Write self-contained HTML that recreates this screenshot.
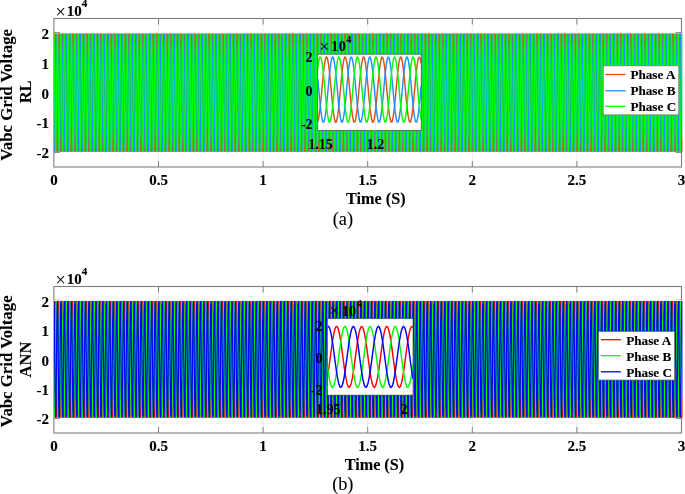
<!DOCTYPE html>
<html><head><meta charset="utf-8"><style>
html,body{margin:0;padding:0;background:#fff;width:685px;height:494px;overflow:hidden;position:relative}
svg{position:absolute;left:0;top:0;display:block}
.top{will-change:transform}
text{font-family:"Liberation Serif", serif;fill:#000;stroke:#000;stroke-width:0.12px}
.band{position:absolute}
.band i{display:block;width:100%;height:1px;background-size:7px 1px;background-repeat:repeat-x;background-position:var(--o) 0}
.a02{background-image:linear-gradient(90deg,#aacc71 0px 1px,#c3a4a3 1px 2px,#72c6e6 2px 3px,#5eff5e 3px 4px,#e6916b 4px 5px,#7fb7f2 5px 6px,#6aed8e 6px 7px)}
.a03{background-image:linear-gradient(90deg,#5ab80a 0px 1px,#846f81 1px 2px,#15b0b5 2px 3px,#00ff00 3px 4px,#c76217 4px 5px,#278df4 5px 6px,#06e836 6px 7px)}
.a04{background-image:linear-gradient(90deg,#4ec109 0px 1px,#7a728e 1px 2px,#14b5a9 2px 3px,#00ff00 3px 4px,#b96b17 4px 5px,#1e90ff 5px 6px,#05ed2a 6px 7px)}
.a05{background-image:linear-gradient(90deg,#47c708 0px 1px,#737496 1px 2px,#13baa0 2px 3px,#00ff00 3px 4px,#ab741f 4px 5px,#1e90ff 5px 6px,#04f120 6px 7px)}
.a06{background-image:linear-gradient(90deg,#40cc07 0px 1px,#6e769d 1px 2px,#12bd97 2px 3px,#00ff00 3px 4px,#9f7b25 4px 5px,#1e90ff 5px 6px,#03f518 6px 7px)}
.a07{background-image:linear-gradient(90deg,#3ad107 0px 1px,#6978a3 1px 2px,#11c090 2px 3px,#00ff00 3px 4px,#95812a 4px 5px,#1e90ff 5px 6px,#02f811 6px 7px)}
.a08{background-image:linear-gradient(90deg,#36d406 0px 1px,#6479a9 1px 2px,#10c38b 2px 3px,#00ff00 3px 4px,#8b8630 4px 5px,#1e90ff 5px 6px,#01fa0b 6px 7px)}
.a09{background-image:linear-gradient(90deg,#30d905 0px 1px,#607aad 1px 2px,#10c486 2px 3px,#00ff00 3px 4px,#818c33 4px 5px,#1e90ff 5px 6px,#01fc07 6px 7px)}
.a0a{background-image:linear-gradient(90deg,#2cdc05 0px 1px,#5e7bb0 1px 2px,#0fc880 2px 3px,#00ff00 3px 4px,#7b8f36 4px 5px,#1e90ff 5px 6px,#00ff00 6px 7px)}
.a0b{background-image:linear-gradient(90deg,#29df05 0px 1px,#587db7 1px 2px,#0fc97c 2px 3px,#00ff00 3px 4px,#72943c 4px 5px,#1e92fb 5px 6px,#00ff00 6px 7px)}
.a0c{background-image:linear-gradient(90deg,#24e204 0px 1px,#577db9 1px 2px,#0ecb78 2px 3px,#00ff00 3px 4px,#6c983e 4px 5px,#1d93f7 5px 6px,#00ff00 6px 7px)}
.a0d{background-image:linear-gradient(90deg,#22e404 0px 1px,#537fbe 1px 2px,#0dcd72 2px 3px,#00ff00 3px 4px,#669b43 4px 5px,#1c96f2 5px 6px,#00ff00 6px 7px)}
.a0e{background-image:linear-gradient(90deg,#1de803 0px 1px,#5080c1 1px 2px,#0dce70 2px 3px,#00ff00 3px 4px,#5ea045 4px 5px,#1c97ef 5px 6px,#00ff00 6px 7px)}
.a0f{background-image:linear-gradient(90deg,#1bea03 0px 1px,#4d81c6 1px 2px,#0cd16a 2px 3px,#00ff00 3px 4px,#59a349 4px 5px,#1b9ae9 5px 6px,#00ff00 6px 7px)}
.a0g{background-image:linear-gradient(90deg,#16ed03 0px 1px,#4b81c8 1px 2px,#0cd268 2px 3px,#00ff00 3px 4px,#52a74b 4px 5px,#1b9ae7 5px 6px,#00ff00 6px 7px)}
.a0h{background-image:linear-gradient(90deg,#14ef02 0px 1px,#4783cd 1px 2px,#0cd462 2px 3px,#00ff00 3px 4px,#4caa50 4px 5px,#1b9de2 5px 6px,#00ff00 6px 7px)}
.a0i{background-image:linear-gradient(90deg,#10f202 0px 1px,#4683ce 1px 2px,#0bd560 2px 3px,#00ff00 3px 4px,#47ae50 4px 5px,#1a9edf 5px 6px,#00ff00 6px 7px)}
.a0j{background-image:linear-gradient(90deg,#0ef402 0px 1px,#4185d4 1px 2px,#0bd75c 2px 3px,#00ff00 3px 4px,#40b156 4px 5px,#1a9fdc 5px 6px,#00ff00 6px 7px)}
.a0k{background-image:linear-gradient(90deg,#0cf601 0px 1px,#4185d4 1px 2px,#0ad958 2px 3px,#00ff00 3px 4px,#3eb356 4px 5px,#19a1d7 5px 6px,#00ff00 6px 7px)}
.a0l{background-image:linear-gradient(90deg,#07fa01 0px 1px,#3c86da 1px 2px,#0ad957 2px 3px,#00ff00 3px 4px,#34b85b 4px 5px,#19a2d6 5px 6px,#00ff00 6px 7px)}
.a0m{background-image:linear-gradient(90deg,#07fa01 0px 1px,#3b86db 1px 2px,#09dc50 2px 3px,#00ff00 3px 4px,#33b95c 4px 5px,#18a5cf 5px 6px,#00ff00 6px 7px)}
.a0n{background-image:linear-gradient(90deg,#01fe00 0px 1px,#3987de 1px 2px,#09dc50 2px 3px,#00ff00 3px 4px,#2bbe5f 4px 5px,#18a5cf 5px 6px,#00ff00 6px 7px)}
.a0o{background-image:linear-gradient(90deg,#00ff00 0px 1px,#3588e2 1px 2px,#09de4b 2px 3px,#00ff00 3px 4px,#26c063 4px 5px,#18a7ca 5px 6px,#00ff00 6px 7px)}
.a0p{background-image:linear-gradient(90deg,#00ff00 0px 1px,#338ae2 1px 2px,#08e048 2px 3px,#00ff00 3px 4px,#24c263 4px 5px,#17a8c7 5px 6px,#00ff00 6px 7px)}
.a0q{background-image:linear-gradient(90deg,#00ff00 0px 1px,#2a8fe8 1px 2px,#08e047 2px 3px,#00ff00 3px 4px,#1bc768 4px 5px,#17a8c7 5px 6px,#00ff00 6px 7px)}
.a0r{background-image:linear-gradient(90deg,#00ff00 0px 1px,#2990e9 1px 2px,#08e340 2px 3px,#00ff00 3px 4px,#1ac769 4px 5px,#16acbf 5px 6px,#00ff00 6px 7px)}
.a0s{background-image:linear-gradient(90deg,#00ff00 0px 1px,#2394e9 1px 2px,#08e340 2px 3px,#00ff00 3px 4px,#14cb6a 4px 5px,#16acbf 5px 6px,#00ff00 6px 7px)}
.a0t{background-image:linear-gradient(90deg,#00ff00 0px 1px,#1c97ef 1px 2px,#07e43e 2px 3px,#00ff00 3px 4px,#0dce70 4px 5px,#16adbe 5px 6px,#00ff00 6px 7px)}
.a0u{background-image:linear-gradient(90deg,#00ff00 0px 1px,#1c97ef 1px 2px,#07e738 2px 3px,#00ff00 3px 4px,#0dce70 4px 5px,#16afb7 5px 6px,#00ff00 6px 7px)}
.a0v{background-image:linear-gradient(90deg,#00ff00 0px 1px,#1b9ae8 1px 2px,#07e738 2px 3px,#00ff00 3px 4px,#0cd268 4px 5px,#16afb7 5px 6px,#00ff00 6px 7px)}
.a0w{background-image:linear-gradient(90deg,#00ff00 0px 1px,#1b9ae7 1px 2px,#06e835 2px 3px,#00ff00 3px 4px,#0cd268 4px 5px,#15b1b4 5px 6px,#00ff00 6px 7px)}
.a0x{background-image:linear-gradient(90deg,#00ff00 0px 1px,#1b9be6 1px 2px,#06ea30 2px 3px,#00ff00 3px 4px,#0cd267 4px 5px,#15b3af 5px 6px,#00ff00 6px 7px)}
.a0y{background-image:linear-gradient(90deg,#00ff00 0px 1px,#1a9edf 1px 2px,#06ea30 2px 3px,#00ff00 3px 4px,#0bd560 4px 5px,#15b3af 5px 6px,#00ff00 6px 7px)}
.a0z{background-image:linear-gradient(90deg,#00ff00 0px 1px,#1a9edf 1px 2px,#05ec2c 2px 3px,#00fd03 3px 4px,#0bd560 4px 5px,#14b4ac 5px 6px,#00fd03 6px 7px)}
.a010{background-image:linear-gradient(90deg,#00ff00 0px 1px,#1a9fde 1px 2px,#05ee28 2px 3px,#01fb09 3px 4px,#0bd65e 4px 5px,#14b6a7 5px 6px,#01fb09 6px 7px)}
.a011{background-image:linear-gradient(90deg,#00ff00 0px 1px,#19a1d7 1px 2px,#05ee28 2px 3px,#02f810 3px 4px,#0ad958 4px 5px,#14b6a7 5px 6px,#02f810 6px 7px)}
.a012{background-image:linear-gradient(90deg,#00ff00 0px 1px,#19a1d7 1px 2px,#04ef24 2px 3px,#02f614 3px 4px,#0ad958 4px 5px,#13b8a3 5px 6px,#02f614 6px 7px)}
.a013{background-image:linear-gradient(90deg,#00ff00 0px 1px,#19a2d6 1px 2px,#04f120 2px 3px,#03f419 3px 4px,#0ad956 4px 5px,#13ba9f 5px 6px,#03f419 6px 7px)}
.a014{background-image:linear-gradient(90deg,#00ff00 0px 1px,#18a5cf 1px 2px,#04f120 2px 3px,#04f120 3px 4px,#09dc50 4px 5px,#13ba9f 5px 6px,#04f120 6px 7px)}
.a015{background-image:linear-gradient(90deg,#00ff00 0px 1px,#18a5cf 1px 2px,#03f31c 2px 3px,#04f023 3px 4px,#09dc50 4px 5px,#12bb9c 5px 6px,#04f023 6px 7px)}
.a016{background-image:linear-gradient(90deg,#00ff00 0px 1px,#18a5ce 1px 2px,#03f518 2px 3px,#05ed28 3px 4px,#09dd4f 4px 5px,#12bd97 5px 6px,#05ed28 6px 7px)}
.a017{background-image:linear-gradient(90deg,#00ff00 0px 1px,#17a8c7 1px 2px,#03f518 2px 3px,#06ea30 3px 4px,#08e048 4px 5px,#12bd97 5px 6px,#06ea30 6px 7px)}
.a018{background-image:linear-gradient(90deg,#00ff00 0px 1px,#17a8c7 1px 2px,#03f615 2px 3px,#06e932 3px 4px,#08e048 4px 5px,#12be95 5px 6px,#06e932 6px 7px)}
.a019{background-image:linear-gradient(90deg,#00ff00 0px 1px,#17a8c7 1px 2px,#02f810 2px 3px,#07e738 3px 4px,#08e048 4px 5px,#11c18f 5px 6px,#07e738 6px 7px)}
.a01a{background-image:linear-gradient(90deg,#01fc07 0px 1px,#17acc0 1px 2px,#02f810 2px 3px,#07e43f 3px 4px,#08e340 4px 5px,#11c18f 5px 6px,#07e738 6px 7px)}
.a01b{background-image:linear-gradient(90deg,#01fc08 0px 1px,#16acbf 1px 2px,#02f90f 2px 3px,#08e341 3px 4px,#08e340 4px 5px,#11c18e 5px 6px,#07e639 6px 7px)}
.a01c{background-image:linear-gradient(90deg,#01fc08 0px 1px,#16acbf 1px 2px,#01fc08 2px 3px,#08e048 3px 4px,#08e340 4px 5px,#10c487 5px 6px,#08e340 6px 7px)}
.a01d{background-image:linear-gradient(90deg,#02f90e 0px 1px,#16aeb9 1px 2px,#01fc08 2px 3px,#09dd4e 3px 4px,#07e63a 4px 5px,#10c487 5px 6px,#08e340 6px 7px)}
.a01e{background-image:linear-gradient(90deg,#02f810 0px 1px,#16afb7 1px 2px,#01fc08 2px 3px,#09dc50 3px 4px,#07e738 4px 5px,#10c487 5px 6px,#08e340 6px 7px)}
.a01f{background-image:linear-gradient(90deg,#02f810 0px 1px,#16afb7 1px 2px,#00ff00 2px 3px,#0ad957 3px 4px,#07e738 4px 5px,#0fc780 5px 6px,#08e047 6px 7px)}
.a01g{background-image:linear-gradient(90deg,#02f713 0px 1px,#15b1b4 1px 2px,#00ff00 2px 3px,#0bd75b 3px 4px,#06e834 4px 5px,#0fc880 5px 6px,#08e048 6px 7px)}
.a01h{background-image:linear-gradient(90deg,#03f518 0px 1px,#15b3af 1px 2px,#00ff00 2px 3px,#0bd560 3px 4px,#06ea30 4px 5px,#0fc880 5px 6px,#08e048 6px 7px)}
.a01i{background-image:linear-gradient(90deg,#03f518 0px 1px,#14b5aa 1px 2px,#00ff00 2px 3px,#0cd365 3px 4px,#06ea30 4px 5px,#0eca7a 5px 6px,#09dd4d 6px 7px)}
.a01j{background-image:linear-gradient(90deg,#03f418 0px 1px,#14b6a7 1px 2px,#00ff00 2px 3px,#0cd268 3px 4px,#06ea2f 4px 5px,#0ecb78 5px 6px,#09dc50 6px 7px)}
.a01k{background-image:linear-gradient(90deg,#04f120 0px 1px,#13ba9f 1px 2px,#00ff00 2px 3px,#0dce70 3px 4px,#05ee28 4px 5px,#0ecb78 5px 6px,#09dc50 6px 7px)}
.a01l{background-image:linear-gradient(90deg,#04f120 0px 1px,#12bb9c 1px 2px,#00ff00 2px 3px,#0ecd73 3px 4px,#05ee28 4px 5px,#0ecc74 5px 6px,#0adb53 6px 7px)}
.a01m{background-image:linear-gradient(90deg,#04f120 0px 1px,#12bd97 1px 2px,#00ff00 2px 3px,#0ecb78 3px 4px,#05ee28 4px 5px,#0dce70 5px 6px,#0ad958 6px 7px)}
.a01n{background-image:linear-gradient(90deg,#04ee26 0px 1px,#11c091 1px 2px,#00ff00 2px 3px,#0fc87e 3px 4px,#04f022 4px 5px,#0dce70 5px 6px,#0ad958 6px 7px)}
.a01o{background-image:linear-gradient(90deg,#05ee28 0px 1px,#11c18e 1px 2px,#00ff00 2px 3px,#0fc781 3px 4px,#04f120 4px 5px,#0dcf6e 5px 6px,#0ad859 6px 7px)}
.a01p{background-image:linear-gradient(90deg,#05ee28 0px 1px,#10c487 1px 2px,#00ff00 2px 3px,#10c487 3px 4px,#04f120 4px 5px,#0cd268 5px 6px,#0bd560 6px 7px)}
.a01q{background-image:linear-gradient(90deg,#05ec2c 0px 1px,#0fc683 1px 2px,#00ff00 2px 3px,#10c28b 3px 4px,#03f31c 4px 5px,#0cd268 5px 6px,#0bd560 6px 7px)}
.a01r{background-image:linear-gradient(90deg,#06ea30 0px 1px,#0fc880 1px 2px,#00ff00 2px 3px,#11c18f 3px 4px,#03f518 4px 5px,#0cd268 5px 6px,#0bd560 6px 7px)}
.a01s{background-image:linear-gradient(90deg,#06ea30 0px 1px,#0ecb79 1px 2px,#00ff00 2px 3px,#12be96 3px 4px,#03f518 4px 5px,#0bd561 5px 6px,#0cd267 6px 7px)}
.a01t{background-image:linear-gradient(90deg,#06e932 0px 1px,#0ecc76 1px 2px,#00ff00 2px 3px,#12bc99 3px 4px,#03f516 4px 5px,#0bd560 5px 6px,#0cd268 6px 7px)}
.a01u{background-image:linear-gradient(90deg,#07e738 0px 1px,#0dce70 1px 2px,#00ff00 2px 3px,#13ba9f 3px 4px,#02f810 4px 5px,#0bd560 5px 6px,#0cd268 6px 7px)}
.a01v{background-image:linear-gradient(90deg,#07e738 0px 1px,#0dd06b 1px 2px,#00ff00 2px 3px,#13b8a4 3px 4px,#02f810 4px 5px,#0bd75b 5px 6px,#0dd06c 6px 7px)}
.a01w{background-image:linear-gradient(90deg,#07e738 0px 1px,#0cd268 1px 2px,#00ff00 2px 3px,#14b6a7 3px 4px,#02f810 4px 5px,#0ad958 5px 6px,#0dce70 6px 7px)}
.a01x{background-image:linear-gradient(90deg,#07e340 0px 1px,#0bd560 1px 2px,#00ff00 2px 3px,#15b3af 3px 4px,#01fb08 4px 5px,#0ad958 5px 6px,#0dce70 6px 7px)}
.a01y{background-image:linear-gradient(90deg,#08e340 0px 1px,#0bd65e 1px 2px,#00ff00 2px 3px,#15b2b1 3px 4px,#01fc08 4px 5px,#0ada56 5px 6px,#0dce72 6px 7px)}
.a01z{background-image:linear-gradient(90deg,#08e340 0px 1px,#0ad958 1px 2px,#00ff00 2px 3px,#16afb7 3px 4px,#01fc08 4px 5px,#09dc50 5px 6px,#0ecb78 6px 7px)}
.a020{background-image:linear-gradient(90deg,#08e145 0px 1px,#0adb52 1px 2px,#00ff00 2px 3px,#16adbd 3px 4px,#00fe02 4px 5px,#09dc50 5px 6px,#0ecb78 6px 7px)}
.a021{background-image:linear-gradient(90deg,#08e048 0px 1px,#09dc50 1px 2px,#00ff00 2px 3px,#16acbf 3px 4px,#00ff00 4px 5px,#09dc50 5px 6px,#0ecb78 6px 7px)}
.a022{background-image:linear-gradient(90deg,#08e048 0px 1px,#09df48 1px 2px,#00ff00 2px 3px,#17a9c6 3px 4px,#00ff00 4px 5px,#09df48 5px 6px,#0fc87f 6px 7px)}
.a023{background-image:linear-gradient(90deg,#09de4c 0px 1px,#08e243 1px 2px,#00ff00 2px 3px,#18a6cb 3px 4px,#00ff00 4px 5px,#08e243 5px 6px,#0fc880 6px 7px)}
.a024{background-image:linear-gradient(90deg,#09dc50 0px 1px,#08e340 1px 2px,#00ff00 2px 3px,#18a5cf 3px 4px,#00ff00 4px 5px,#08e340 5px 6px,#0fc880 6px 7px)}
.a025{background-image:linear-gradient(90deg,#09dc50 0px 1px,#07e63a 1px 2px,#01fc06 2px 3px,#18a5cf 3px 4px,#00ff00 4px 5px,#07e63a 5px 6px,#10c585 6px 7px)}
.a026{background-image:linear-gradient(90deg,#0adb52 0px 1px,#06e835 1px 2px,#01fc08 2px 3px,#19a4d2 3px 4px,#00ff00 4px 5px,#06e835 5px 6px,#10c487 6px 7px)}
.a027{background-image:linear-gradient(90deg,#0ad958 0px 1px,#06ea30 1px 2px,#01fc08 2px 3px,#19a1d7 3px 4px,#00ff00 4px 5px,#06ea30 5px 6px,#10c487 6px 7px)}
.a028{background-image:linear-gradient(90deg,#0ad958 0px 1px,#05ec2b 1px 2px,#01f90d 2px 3px,#19a1d7 3px 4px,#00ff00 4px 5px,#05ec2b 5px 6px,#10c28c 6px 7px)}
.a029{background-image:linear-gradient(90deg,#0bd85a 0px 1px,#04ef26 1px 2px,#02f810 2px 3px,#1aa0d9 3px 4px,#00ff00 4px 5px,#04ef26 5px 6px,#11c18f 6px 7px)}
.a02a{background-image:linear-gradient(90deg,#0bd560 0px 1px,#04f120 1px 2px,#02f810 2px 3px,#1a9edf 3px 4px,#00ff00 4px 5px,#04f120 5px 6px,#11c18f 6px 7px)}
.a02b{background-image:linear-gradient(90deg,#0bd560 0px 1px,#03f31c 1px 2px,#02f614 2px 3px,#1a9edf 3px 4px,#00ff00 4px 5px,#03f31c 5px 6px,#11bf94 6px 7px)}
.a02c{background-image:linear-gradient(90deg,#0bd561 0px 1px,#03f516 1px 2px,#03f518 2px 3px,#1a9de1 3px 4px,#00ff00 4px 5px,#03f516 5px 6px,#12bd97 6px 7px)}
.a02d{background-image:linear-gradient(90deg,#0cd268 0px 1px,#02f810 1px 2px,#03f518 2px 3px,#1b9ae7 3px 4px,#00ff00 4px 5px,#02f810 5px 6px,#12bd97 6px 7px)}
.a02e{background-image:linear-gradient(90deg,#0cd268 0px 1px,#01fa0c 1px 2px,#03f31c 2px 3px,#1b9ae7 3px 4px,#00ff00 4px 5px,#01fa0c 5px 6px,#12bb9b 6px 7px)}
.a02f{background-image:linear-gradient(90deg,#0cd169 0px 1px,#01fc06 1px 2px,#04f120 2px 3px,#1b9ae9 3px 4px,#00ff00 4px 5px,#01fc06 5px 6px,#13ba9f 6px 7px)}
.a02g{background-image:linear-gradient(90deg,#0dce70 0px 1px,#00ff00 1px 2px,#04f120 2px 3px,#1c97ef 3px 4px,#00ff00 4px 5px,#00ff00 5px 6px,#13ba9f 6px 7px)}
.a02h{background-image:linear-gradient(90deg,#0dce70 0px 1px,#00ff00 1px 2px,#04ef24 2px 3px,#1c97ef 3px 4px,#00ff00 4px 5px,#00ff00 5px 6px,#13b8a4 6px 7px)}
.a02i{background-image:linear-gradient(90deg,#0dcd72 0px 1px,#00ff00 1px 2px,#05ee28 2px 3px,#1c96f1 3px 4px,#00ff00 4px 5px,#00ff00 5px 6px,#14b6a7 6px 7px)}
.a02j{background-image:linear-gradient(90deg,#0ecb78 0px 1px,#00ff00 1px 2px,#05ee28 2px 3px,#1d93f7 3px 4px,#00ff00 4px 5px,#00ff00 5px 6px,#14b6a7 6px 7px)}
.a02k{background-image:linear-gradient(90deg,#0ecb78 0px 1px,#00ff00 1px 2px,#05eb2e 2px 3px,#1d93f7 3px 4px,#00ff00 4px 5px,#00ff00 5px 6px,#14b4ad 6px 7px)}
.a02l{background-image:linear-gradient(90deg,#0ec97b 0px 1px,#00ff00 1px 2px,#06ea30 2px 3px,#1d92fb 3px 4px,#00ff00 4px 5px,#00ff00 5px 6px,#15b3af 6px 7px)}
.a02m{background-image:linear-gradient(90deg,#0fc880 0px 1px,#00ff00 1px 2px,#09e92c 2px 3px,#1e90ff 3px 4px,#00ff00 4px 5px,#00ff00 5px 6px,#18b2ac 6px 7px)}
.a02n{background-image:linear-gradient(90deg,#0fc880 0px 1px,#00ff00 1px 2px,#12e329 2px 3px,#1e90ff 3px 4px,#00ff00 4px 5px,#00ff00 5px 6px,#21aca9 6px 7px)}
.a02o{background-image:linear-gradient(90deg,#10c584 0px 1px,#00ff00 1px 2px,#12e329 2px 3px,#1e90ff 3px 4px,#01fd05 4px 5px,#00ff00 5px 6px,#21aba9 6px 7px)}
.a02p{background-image:linear-gradient(90deg,#10c487 0px 1px,#00ff00 1px 2px,#19e024 2px 3px,#1e90ff 3px 4px,#01fc08 4px 5px,#00ff00 5px 6px,#28a8a3 6px 7px)}
.a02q{background-image:linear-gradient(90deg,#10c488 0px 1px,#00ff00 1px 2px,#1fdc23 2px 3px,#1e90ff 3px 4px,#01fb08 4px 5px,#00ff00 5px 6px,#2ea4a2 6px 7px)}
.a02r{background-image:linear-gradient(90deg,#11c18f 0px 1px,#00ff00 1px 2px,#20db21 2px 3px,#1e90ff 3px 4px,#02f810 4px 5px,#00ff00 5px 6px,#2fa4a1 6px 7px)}
.a02s{background-image:linear-gradient(90deg,#11c18f 0px 1px,#00ff00 1px 2px,#2ad61c 2px 3px,#1e90ff 3px 4px,#02f810 4px 5px,#00ff00 5px 6px,#399e9c 6px 7px)}
.a02t{background-image:linear-gradient(90deg,#11bf94 0px 1px,#00ff00 1px 2px,#2cd41d 2px 3px,#1e90ff 3px 4px,#02f614 4px 5px,#00ff00 5px 6px,#3a9d9c 6px 7px)}
.a02u{background-image:linear-gradient(90deg,#12bd97 0px 1px,#00ff00 1px 2px,#33d117 2px 3px,#1e90ff 3px 4px,#03f518 4px 5px,#00ff00 5px 6px,#429997 6px 7px)}
.a02v{background-image:linear-gradient(90deg,#12bc99 0px 1px,#00ff00 1px 2px,#38cd16 2px 3px,#1e90ff 3px 4px,#03f41a 4px 5px,#00ff00 5px 6px,#479696 6px 7px)}
.a02w{background-image:linear-gradient(90deg,#13ba9f 0px 1px,#00ff00 1px 2px,#3bcc13 2px 3px,#1e90ff 3px 4px,#04f120 4px 5px,#00ff00 5px 6px,#4a9492 6px 7px)}
.a02x{background-image:linear-gradient(90deg,#13ba9f 0px 1px,#00ff00 1px 2px,#45c610 2px 3px,#1e90ff 3px 4px,#04f120 4px 5px,#00ff00 5px 6px,#548e8f 6px 7px)}
.a02y{background-image:linear-gradient(90deg,#14b6a7 0px 1px,#00ff00 1px 2px,#47c50d 2px 3px,#1e90ff 3px 4px,#05ee28 4px 5px,#00ff00 5px 6px,#568e8d 6px 7px)}
.a02z{background-image:linear-gradient(90deg,#14b6a7 0px 1px,#00ff00 1px 2px,#51bf09 2px 3px,#1e90ff 3px 4px,#05ee28 4px 5px,#00ff00 5px 6px,#608789 6px 7px)}
.a030{background-image:linear-gradient(90deg,#15b3af 0px 1px,#00ff00 1px 2px,#51be09 2px 3px,#208ffd 3px 4px,#06ea2f 4px 5px,#00ff00 5px 6px,#628687 6px 7px)}
.a031{background-image:linear-gradient(90deg,#15b3af 0px 1px,#00ff00 1px 2px,#58ba0a 2px 3px,#248ef8 3px 4px,#06ea30 4px 5px,#00ff00 5px 6px,#6c8082 6px 7px)}
.a032{background-image:linear-gradient(90deg,#16afb7 0px 1px,#00ff00 1px 2px,#58b90a 2px 3px,#268df5 3px 4px,#07e738 4px 5px,#00ff00 5px 6px,#707f80 6px 7px)}
.a033{background-image:linear-gradient(90deg,#16afb9 0px 1px,#00ff00 1px 2px,#5fb40b 2px 3px,#2a8cf1 3px 4px,#07e639 4px 5px,#00ff00 5px 6px,#7a787c 6px 7px)}
.a034{background-image:linear-gradient(90deg,#16acbf 0px 1px,#00ff00 1px 2px,#60b30b 2px 3px,#2d8bec 3px 4px,#08e340 4px 5px,#00ff00 5px 6px,#7f7678 6px 7px)}
.a035{background-image:linear-gradient(90deg,#17aac4 0px 1px,#00ff00 1px 2px,#66ae0c 2px 3px,#308ae9 3px 4px,#08e144 4px 5px,#00ff00 5px 6px,#877175 6px 7px)}
.a036{background-image:linear-gradient(90deg,#17a8c8 0px 1px,#00ff00 1px 2px,#6bab0c 2px 3px,#3588e2 3px 4px,#08e048 4px 5px,#00ff00 5px 6px,#916b6f 6px 7px)}
.a037{background-image:linear-gradient(90deg,#18a5cf 0px 1px,#00ff00 1px 2px,#6fa70d 2px 3px,#3887de 3px 4px,#09dc50 4px 5px,#02fd00 5px 6px,#96696b 6px 7px)}
.a038{background-image:linear-gradient(90deg,#19a2d6 0px 1px,#00ff00 1px 2px,#74a30d 2px 3px,#3d86d8 3px 4px,#0ad956 4px 5px,#08f901 5px 6px,#9b6765 6px 7px)}
.a039{background-image:linear-gradient(90deg,#1a9fdc 0px 1px,#00ff00 1px 2px,#7b9e0e 2px 3px,#4384d2 3px 4px,#0bd75d 4px 5px,#0ef402 5px 6px,#a0665f 6px 7px)}
.a03a{background-image:linear-gradient(90deg,#1b9be5 0px 1px,#00ff00 1px 2px,#82980f 2px 3px,#4982ca 3px 4px,#0cd365 4px 5px,#16ee03 5px 6px,#a76357 6px 7px)}
.a03b{background-image:linear-gradient(90deg,#1c96f1 0px 1px,#00ff00 1px 2px,#8c9010 2px 3px,#517fc0 3px 4px,#0dce71 4px 5px,#1fe604 5px 6px,#af614d 6px 7px)}
.a03c{background-image:linear-gradient(90deg,#2996fe 0px 1px,#13fd16 1px 2px,#ae8a2c 2px 3px,#6f87b6 3px 4px,#27ca93 4px 5px,#43e020 5px 6px,#c86743 6px 7px)}
.a12{background-image:linear-gradient(90deg,#ceb178 0px 1px,#a7b3ce 1px 2px,#7bdcc2 2px 3px,#85ec6f 3px 4px,#e09b80 4px 5px,#73baff 5px 6px,#69fd6c 6px 7px)}
.a13{background-image:linear-gradient(90deg,#908d11 0px 1px,#567eba 1px 2px,#0ecc76 2px 3px,#23e304 3px 4px,#b35f47 4px 5px,#1d94f5 5px 6px,#00ff00 6px 7px)}
.a14{background-image:linear-gradient(90deg,#84960f 0px 1px,#4b81c7 1px 2px,#0cd169 2px 3px,#18ec03 3px 4px,#a96354 4px 5px,#1b9ae9 5px 6px,#00ff00 6px 7px)}
.a15{background-image:linear-gradient(90deg,#7d9c0e 0px 1px,#4583cf 1px 2px,#0bd55f 2px 3px,#11f202 3px 4px,#a2655c 4px 5px,#1a9edf 5px 6px,#00ff00 6px 7px)}
.a16{background-image:linear-gradient(90deg,#76a10e 0px 1px,#3f85d6 1px 2px,#0ad958 2px 3px,#0af701 3px 4px,#9d6763 4px 5px,#19a1d7 5px 6px,#00ff00 6px 7px)}
.a17{background-image:linear-gradient(90deg,#71a50d 0px 1px,#3b87dc 1px 2px,#09dc50 2px 3px,#05fb01 3px 4px,#986869 4px 5px,#18a5cf 5px 6px,#00ff00 6px 7px)}
.a18{background-image:linear-gradient(90deg,#6ca90c 0px 1px,#3588e2 1px 2px,#09de4b 2px 3px,#00ff00 3px 4px,#936a6f 4px 5px,#18a7ca 5px 6px,#00ff00 6px 7px)}
.a19{background-image:linear-gradient(90deg,#66ae0c 0px 1px,#328ae7 1px 2px,#08e146 2px 3px,#00ff00 3px 4px,#897073 4px 5px,#17a9c5 5px 6px,#00ff00 6px 7px)}
.a1a{background-image:linear-gradient(90deg,#63b00b 0px 1px,#2f8aea 1px 2px,#08e340 2px 3px,#00ff00 3px 4px,#847376 4px 5px,#16acbf 5px 6px,#00ff00 6px 7px)}
.a1b{background-image:linear-gradient(90deg,#5fb40b 0px 1px,#2a8cf1 1px 2px,#07e53c 2px 3px,#00ff00 3px 4px,#7a787c 4px 5px,#16adbc 5px 6px,#00ff00 6px 7px)}
.a1c{background-image:linear-gradient(90deg,#5ab70a 0px 1px,#288df3 1px 2px,#07e738 2px 3px,#00ff00 3px 4px,#737d7e 4px 5px,#16afb7 5px 6px,#00ff00 6px 7px)}
.a1d{background-image:linear-gradient(90deg,#58b90a 0px 1px,#248ef8 1px 2px,#06e933 2px 3px,#00ff00 3px 4px,#6d8082 4px 5px,#15b1b2 5px 6px,#00ff00 6px 7px)}
.a1e{background-image:linear-gradient(90deg,#53bd0a 0px 1px,#218ffb 1px 2px,#06ea30 2px 3px,#00ff00 3px 4px,#658585 4px 5px,#15b3af 5px 6px,#00ff00 6px 7px)}
.a1f{background-image:linear-gradient(90deg,#51be09 0px 1px,#1e90ff 1px 2px,#05ed2a 2px 3px,#00ff00 3px 4px,#608789 4px 5px,#14b5aa 5px 6px,#00ff00 6px 7px)}
.a1g{background-image:linear-gradient(90deg,#4ac40c 0px 1px,#1e90ff 1px 2px,#05ee28 2px 3px,#00ff00 3px 4px,#598c8b 4px 5px,#14b6a7 5px 6px,#00ff00 6px 7px)}
.a1h{background-image:linear-gradient(90deg,#45c610 0px 1px,#1e90ff 1px 2px,#04f023 2px 3px,#00ff00 3px 4px,#548e8f 4px 5px,#13b8a2 5px 6px,#00ff00 6px 7px)}
.a1i{background-image:linear-gradient(90deg,#3fca10 0px 1px,#1e90ff 1px 2px,#04f120 2px 3px,#00ff00 3px 4px,#4e9290 4px 5px,#13ba9f 5px 6px,#00ff00 6px 7px)}
.a1j{background-image:linear-gradient(90deg,#38cd16 0px 1px,#1e90ff 1px 2px,#03f21d 2px 3px,#00ff00 3px 4px,#479696 4px 5px,#12bb9c 5px 6px,#00ff00 6px 7px)}
.a1k{background-image:linear-gradient(90deg,#36cf16 0px 1px,#1e90ff 1px 2px,#03f518 2px 3px,#00ff00 3px 4px,#459795 4px 5px,#12bd97 5px 6px,#00ff00 6px 7px)}
.a1l{background-image:linear-gradient(90deg,#2dd41b 0px 1px,#1e90ff 1px 2px,#03f517 2px 3px,#00ff00 3px 4px,#3c9c9b 4px 5px,#12bd97 5px 6px,#00ff00 6px 7px)}
.a1m{background-image:linear-gradient(90deg,#2cd41d 0px 1px,#1e90ff 1px 2px,#02f810 2px 3px,#00ff00 3px 4px,#3a9d9c 4px 5px,#11c18f 5px 6px,#00ff00 6px 7px)}
.a1n{background-image:linear-gradient(90deg,#23da1e 0px 1px,#1e90ff 1px 2px,#02f810 2px 3px,#00ff00 3px 4px,#32a39e 4px 5px,#11c18f 5px 6px,#00ff00 6px 7px)}
.a1o{background-image:linear-gradient(90deg,#1fdc23 0px 1px,#1e90ff 1px 2px,#01fa0b 2px 3px,#00ff00 3px 4px,#2ea4a2 4px 5px,#10c38b 5px 6px,#00ff00 6px 7px)}
.a1p{background-image:linear-gradient(90deg,#1cde23 0px 1px,#1e90ff 1px 2px,#01fc08 2px 3px,#00ff00 3px 4px,#2ba6a2 4px 5px,#10c487 5px 6px,#00ff00 6px 7px)}
.a1q{background-image:linear-gradient(90deg,#14e228 0px 1px,#1e90ff 1px 2px,#01fc08 2px 3px,#00ff00 3px 4px,#23aba7 4px 5px,#10c487 5px 6px,#00ff00 6px 7px)}
.a1r{background-image:linear-gradient(90deg,#12e329 0px 1px,#1e90ff 1px 2px,#00ff00 2px 3px,#00ff00 3px 4px,#21aba9 4px 5px,#0fc780 5px 6px,#00ff00 6px 7px)}
.a1s{background-image:linear-gradient(90deg,#0ce729 0px 1px,#1e90ff 1px 2px,#00ff00 2px 3px,#00ff00 3px 4px,#1bb0a9 4px 5px,#0fc880 5px 6px,#00ff00 6px 7px)}
.a1t{background-image:linear-gradient(90deg,#06ea30 0px 1px,#1e91fd 1px 2px,#00ff00 2px 3px,#00ff00 3px 4px,#15b3af 4px 5px,#0fc87e 5px 6px,#00ff00 6px 7px)}
.a1u{background-image:linear-gradient(90deg,#06ea30 0px 1px,#1d93f7 1px 2px,#00ff00 2px 3px,#00ff00 3px 4px,#15b3af 4px 5px,#0ecb78 5px 6px,#00ff00 6px 7px)}
.a1v{background-image:linear-gradient(90deg,#05ed29 0px 1px,#1d93f7 1px 2px,#00ff00 2px 3px,#00ff00 3px 4px,#14b6a8 4px 5px,#0ecb78 5px 6px,#00ff00 6px 7px)}
.a1w{background-image:linear-gradient(90deg,#05ee28 0px 1px,#1d95f3 1px 2px,#00ff00 2px 3px,#00ff00 3px 4px,#14b6a7 4px 5px,#0ecd74 5px 6px,#00ff00 6px 7px)}
.a1x{background-image:linear-gradient(90deg,#05ee28 0px 1px,#1c97ef 1px 2px,#00ff00 2px 3px,#00ff00 3px 4px,#14b6a7 4px 5px,#0dce70 5px 6px,#00ff00 6px 7px)}
.a1y{background-image:linear-gradient(90deg,#04f120 0px 1px,#1c97ef 1px 2px,#00ff00 2px 3px,#00ff00 3px 4px,#13ba9f 4px 5px,#0dce70 5px 6px,#00ff00 6px 7px)}
.a1z{background-image:linear-gradient(90deg,#04f120 0px 1px,#1c99ea 1px 2px,#00ff00 2px 3px,#00fd04 3px 4px,#13ba9f 4px 5px,#0dd06b 5px 6px,#00fd04 6px 7px)}
.a110{background-image:linear-gradient(90deg,#04f120 0px 1px,#1b9ae7 1px 2px,#00ff00 2px 3px,#01fb08 3px 4px,#13ba9f 4px 5px,#0cd268 5px 6px,#01fb08 6px 7px)}
.a111{background-image:linear-gradient(90deg,#03f518 0px 1px,#1b9ae7 1px 2px,#00ff00 2px 3px,#02f810 3px 4px,#12bd97 4px 5px,#0cd268 5px 6px,#02f810 6px 7px)}
.a112{background-image:linear-gradient(90deg,#03f518 0px 1px,#1b9ce2 1px 2px,#00ff00 2px 3px,#02f614 3px 4px,#12bd97 4px 5px,#0cd463 5px 6px,#02f614 6px 7px)}
.a113{background-image:linear-gradient(90deg,#03f517 0px 1px,#1a9edf 1px 2px,#00ff00 2px 3px,#03f418 3px 4px,#12bd97 4px 5px,#0bd560 5px 6px,#03f418 6px 7px)}
.a114{background-image:linear-gradient(90deg,#02f810 0px 1px,#1a9edf 1px 2px,#00ff00 2px 3px,#04f120 3px 4px,#11c18f 4px 5px,#0bd560 5px 6px,#04f120 6px 7px)}
.a115{background-image:linear-gradient(90deg,#02f810 0px 1px,#1aa0db 1px 2px,#00ff00 2px 3px,#04ef24 3px 4px,#11c18f 4px 5px,#0bd75b 5px 6px,#04ef24 6px 7px)}
.a116{background-image:linear-gradient(90deg,#02f810 0px 1px,#19a1d7 1px 2px,#00ff00 2px 3px,#05ee28 3px 4px,#11c18f 4px 5px,#0ad958 5px 6px,#05ee28 6px 7px)}
.a117{background-image:linear-gradient(90deg,#01fb08 0px 1px,#19a1d7 1px 2px,#00ff00 2px 3px,#06ea30 3px 4px,#10c488 4px 5px,#0ad958 5px 6px,#06ea30 6px 7px)}
.a118{background-image:linear-gradient(90deg,#01fc08 0px 1px,#19a2d5 1px 2px,#00ff00 2px 3px,#06e932 3px 4px,#10c487 4px 5px,#0ada55 5px 6px,#06e932 6px 7px)}
.a119{background-image:linear-gradient(90deg,#01fc08 0px 1px,#18a5cf 1px 2px,#00ff00 2px 3px,#07e738 3px 4px,#10c487 4px 5px,#09dc50 5px 6px,#07e738 6px 7px)}
.a11a{background-image:linear-gradient(90deg,#00fe01 0px 1px,#18a5cf 1px 2px,#00ff00 2px 3px,#07e43f 3px 4px,#0fc781 4px 5px,#09dc50 5px 6px,#07e43f 6px 7px)}
.a11b{background-image:linear-gradient(90deg,#00ff00 0px 1px,#18a5cf 1px 2px,#00ff00 2px 3px,#08e340 3px 4px,#0fc880 4px 5px,#09dd4f 5px 6px,#08e340 6px 7px)}
.a11c{background-image:linear-gradient(90deg,#00ff00 0px 1px,#17a8c7 1px 2px,#00ff00 2px 3px,#08e048 3px 4px,#0fc880 4px 5px,#08e048 5px 6px,#08e048 6px 7px)}
.a11d{background-image:linear-gradient(90deg,#00ff00 0px 1px,#17aac2 1px 2px,#00ff00 2px 3px,#09de4d 3px 4px,#0eca7b 4px 5px,#08e048 5px 6px,#09de4d 6px 7px)}
.a11e{background-image:linear-gradient(90deg,#00ff00 0px 1px,#16acbf 1px 2px,#00ff00 2px 3px,#09dc50 3px 4px,#0ecb78 4px 5px,#08e048 5px 6px,#09dc50 6px 7px)}
.a11f{background-image:linear-gradient(90deg,#00ff00 0px 1px,#16afb9 1px 2px,#01fc07 2px 3px,#09dc50 3px 4px,#0ecb78 4px 5px,#08e341 5px 6px,#0ad956 6px 7px)}
.a11g{background-image:linear-gradient(90deg,#00ff00 0px 1px,#15b1b4 1px 2px,#01fc08 2px 3px,#0adb53 3px 4px,#0ecc74 4px 5px,#08e340 5px 6px,#0bd75b 6px 7px)}
.a11h{background-image:linear-gradient(90deg,#00ff00 0px 1px,#15b3af 1px 2px,#01fc08 2px 3px,#0ad958 3px 4px,#0dce70 4px 5px,#08e340 5px 6px,#0bd560 6px 7px)}
.a11i{background-image:linear-gradient(90deg,#00ff00 0px 1px,#14b5aa 1px 2px,#02f90d 2px 3px,#0ad958 3px 4px,#0dce70 4px 5px,#07e53b 5px 6px,#0cd365 6px 7px)}
.a11j{background-image:linear-gradient(90deg,#00ff00 0px 1px,#14b7a6 1px 2px,#02f810 2px 3px,#0ad859 3px 4px,#0dcf6e 4px 5px,#07e738 5px 6px,#0cd169 6px 7px)}
.a11k{background-image:linear-gradient(90deg,#00ff00 0px 1px,#13ba9f 1px 2px,#02f810 2px 3px,#0bd560 3px 4px,#0cd268 4px 5px,#07e738 5px 6px,#0dce70 6px 7px)}
.a11l{background-image:linear-gradient(90deg,#00ff00 0px 1px,#12bb9d 1px 2px,#02f713 2px 3px,#0bd560 3px 4px,#0cd268 4px 5px,#06e835 5px 6px,#0dcd72 6px 7px)}
.a11m{background-image:linear-gradient(90deg,#00ff00 0px 1px,#12bd97 1px 2px,#03f518 2px 3px,#0bd560 3px 4px,#0cd268 4px 5px,#06ea30 5px 6px,#0ecb78 6px 7px)}
.a11n{background-image:linear-gradient(90deg,#00ff00 0px 1px,#11c090 1px 2px,#03f518 2px 3px,#0cd267 3px 4px,#0bd561 4px 5px,#06ea30 5px 6px,#0fc87f 6px 7px)}
.a11o{background-image:linear-gradient(90deg,#00ff00 0px 1px,#11c18f 1px 2px,#03f418 2px 3px,#0cd268 3px 4px,#0bd560 4px 5px,#06eb2f 5px 6px,#0fc780 6px 7px)}
.a11p{background-image:linear-gradient(90deg,#00ff00 0px 1px,#10c487 1px 2px,#04f120 2px 3px,#0cd268 3px 4px,#0bd560 4px 5px,#05ee28 5px 6px,#10c487 6px 7px)}
.a11q{background-image:linear-gradient(90deg,#00ff00 0px 1px,#0fc683 1px 2px,#04f120 2px 3px,#0dd06c 3px 4px,#0bd75b 4px 5px,#05ee28 5px 6px,#10c28c 6px 7px)}
.a11r{background-image:linear-gradient(90deg,#00ff00 0px 1px,#0fc880 1px 2px,#04f120 2px 3px,#0dce70 3px 4px,#0ad958 4px 5px,#05ee28 5px 6px,#11c18f 6px 7px)}
.a11s{background-image:linear-gradient(90deg,#00ff00 0px 1px,#0eca79 1px 2px,#04ee26 2px 3px,#0dce70 3px 4px,#0ad958 4px 5px,#04f022 5px 6px,#12be96 6px 7px)}
.a11t{background-image:linear-gradient(90deg,#00ff00 0px 1px,#0ecc75 1px 2px,#05ee28 2px 3px,#0dcd72 3px 4px,#0ada55 4px 5px,#04f120 5px 6px,#12bc9a 6px 7px)}
.a11u{background-image:linear-gradient(90deg,#00ff00 0px 1px,#0dce70 1px 2px,#05ee28 2px 3px,#0ecb78 3px 4px,#09dc50 4px 5px,#04f120 5px 6px,#13ba9f 6px 7px)}
.a11v{background-image:linear-gradient(90deg,#00ff00 0px 1px,#0dd06b 1px 2px,#05ec2c 2px 3px,#0ecb78 3px 4px,#09dc50 4px 5px,#03f31c 5px 6px,#13b8a3 6px 7px)}
.a11w{background-image:linear-gradient(90deg,#00ff00 0px 1px,#0cd267 1px 2px,#06ea30 2px 3px,#0ecb78 3px 4px,#09dd4f 4px 5px,#03f518 5px 6px,#14b6a8 6px 7px)}
.a11x{background-image:linear-gradient(90deg,#00ff00 0px 1px,#0bd560 1px 2px,#06ea30 2px 3px,#0fc880 3px 4px,#08e048 4px 5px,#03f518 5px 6px,#15b3af 6px 7px)}
.a11y{background-image:linear-gradient(90deg,#00ff00 0px 1px,#0bd65d 1px 2px,#06e932 2px 3px,#0fc880 3px 4px,#08e048 4px 5px,#03f616 5px 6px,#15b2b1 6px 7px)}
.a11z{background-image:linear-gradient(90deg,#00ff00 0px 1px,#0ad958 1px 2px,#07e738 2px 3px,#0fc880 3px 4px,#08e048 4px 5px,#02f810 5px 6px,#16afb7 6px 7px)}
.a120{background-image:linear-gradient(90deg,#01fc06 0px 1px,#0adc51 1px 2px,#07e738 2px 3px,#10c586 3px 4px,#08e341 4px 5px,#02f810 5px 6px,#16afb7 6px 7px)}
.a121{background-image:linear-gradient(90deg,#01fc08 0px 1px,#09dc4f 1px 2px,#07e738 2px 3px,#10c487 3px 4px,#08e340 4px 5px,#02f810 5px 6px,#16afb8 6px 7px)}
.a122{background-image:linear-gradient(90deg,#01fc08 0px 1px,#08e048 1px 2px,#08e340 2px 3px,#10c487 3px 4px,#08e340 4px 5px,#01fc08 5px 6px,#16acbf 6px 7px)}
.a123{background-image:linear-gradient(90deg,#01f90d 0px 1px,#08e243 1px 2px,#08e340 2px 3px,#10c28c 3px 4px,#07e53b 4px 5px,#01fc08 5px 6px,#16acbf 6px 7px)}
.a124{background-image:linear-gradient(90deg,#02f810 0px 1px,#08e340 1px 2px,#08e340 2px 3px,#11c18f 3px 4px,#07e738 4px 5px,#01fc08 5px 6px,#16acbf 6px 7px)}
.a125{background-image:linear-gradient(90deg,#02f810 0px 1px,#07e639 1px 2px,#08e046 2px 3px,#11c18f 3px 4px,#07e738 4px 5px,#00fe01 5px 6px,#17a9c6 6px 7px)}
.a126{background-image:linear-gradient(90deg,#02f713 0px 1px,#06e835 1px 2px,#08e048 2px 3px,#11bf92 3px 4px,#06e835 4px 5px,#00ff00 5px 6px,#17a8c7 6px 7px)}
.a127{background-image:linear-gradient(90deg,#03f518 0px 1px,#06ea30 1px 2px,#08e048 2px 3px,#12bd97 3px 4px,#06ea30 4px 5px,#00ff00 5px 6px,#17a8c7 6px 7px)}
.a128{background-image:linear-gradient(90deg,#03f518 0px 1px,#05ed2a 1px 2px,#09dd4d 2px 3px,#12bd97 3px 4px,#05ed2a 4px 5px,#00ff00 5px 6px,#18a6cd 6px 7px)}
.a129{background-image:linear-gradient(90deg,#03f419 0px 1px,#05ee27 1px 2px,#09dc50 2px 3px,#12bd98 3px 4px,#05ee27 4px 5px,#00ff00 5px 6px,#18a5cf 6px 7px)}
.a12a{background-image:linear-gradient(90deg,#04f120 0px 1px,#04f120 1px 2px,#09dc50 2px 3px,#13ba9f 3px 4px,#04f120 4px 5px,#00ff00 5px 6px,#18a5cf 6px 7px)}
.a12b{background-image:linear-gradient(90deg,#04f120 0px 1px,#03f31b 1px 2px,#0ada54 2px 3px,#13ba9f 3px 4px,#03f31b 4px 5px,#00ff00 5px 6px,#19a3d4 6px 7px)}
.a12c{background-image:linear-gradient(90deg,#04f121 0px 1px,#03f517 1px 2px,#0ad958 2px 3px,#13b9a0 3px 4px,#03f517 4px 5px,#00ff00 5px 6px,#19a1d7 6px 7px)}
.a12d{background-image:linear-gradient(90deg,#05ee28 0px 1px,#02f810 1px 2px,#0ad958 2px 3px,#14b6a7 3px 4px,#02f810 4px 5px,#00ff00 5px 6px,#19a1d7 6px 7px)}
.a12e{background-image:linear-gradient(90deg,#05ee28 0px 1px,#01fa0b 1px 2px,#0bd75c 2px 3px,#14b6a7 3px 4px,#01fa0b 4px 5px,#00ff00 5px 6px,#1a9fdc 6px 7px)}
.a12f{background-image:linear-gradient(90deg,#05ed29 0px 1px,#01fc07 1px 2px,#0bd560 2px 3px,#14b6a8 3px 4px,#01fc07 4px 5px,#00ff00 5px 6px,#1a9edf 6px 7px)}
.a12g{background-image:linear-gradient(90deg,#06ea30 0px 1px,#00ff00 1px 2px,#0bd560 2px 3px,#15b3af 3px 4px,#00ff00 4px 5px,#00ff00 5px 6px,#1a9edf 6px 7px)}
.a12h{background-image:linear-gradient(90deg,#06ea30 0px 1px,#00ff00 1px 2px,#0cd365 2px 3px,#15b3af 3px 4px,#00ff00 4px 5px,#00ff00 5px 6px,#1b9ce4 6px 7px)}
.a12i{background-image:linear-gradient(90deg,#06e932 0px 1px,#00ff00 1px 2px,#0cd268 2px 3px,#15b2b1 3px 4px,#00ff00 4px 5px,#00ff00 5px 6px,#1b9ae7 6px 7px)}
.a12j{background-image:linear-gradient(90deg,#07e738 0px 1px,#00ff00 1px 2px,#0cd268 2px 3px,#16afb7 3px 4px,#00ff00 4px 5px,#00ff00 5px 6px,#1b9ae7 6px 7px)}
.a12k{background-image:linear-gradient(90deg,#07e738 0px 1px,#00ff00 1px 2px,#0dcf6d 2px 3px,#16afb7 3px 4px,#00ff00 4px 5px,#00ff00 5px 6px,#1c98ed 6px 7px)}
.a12l{background-image:linear-gradient(90deg,#07e53b 0px 1px,#00ff00 1px 2px,#0dce70 2px 3px,#16aebb 3px 4px,#00ff00 4px 5px,#00ff00 5px 6px,#1c97ef 6px 7px)}
.a12m{background-image:linear-gradient(90deg,#08e340 0px 1px,#00ff00 1px 2px,#10cd6c 2px 3px,#16acbf 3px 4px,#00ff00 4px 5px,#00ff00 5px 6px,#1f96eb 6px 7px)}
.a12n{background-image:linear-gradient(90deg,#08e340 0px 1px,#00ff00 1px 2px,#19c869 2px 3px,#16acbf 3px 4px,#00ff00 4px 5px,#00ff00 5px 6px,#2890e9 6px 7px)}
.a12o{background-image:linear-gradient(90deg,#08e145 0px 1px,#00ff00 1px 2px,#1ac769 2px 3px,#17a9c5 3px 4px,#00ff00 4px 5px,#00ff00 5px 6px,#2990e9 6px 7px)}
.a12p{background-image:linear-gradient(90deg,#08e048 0px 1px,#00ff00 1px 2px,#21c463 2px 3px,#17a8c7 3px 4px,#00ff00 4px 5px,#00ff00 5px 6px,#308de3 6px 7px)}
.a12q{background-image:linear-gradient(90deg,#09df49 0px 1px,#00ff00 1px 2px,#26c063 2px 3px,#18a8c8 3px 4px,#00ff00 4px 5px,#00ff00 5px 6px,#3588e2 6px 7px)}
.a12r{background-image:linear-gradient(90deg,#09dc50 0px 1px,#00ff00 1px 2px,#28bf60 2px 3px,#18a5cf 3px 4px,#00ff00 4px 5px,#00ff00 5px 6px,#3788e0 6px 7px)}
.a12s{background-image:linear-gradient(90deg,#09dc50 0px 1px,#00ff00 1px 2px,#31ba5c 2px 3px,#18a5cf 3px 4px,#00ff00 4px 5px,#05fb01 5px 6px,#3b86db 6px 7px)}
.a12t{background-image:linear-gradient(90deg,#0ada55 0px 1px,#00ff00 1px 2px,#33b95c 2px 3px,#19a3d4 3px 4px,#00ff00 4px 5px,#07fa01 5px 6px,#3b86db 6px 7px)}
.a12u{background-image:linear-gradient(90deg,#0ad958 0px 1px,#00ff00 1px 2px,#3ab557 2px 3px,#19a1d7 3px 4px,#00ff00 4px 5px,#09f801 5px 6px,#4085d5 6px 7px)}
.a12v{background-image:linear-gradient(90deg,#0bd85a 0px 1px,#00ff00 1px 2px,#40b156 2px 3px,#1aa0da 3px 4px,#00ff00 4px 5px,#0ef402 5px 6px,#4185d4 6px 7px)}
.a12w{background-image:linear-gradient(90deg,#0bd560 0px 1px,#00ff00 1px 2px,#43b052 2px 3px,#1a9edf 3px 4px,#00ff00 4px 5px,#0ef402 5px 6px,#4484d0 6px 7px)}
.a12x{background-image:linear-gradient(90deg,#0bd560 0px 1px,#00ff00 1px 2px,#4caa50 2px 3px,#1a9ee0 3px 4px,#00ff00 4px 5px,#14ef02 5px 6px,#4783cd 6px 7px)}
.a12y{background-image:linear-gradient(90deg,#0cd268 0px 1px,#00ff00 1px 2px,#4eaa4e 2px 3px,#1b9ae7 3px 4px,#00ff00 4px 5px,#14ef02 5px 6px,#4882cb 6px 7px)}
.a12z{background-image:linear-gradient(90deg,#0cd268 0px 1px,#00ff00 1px 2px,#58a349 2px 3px,#1b9ae7 3px 4px,#00ff00 4px 5px,#1aea03 5px 6px,#4d81c6 6px 7px)}
.a130{background-image:linear-gradient(90deg,#0dce70 0px 1px,#00ff00 1px 2px,#5aa247 2px 3px,#1c97ef 3px 4px,#00ff00 4px 5px,#1bea03 5px 6px,#4e80c4 6px 7px)}
.a131{background-image:linear-gradient(90deg,#0dce70 0px 1px,#00ff00 1px 2px,#659c43 2px 3px,#1c97ef 3px 4px,#00ff00 4px 5px,#21e504 5px 6px,#537fbe 6px 7px)}
.a132{background-image:linear-gradient(90deg,#0ecb78 0px 1px,#00ff00 1px 2px,#679b40 2px 3px,#1d93f7 3px 4px,#00ff00 4px 5px,#22e404 5px 6px,#547ebc 6px 7px)}
.a133{background-image:linear-gradient(90deg,#0eca79 0px 1px,#00ff00 1px 2px,#72943c 2px 3px,#1d93f9 3px 4px,#00ff00 4px 5px,#29df05 5px 6px,#587db7 6px 7px)}
.a134{background-image:linear-gradient(90deg,#0fc880 0px 1px,#00ff00 1px 2px,#789138 2px 3px,#1e90ff 3px 4px,#00ff00 4px 5px,#2bdd05 5px 6px,#5c7cb3 6px 7px)}
.a135{background-image:linear-gradient(90deg,#0fc683 0px 1px,#00ff00 1px 2px,#7f8d36 2px 3px,#1e90ff 3px 4px,#00fd04 4px 5px,#2fd905 5px 6px,#5e7bb0 6px 7px)}
.a136{background-image:linear-gradient(90deg,#10c488 0px 1px,#00ff00 1px 2px,#8a872f 2px 3px,#1e90ff 3px 4px,#01fb08 4px 5px,#35d506 5px 6px,#6479a9 6px 7px)}
.a137{background-image:linear-gradient(90deg,#11c18f 0px 1px,#00ff00 1px 2px,#92822b 2px 3px,#1e90ff 3px 4px,#02f810 4px 5px,#39d207 5px 6px,#6878a4 6px 7px)}
.a138{background-image:linear-gradient(90deg,#12be95 0px 1px,#00ff00 1px 2px,#9b7d26 2px 3px,#1e90ff 3px 4px,#03f616 4px 5px,#3ece07 5px 6px,#6c779f 6px 7px)}
.a139{background-image:linear-gradient(90deg,#12bb9d 0px 1px,#00ff00 1px 2px,#a77621 2px 3px,#1e90ff 3px 4px,#03f21d 4px 5px,#44c908 5px 6px,#727598 6px 7px)}
.a13a{background-image:linear-gradient(90deg,#13b7a4 0px 1px,#00ff00 1px 2px,#b56e19 2px 3px,#1e90ff 3px 4px,#04ef25 4px 5px,#4cc309 5px 6px,#787390 6px 7px)}
.a13b{background-image:linear-gradient(90deg,#15b2b0 0px 1px,#00ff00 1px 2px,#c26516 2px 3px,#238ff9 3px 4px,#06ea31 4px 5px,#55bb0a 5px 6px,#807086 6px 7px)}
.a13c{background-image:linear-gradient(90deg,#2eaed3 0px 1px,#0fff0f 1px 2px,#d56226 2px 3px,#4094ec 3px 4px,#22e556 4px 5px,#75b623 5px 6px,#9e787c 6px 7px)}
.a22{background-image:linear-gradient(90deg,#e89b78 0px 1px,#89bef5 1px 2px,#77f095 2px 3px,#b4cf7f 3px 4px,#c7adae 4px 5px,#80cce6 5px 6px,#6eff6d 6px 7px)}
.a23{background-image:linear-gradient(90deg,#c76217 0px 1px,#278df4 1px 2px,#06e736 2px 3px,#5ab80a 3px 4px,#846f81 4px 5px,#15b0b6 5px 6px,#00ff00 6px 7px)}
.a24{background-image:linear-gradient(90deg,#b96c18 0px 1px,#1e90ff 1px 2px,#05ed2a 2px 3px,#4ec109 3px 4px,#79728e 4px 5px,#14b5a9 5px 6px,#00ff00 6px 7px)}
.a25{background-image:linear-gradient(90deg,#ab741f 0px 1px,#1e90ff 1px 2px,#04f120 2px 3px,#47c708 3px 4px,#737496 4px 5px,#13ba9f 5px 6px,#00ff00 6px 7px)}
.a26{background-image:linear-gradient(90deg,#9f7b25 0px 1px,#1e90ff 1px 2px,#03f518 2px 3px,#40cc07 3px 4px,#6e769d 4px 5px,#12bd97 5px 6px,#00ff00 6px 7px)}
.a27{background-image:linear-gradient(90deg,#968029 0px 1px,#1e90ff 1px 2px,#02f811 2px 3px,#3bd007 3px 4px,#6a77a2 4px 5px,#11c090 5px 6px,#00ff00 6px 7px)}
.a28{background-image:linear-gradient(90deg,#8b8630 0px 1px,#1e90ff 1px 2px,#01fa0b 2px 3px,#36d406 3px 4px,#6479a9 4px 5px,#10c38b 5px 6px,#00ff00 6px 7px)}
.a29{background-image:linear-gradient(90deg,#818c33 0px 1px,#1e90ff 1px 2px,#01fc07 2px 3px,#30d905 3px 4px,#607aad 4px 5px,#10c487 5px 6px,#00ff00 6px 7px)}
.a2a{background-image:linear-gradient(90deg,#7c8f36 0px 1px,#1e90ff 1px 2px,#00ff00 2px 3px,#2ddc05 3px 4px,#5e7bb0 4px 5px,#0fc880 5px 6px,#00ff00 6px 7px)}
.a2b{background-image:linear-gradient(90deg,#72943c 0px 1px,#1e92fb 1px 2px,#00ff00 2px 3px,#29df05 3px 4px,#587db7 4px 5px,#0fc97c 5px 6px,#00ff00 6px 7px)}
.a2c{background-image:linear-gradient(90deg,#6c993e 0px 1px,#1d93f7 1px 2px,#00ff00 2px 3px,#24e304 3px 4px,#577db9 4px 5px,#0ecb78 5px 6px,#00ff00 6px 7px)}
.a2d{background-image:linear-gradient(90deg,#669b43 0px 1px,#1c96f2 1px 2px,#00ff00 2px 3px,#22e404 3px 4px,#537fbe 4px 5px,#0dcd72 5px 6px,#00ff00 6px 7px)}
.a2e{background-image:linear-gradient(90deg,#5ea145 0px 1px,#1c97ef 1px 2px,#00ff00 2px 3px,#1ce903 3px 4px,#5080c1 4px 5px,#0dce70 5px 6px,#00ff00 6px 7px)}
.a2f{background-image:linear-gradient(90deg,#59a349 0px 1px,#1b9ae9 1px 2px,#00ff00 2px 3px,#1bea03 3px 4px,#4d81c6 4px 5px,#0cd169 5px 6px,#00ff00 6px 7px)}
.a2g{background-image:linear-gradient(90deg,#51a84b 0px 1px,#1b9ae7 1px 2px,#00ff00 2px 3px,#15ee02 3px 4px,#4b81c8 4px 5px,#0cd268 5px 6px,#00ff00 6px 7px)}
.a2h{background-image:linear-gradient(90deg,#4caa50 0px 1px,#1b9de2 1px 2px,#00ff00 2px 3px,#14ef02 3px 4px,#4783cd 4px 5px,#0cd462 5px 6px,#00ff00 6px 7px)}
.a2i{background-image:linear-gradient(90deg,#47ae50 0px 1px,#1a9edf 1px 2px,#00ff00 2px 3px,#10f202 3px 4px,#4683ce 4px 5px,#0bd560 5px 6px,#00ff00 6px 7px)}
.a2j{background-image:linear-gradient(90deg,#40b156 0px 1px,#1aa0db 1px 2px,#00ff00 2px 3px,#0ef402 3px 4px,#4185d4 4px 5px,#0bd75c 5px 6px,#00ff00 6px 7px)}
.a2k{background-image:linear-gradient(90deg,#3eb356 0px 1px,#19a1d7 1px 2px,#00ff00 2px 3px,#0bf601 3px 4px,#4185d4 4px 5px,#0ad958 5px 6px,#00ff00 6px 7px)}
.a2l{background-image:linear-gradient(90deg,#34b85b 0px 1px,#19a1d7 1px 2px,#00ff00 2px 3px,#07fa01 3px 4px,#3c86da 4px 5px,#0ad957 5px 6px,#00ff00 6px 7px)}
.a2m{background-image:linear-gradient(90deg,#33b95c 0px 1px,#18a5cf 1px 2px,#00ff00 2px 3px,#07fa01 3px 4px,#3b86db 4px 5px,#09dc50 5px 6px,#00ff00 6px 7px)}
.a2n{background-image:linear-gradient(90deg,#2bbe5f 0px 1px,#18a5cf 1px 2px,#00ff00 2px 3px,#01fe00 3px 4px,#3987de 4px 5px,#09dc50 5px 6px,#00ff00 6px 7px)}
.a2o{background-image:linear-gradient(90deg,#26c063 0px 1px,#18a7cb 1px 2px,#00ff00 2px 3px,#00ff00 3px 4px,#3588e2 4px 5px,#09de4c 5px 6px,#00ff00 6px 7px)}
.a2p{background-image:linear-gradient(90deg,#24c262 0px 1px,#17a8c7 1px 2px,#00ff00 2px 3px,#00ff00 3px 4px,#338ae2 4px 5px,#08e048 5px 6px,#00ff00 6px 7px)}
.a2q{background-image:linear-gradient(90deg,#1bc768 0px 1px,#17a8c7 1px 2px,#00ff00 2px 3px,#00ff00 3px 4px,#2a8fe8 4px 5px,#08e048 5px 6px,#00ff00 6px 7px)}
.a2r{background-image:linear-gradient(90deg,#1ac769 0px 1px,#17abc0 1px 2px,#00ff00 2px 3px,#00ff00 3px 4px,#2990e9 4px 5px,#08e341 5px 6px,#00ff00 6px 7px)}
.a2s{background-image:linear-gradient(90deg,#14cb6a 0px 1px,#16acbf 1px 2px,#00ff00 2px 3px,#00ff00 3px 4px,#2394ea 4px 5px,#08e340 5px 6px,#00ff00 6px 7px)}
.a2t{background-image:linear-gradient(90deg,#0dce70 0px 1px,#16acbe 1px 2px,#00ff00 2px 3px,#00ff00 3px 4px,#1c97ef 4px 5px,#07e43e 5px 6px,#00ff00 6px 7px)}
.a2u{background-image:linear-gradient(90deg,#0dce70 0px 1px,#16afb7 1px 2px,#00ff00 2px 3px,#00ff00 3px 4px,#1c97ef 4px 5px,#07e738 5px 6px,#00ff00 6px 7px)}
.a2v{background-image:linear-gradient(90deg,#0cd268 0px 1px,#16afb7 1px 2px,#00ff00 2px 3px,#00ff00 3px 4px,#1b9ae8 4px 5px,#07e738 5px 6px,#00ff00 6px 7px)}
.a2w{background-image:linear-gradient(90deg,#0cd268 0px 1px,#15b1b4 1px 2px,#00ff00 2px 3px,#00ff00 3px 4px,#1b9ae7 4px 5px,#06e835 5px 6px,#00ff00 6px 7px)}
.a2x{background-image:linear-gradient(90deg,#0cd267 0px 1px,#15b3af 1px 2px,#00ff00 2px 3px,#00ff00 3px 4px,#1b9be7 4px 5px,#06ea30 5px 6px,#00ff00 6px 7px)}
.a2y{background-image:linear-gradient(90deg,#0bd560 0px 1px,#15b3af 1px 2px,#00ff00 2px 3px,#00ff00 3px 4px,#1a9edf 4px 5px,#06ea30 5px 6px,#00ff00 6px 7px)}
.a2z{background-image:linear-gradient(90deg,#0bd560 0px 1px,#14b4ab 1px 2px,#00fd04 2px 3px,#00ff00 3px 4px,#1a9edf 4px 5px,#05ec2c 5px 6px,#00fd04 6px 7px)}
.a210{background-image:linear-gradient(90deg,#0bd65f 0px 1px,#14b6a7 1px 2px,#01fb09 2px 3px,#00ff00 3px 4px,#1a9ede 4px 5px,#05ee28 5px 6px,#01fb09 6px 7px)}
.a211{background-image:linear-gradient(90deg,#0ad958 0px 1px,#14b6a7 1px 2px,#02f810 2px 3px,#00ff00 3px 4px,#19a1d7 4px 5px,#05ee28 5px 6px,#02f810 6px 7px)}
.a212{background-image:linear-gradient(90deg,#0ad958 0px 1px,#13b8a3 1px 2px,#02f614 2px 3px,#00ff00 3px 4px,#19a1d7 4px 5px,#04ef24 5px 6px,#02f614 6px 7px)}
.a213{background-image:linear-gradient(90deg,#0ad957 0px 1px,#13ba9f 1px 2px,#03f419 2px 3px,#00ff00 3px 4px,#19a2d6 4px 5px,#04f120 5px 6px,#03f419 6px 7px)}
.a214{background-image:linear-gradient(90deg,#09dc50 0px 1px,#13ba9f 1px 2px,#04f120 2px 3px,#00ff00 3px 4px,#18a5cf 4px 5px,#04f120 5px 6px,#04f120 6px 7px)}
.a215{background-image:linear-gradient(90deg,#09dc50 0px 1px,#12bb9c 1px 2px,#04f023 2px 3px,#00ff00 3px 4px,#18a5cf 4px 5px,#03f31c 5px 6px,#04f023 6px 7px)}
.a216{background-image:linear-gradient(90deg,#09dd4f 0px 1px,#12bd97 1px 2px,#05ee28 2px 3px,#00ff00 3px 4px,#18a5cf 4px 5px,#03f518 5px 6px,#05ee28 6px 7px)}
.a217{background-image:linear-gradient(90deg,#08e048 0px 1px,#12bd97 1px 2px,#06ea30 2px 3px,#00ff00 3px 4px,#17a8c7 4px 5px,#03f518 5px 6px,#06ea30 6px 7px)}
.a218{background-image:linear-gradient(90deg,#08e048 0px 1px,#11be95 1px 2px,#06e932 2px 3px,#00ff00 3px 4px,#17a8c7 4px 5px,#02f615 5px 6px,#06e932 6px 7px)}
.a219{background-image:linear-gradient(90deg,#08e048 0px 1px,#11c18f 1px 2px,#07e738 2px 3px,#00ff00 3px 4px,#17a8c7 4px 5px,#02f810 5px 6px,#07e738 6px 7px)}
.a21a{background-image:linear-gradient(90deg,#08e340 0px 1px,#11c18f 1px 2px,#07e738 2px 3px,#01fc07 3px 4px,#17acc0 4px 5px,#02f810 5px 6px,#07e43f 6px 7px)}
.a21b{background-image:linear-gradient(90deg,#08e340 0px 1px,#11c18e 1px 2px,#07e639 2px 3px,#01fc08 3px 4px,#16acbf 4px 5px,#02f90e 5px 6px,#08e341 6px 7px)}
.a21c{background-image:linear-gradient(90deg,#08e340 0px 1px,#10c487 1px 2px,#08e340 2px 3px,#01fc08 3px 4px,#16acbf 4px 5px,#01fc08 5px 6px,#08e048 6px 7px)}
.a21d{background-image:linear-gradient(90deg,#07e63a 0px 1px,#10c487 1px 2px,#08e340 2px 3px,#02f90d 3px 4px,#16aeba 4px 5px,#01fc08 5px 6px,#09dd4d 6px 7px)}
.a21e{background-image:linear-gradient(90deg,#07e738 0px 1px,#10c487 1px 2px,#08e340 2px 3px,#02f810 3px 4px,#16afb7 4px 5px,#01fc08 5px 6px,#09dc50 6px 7px)}
.a21f{background-image:linear-gradient(90deg,#07e738 0px 1px,#0fc780 1px 2px,#08e047 2px 3px,#02f810 3px 4px,#16afb7 4px 5px,#00ff00 5px 6px,#0ad957 6px 7px)}
.a21g{background-image:linear-gradient(90deg,#06e834 0px 1px,#0fc880 1px 2px,#08e048 2px 3px,#02f614 3px 4px,#15b1b3 4px 5px,#00ff00 5px 6px,#0bd75b 6px 7px)}
.a21h{background-image:linear-gradient(90deg,#06ea30 0px 1px,#0fc880 1px 2px,#08e048 2px 3px,#03f518 3px 4px,#15b3af 4px 5px,#00ff00 5px 6px,#0bd560 6px 7px)}
.a21i{background-image:linear-gradient(90deg,#06ea30 0px 1px,#0eca7a 1px 2px,#09dd4d 2px 3px,#03f518 3px 4px,#14b5a9 4px 5px,#00ff00 5px 6px,#0cd365 6px 7px)}
.a21j{background-image:linear-gradient(90deg,#05eb2f 0px 1px,#0ecb78 1px 2px,#09dc50 2px 3px,#03f419 3px 4px,#14b7a6 4px 5px,#00ff00 5px 6px,#0cd169 6px 7px)}
.a21k{background-image:linear-gradient(90deg,#05ee28 0px 1px,#0ecb78 1px 2px,#09dc50 2px 3px,#04f120 3px 4px,#13ba9f 4px 5px,#00ff00 5px 6px,#0dce70 6px 7px)}
.a21l{background-image:linear-gradient(90deg,#05ee28 0px 1px,#0ecd74 1px 2px,#0adb53 2px 3px,#04f120 3px 4px,#12bb9c 4px 5px,#00ff00 5px 6px,#0ecd73 6px 7px)}
.a21m{background-image:linear-gradient(90deg,#05ee28 0px 1px,#0dce70 1px 2px,#0ad958 2px 3px,#04f120 3px 4px,#12bd97 4px 5px,#00ff00 5px 6px,#0ecb78 6px 7px)}
.a21n{background-image:linear-gradient(90deg,#04f022 0px 1px,#0dce70 1px 2px,#0ad958 2px 3px,#04ef26 3px 4px,#11c091 4px 5px,#00ff00 5px 6px,#0fc87e 6px 7px)}
.a21o{background-image:linear-gradient(90deg,#04f120 0px 1px,#0dcf6e 1px 2px,#0ad859 2px 3px,#05ee28 3px 4px,#11c18e 4px 5px,#00ff00 5px 6px,#0fc781 6px 7px)}
.a21p{background-image:linear-gradient(90deg,#04f120 0px 1px,#0cd268 1px 2px,#0bd560 2px 3px,#05ee28 3px 4px,#10c487 4px 5px,#00ff00 5px 6px,#10c487 6px 7px)}
.a21q{background-image:linear-gradient(90deg,#03f31c 0px 1px,#0cd268 1px 2px,#0bd560 2px 3px,#05ec2c 3px 4px,#0fc683 4px 5px,#00ff00 5px 6px,#10c28b 6px 7px)}
.a21r{background-image:linear-gradient(90deg,#03f518 0px 1px,#0cd268 1px 2px,#0bd560 2px 3px,#06ea30 3px 4px,#0fc880 4px 5px,#00ff00 5px 6px,#11c18f 6px 7px)}
.a21s{background-image:linear-gradient(90deg,#03f518 0px 1px,#0bd560 1px 2px,#0cd267 2px 3px,#06ea30 3px 4px,#0ecb78 4px 5px,#00ff00 5px 6px,#12bd97 6px 7px)}
.a21t{background-image:linear-gradient(90deg,#03f516 0px 1px,#0bd560 1px 2px,#0cd268 2px 3px,#06e932 3px 4px,#0ecc76 4px 5px,#00ff00 5px 6px,#12bc99 6px 7px)}
.a21u{background-image:linear-gradient(90deg,#02f810 0px 1px,#0bd560 1px 2px,#0cd268 2px 3px,#07e738 3px 4px,#0dce70 4px 5px,#00ff00 5px 6px,#13ba9f 6px 7px)}
.a21v{background-image:linear-gradient(90deg,#02f810 0px 1px,#0bd75b 1px 2px,#0dd06c 2px 3px,#07e738 3px 4px,#0dd06b 4px 5px,#00ff00 5px 6px,#13b8a4 6px 7px)}
.a21w{background-image:linear-gradient(90deg,#02f810 0px 1px,#0ad958 1px 2px,#0dce70 2px 3px,#07e738 3px 4px,#0cd268 4px 5px,#00ff00 5px 6px,#14b6a7 6px 7px)}
.a21x{background-image:linear-gradient(90deg,#01fb08 0px 1px,#0ad958 1px 2px,#0dce70 2px 3px,#07e33f 3px 4px,#0bd560 4px 5px,#00ff00 5px 6px,#15b3af 6px 7px)}
.a21y{background-image:linear-gradient(90deg,#01fc08 0px 1px,#0ad956 1px 2px,#0dce71 2px 3px,#08e340 3px 4px,#0bd65e 4px 5px,#00ff00 5px 6px,#15b2b1 6px 7px)}
.a21z{background-image:linear-gradient(90deg,#01fc08 0px 1px,#09dc50 1px 2px,#0ecb78 2px 3px,#08e340 3px 4px,#0ad958 4px 5px,#00ff00 5px 6px,#16afb7 6px 7px)}
.a220{background-image:linear-gradient(90deg,#00fe02 0px 1px,#09dc50 1px 2px,#0ecb78 2px 3px,#08e145 3px 4px,#0adb52 4px 5px,#00ff00 5px 6px,#16adbd 6px 7px)}
.a221{background-image:linear-gradient(90deg,#00ff00 0px 1px,#09dc50 1px 2px,#0ecb78 2px 3px,#08e048 3px 4px,#09dc50 4px 5px,#00ff00 5px 6px,#16acbf 6px 7px)}
.a222{background-image:linear-gradient(90deg,#00ff00 0px 1px,#08e048 1px 2px,#0fc87f 2px 3px,#08e048 3px 4px,#08e048 4px 5px,#00ff00 5px 6px,#17a8c7 6px 7px)}
.a223{background-image:linear-gradient(90deg,#00ff00 0px 1px,#08e244 1px 2px,#0fc880 2px 3px,#09de4c 3px 4px,#08e244 4px 5px,#00ff00 5px 6px,#18a7cb 6px 7px)}
.a224{background-image:linear-gradient(90deg,#00ff00 0px 1px,#08e340 1px 2px,#0fc880 2px 3px,#09dc50 3px 4px,#08e340 4px 5px,#00ff00 5px 6px,#18a5cf 6px 7px)}
.a225{background-image:linear-gradient(90deg,#00ff00 0px 1px,#07e63a 1px 2px,#10c586 2px 3px,#09dc50 3px 4px,#07e63a 4px 5px,#01fc06 5px 6px,#18a5cf 6px 7px)}
.a226{background-image:linear-gradient(90deg,#00ff00 0px 1px,#06e835 1px 2px,#10c487 2px 3px,#0adb52 3px 4px,#06e835 4px 5px,#01fc08 5px 6px,#19a4d2 6px 7px)}
.a227{background-image:linear-gradient(90deg,#00ff00 0px 1px,#06ea30 1px 2px,#10c487 2px 3px,#0ad958 3px 4px,#06ea30 4px 5px,#01fc08 5px 6px,#19a1d7 6px 7px)}
.a228{background-image:linear-gradient(90deg,#00ff00 0px 1px,#05ec2b 1px 2px,#11c28c 2px 3px,#0ad958 3px 4px,#05ec2b 4px 5px,#02f90d 5px 6px,#19a1d7 6px 7px)}
.a229{background-image:linear-gradient(90deg,#00ff00 0px 1px,#04ee26 1px 2px,#11c18f 2px 3px,#0ad859 3px 4px,#04ee26 4px 5px,#02f810 5px 6px,#19a1d9 6px 7px)}
.a22a{background-image:linear-gradient(90deg,#00ff00 0px 1px,#04f120 1px 2px,#11c18f 2px 3px,#0bd560 3px 4px,#04f120 4px 5px,#02f810 5px 6px,#1a9edf 6px 7px)}
.a22b{background-image:linear-gradient(90deg,#00ff00 0px 1px,#03f31c 1px 2px,#11bf94 2px 3px,#0bd560 3px 4px,#03f31c 4px 5px,#02f614 5px 6px,#1a9edf 6px 7px)}
.a22c{background-image:linear-gradient(90deg,#00ff00 0px 1px,#03f516 1px 2px,#12bd97 2px 3px,#0bd561 3px 4px,#03f516 4px 5px,#03f518 5px 6px,#1a9de1 6px 7px)}
.a22d{background-image:linear-gradient(90deg,#00ff00 0px 1px,#02f810 1px 2px,#12bd97 2px 3px,#0cd268 3px 4px,#02f810 4px 5px,#03f518 5px 6px,#1b9ae7 6px 7px)}
.a22e{background-image:linear-gradient(90deg,#00ff00 0px 1px,#01fa0c 1px 2px,#12bb9c 2px 3px,#0cd268 3px 4px,#01fa0c 4px 5px,#03f31c 5px 6px,#1b9ae7 6px 7px)}
.a22f{background-image:linear-gradient(90deg,#00ff00 0px 1px,#01fc06 1px 2px,#13ba9f 2px 3px,#0cd169 3px 4px,#01fc06 4px 5px,#04f120 5px 6px,#1b9ae9 6px 7px)}
.a22g{background-image:linear-gradient(90deg,#00ff00 0px 1px,#00ff00 1px 2px,#13ba9f 2px 3px,#0dce70 3px 4px,#00ff00 4px 5px,#04f120 5px 6px,#1c97ef 6px 7px)}
.a22h{background-image:linear-gradient(90deg,#00ff00 0px 1px,#00ff00 1px 2px,#13b8a4 2px 3px,#0dce70 3px 4px,#00ff00 4px 5px,#04ef25 5px 6px,#1c97ef 6px 7px)}
.a22i{background-image:linear-gradient(90deg,#00ff00 0px 1px,#00ff00 1px 2px,#14b6a7 2px 3px,#0dcd72 3px 4px,#00ff00 4px 5px,#05ee28 5px 6px,#1c96f1 6px 7px)}
.a22j{background-image:linear-gradient(90deg,#00ff00 0px 1px,#00ff00 1px 2px,#14b6a7 2px 3px,#0ecb78 3px 4px,#00ff00 4px 5px,#05ee28 5px 6px,#1d93f7 6px 7px)}
.a22k{background-image:linear-gradient(90deg,#00ff00 0px 1px,#00ff00 1px 2px,#14b4ad 2px 3px,#0ecb78 3px 4px,#00ff00 4px 5px,#05eb2e 5px 6px,#1d93f7 6px 7px)}
.a22l{background-image:linear-gradient(90deg,#00ff00 0px 1px,#00ff00 1px 2px,#15b3af 2px 3px,#0fc97b 3px 4px,#00ff00 4px 5px,#06ea30 5px 6px,#1e92fb 6px 7px)}
.a22m{background-image:linear-gradient(90deg,#00ff00 0px 1px,#00ff00 1px 2px,#17b2ac 2px 3px,#0fc880 3px 4px,#00ff00 4px 5px,#08e92d 5px 6px,#1e90ff 6px 7px)}
.a22n{background-image:linear-gradient(90deg,#00ff00 0px 1px,#00ff00 1px 2px,#21aba9 2px 3px,#0fc880 3px 4px,#00ff00 4px 5px,#12e329 5px 6px,#1e90ff 6px 7px)}
.a22o{background-image:linear-gradient(90deg,#01fc06 0px 1px,#00ff00 1px 2px,#21aba9 2px 3px,#10c586 3px 4px,#00ff00 4px 5px,#12e329 5px 6px,#1e90ff 6px 7px)}
.a22p{background-image:linear-gradient(90deg,#01fc08 0px 1px,#00ff00 1px 2px,#28a8a4 2px 3px,#10c487 3px 4px,#00ff00 4px 5px,#19e024 5px 6px,#1e90ff 6px 7px)}
.a22q{background-image:linear-gradient(90deg,#01fb09 0px 1px,#00ff00 1px 2px,#2ea4a2 2px 3px,#10c488 3px 4px,#00ff00 4px 5px,#1fdc23 5px 6px,#1e90ff 6px 7px)}
.a22r{background-image:linear-gradient(90deg,#02f810 0px 1px,#00ff00 1px 2px,#2fa4a1 2px 3px,#11c18f 3px 4px,#00ff00 4px 5px,#20db21 5px 6px,#1e90ff 6px 7px)}
.a22s{background-image:linear-gradient(90deg,#02f810 0px 1px,#00ff00 1px 2px,#399e9c 2px 3px,#11c18f 3px 4px,#00ff00 4px 5px,#2ad51c 5px 6px,#1e90ff 6px 7px)}
.a22t{background-image:linear-gradient(90deg,#02f615 0px 1px,#00ff00 1px 2px,#3a9d9c 2px 3px,#11be94 3px 4px,#00ff00 4px 5px,#2cd41d 5px 6px,#1e90ff 6px 7px)}
.a22u{background-image:linear-gradient(90deg,#03f518 0px 1px,#00ff00 1px 2px,#429997 2px 3px,#12bd97 3px 4px,#00ff00 4px 5px,#33d117 5px 6px,#1e90ff 6px 7px)}
.a22v{background-image:linear-gradient(90deg,#03f419 0px 1px,#00ff00 1px 2px,#479696 2px 3px,#12bc99 3px 4px,#00ff00 4px 5px,#38cd16 5px 6px,#1e90ff 6px 7px)}
.a22w{background-image:linear-gradient(90deg,#04f120 0px 1px,#00ff00 1px 2px,#4a9492 2px 3px,#13ba9f 3px 4px,#00ff00 4px 5px,#3bcc13 5px 6px,#1e90ff 6px 7px)}
.a22x{background-image:linear-gradient(90deg,#04f120 0px 1px,#00ff00 1px 2px,#548e8f 2px 3px,#13ba9f 3px 4px,#00ff00 4px 5px,#45c610 5px 6px,#1e90ff 6px 7px)}
.a22y{background-image:linear-gradient(90deg,#05ee28 0px 1px,#00ff00 1px 2px,#568e8d 2px 3px,#14b6a7 3px 4px,#00ff00 4px 5px,#47c50e 5px 6px,#1e90ff 6px 7px)}
.a22z{background-image:linear-gradient(90deg,#05ee28 0px 1px,#00ff00 1px 2px,#5f8889 2px 3px,#14b6a7 3px 4px,#00ff00 4px 5px,#50c009 5px 6px,#1e90ff 6px 7px)}
.a230{background-image:linear-gradient(90deg,#06eb2f 0px 1px,#00ff00 1px 2px,#628687 2px 3px,#15b3ae 3px 4px,#00ff00 4px 5px,#51be09 5px 6px,#208ffd 6px 7px)}
.a231{background-image:linear-gradient(90deg,#06ea30 0px 1px,#00ff00 1px 2px,#6c8182 2px 3px,#15b3af 3px 4px,#00ff00 4px 5px,#57ba0a 5px 6px,#248ef8 6px 7px)}
.a232{background-image:linear-gradient(90deg,#07e738 0px 1px,#00ff00 1px 2px,#6f7f80 2px 3px,#16afb7 3px 4px,#00ff00 4px 5px,#58b90a 5px 6px,#268df5 6px 7px)}
.a233{background-image:linear-gradient(90deg,#07e639 0px 1px,#00ff00 1px 2px,#79797c 2px 3px,#16afb9 3px 4px,#00ff00 4px 5px,#5fb40b 5px 6px,#2a8cf1 6px 7px)}
.a234{background-image:linear-gradient(90deg,#08e340 0px 1px,#00ff00 1px 2px,#7f7678 2px 3px,#16acbf 3px 4px,#00ff00 4px 5px,#61b20b 5px 6px,#2e8bec 6px 7px)}
.a235{background-image:linear-gradient(90deg,#08e144 0px 1px,#00ff00 1px 2px,#867175 2px 3px,#17aac3 3px 4px,#00ff00 4px 5px,#66ae0c 5px 6px,#308ae9 6px 7px)}
.a236{background-image:linear-gradient(90deg,#09df48 0px 1px,#00ff00 1px 2px,#916b6f 2px 3px,#18a8c8 3px 4px,#00ff00 4px 5px,#6bab0c 5px 6px,#3588e2 6px 7px)}
.a237{background-image:linear-gradient(90deg,#09dc50 0px 1px,#02fd00 1px 2px,#97696b 2px 3px,#18a5cf 3px 4px,#00ff00 4px 5px,#6fa70d 5px 6px,#3987de 6px 7px)}
.a238{background-image:linear-gradient(90deg,#0ada56 0px 1px,#08f901 1px 2px,#9b6766 2px 3px,#19a2d5 3px 4px,#00ff00 4px 5px,#74a30d 5px 6px,#3d86d9 6px 7px)}
.a239{background-image:linear-gradient(90deg,#0bd75d 0px 1px,#0ef402 1px 2px,#a0655f 2px 3px,#1a9fdc 3px 4px,#00ff00 4px 5px,#7b9e0e 5px 6px,#4384d2 6px 7px)}
.a23a{background-image:linear-gradient(90deg,#0cd365 0px 1px,#16ee03 1px 2px,#a66457 2px 3px,#1b9ce4 3px 4px,#00ff00 4px 5px,#83980f 5px 6px,#4982ca 6px 7px)}
.a23b{background-image:linear-gradient(90deg,#0dce71 0px 1px,#1fe604 1px 2px,#af614d 2px 3px,#1c96f0 3px 4px,#00ff00 4px 5px,#8b9010 5px 6px,#517fc0 6px 7px)}
.a23c{background-image:linear-gradient(90deg,#2bcc92 0px 1px,#47df23 1px 2px,#c86a49 2px 3px,#2d98fe 3px 4px,#15fe17 4px 5px,#b08a2e 5px 6px,#708bbb 6px 7px)}
.a32{background-image:linear-gradient(90deg,#df987d 0px 1px,#6cb7ff 1px 2px,#5ffd62 2px 3px,#ceab70 3px 4px,#a2b1cf 4px 5px,#70dabc 5px 6px,#82e868 6px 7px)}
.a33{background-image:linear-gradient(90deg,#b45f47 0px 1px,#1d94f6 1px 2px,#00ff00 2px 3px,#908d11 3px 4px,#567eba 4px 5px,#0ecc76 5px 6px,#23e304 6px 7px)}
.a34{background-image:linear-gradient(90deg,#a96355 0px 1px,#1b9ae9 1px 2px,#00ff00 2px 3px,#85960f 3px 4px,#4b81c8 4px 5px,#0cd169 5px 6px,#18ec03 6px 7px)}
.a35{background-image:linear-gradient(90deg,#a2655c 0px 1px,#1a9ede 1px 2px,#00ff00 2px 3px,#7d9c0e 3px 4px,#4583cf 4px 5px,#0bd65f 5px 6px,#10f202 6px 7px)}
.a36{background-image:linear-gradient(90deg,#9d6763 0px 1px,#19a1d7 1px 2px,#00ff00 2px 3px,#77a10e 3px 4px,#3f85d6 4px 5px,#0ad958 5px 6px,#0af701 6px 7px)}
.a37{background-image:linear-gradient(90deg,#986869 0px 1px,#18a4d0 1px 2px,#00ff00 2px 3px,#71a50d 3px 4px,#3b87dc 4px 5px,#09dc51 5px 6px,#05fb01 6px 7px)}
.a38{background-image:linear-gradient(90deg,#936a6f 0px 1px,#18a7ca 1px 2px,#00ff00 2px 3px,#6ca90c 3px 4px,#3588e2 4px 5px,#09de4b 5px 6px,#00ff00 6px 7px)}
.a39{background-image:linear-gradient(90deg,#897073 0px 1px,#17a8c7 1px 2px,#00ff00 2px 3px,#67ae0c 3px 4px,#328ae7 4px 5px,#08e047 5px 6px,#00ff00 6px 7px)}
.a3a{background-image:linear-gradient(90deg,#837376 0px 1px,#16acbf 1px 2px,#00ff00 2px 3px,#63b00b 3px 4px,#2f8aea 4px 5px,#08e340 5px 6px,#00ff00 6px 7px)}
.a3b{background-image:linear-gradient(90deg,#7a787c 0px 1px,#16adbc 1px 2px,#00ff00 2px 3px,#5fb40b 3px 4px,#2a8cf1 4px 5px,#07e53c 5px 6px,#00ff00 6px 7px)}
.a3c{background-image:linear-gradient(90deg,#737c7e 0px 1px,#16afb7 1px 2px,#00ff00 2px 3px,#5bb70a 3px 4px,#288df3 4px 5px,#07e738 5px 6px,#00ff00 6px 7px)}
.a3d{background-image:linear-gradient(90deg,#6d8082 0px 1px,#15b1b2 1px 2px,#00ff00 2px 3px,#58b90a 3px 4px,#248ef8 4px 5px,#06e933 5px 6px,#00ff00 6px 7px)}
.a3e{background-image:linear-gradient(90deg,#658585 0px 1px,#15b3af 1px 2px,#00ff00 2px 3px,#53bd0a 3px 4px,#218ffb 4px 5px,#06ea30 5px 6px,#00ff00 6px 7px)}
.a3f{background-image:linear-gradient(90deg,#608789 0px 1px,#14b5aa 1px 2px,#00ff00 2px 3px,#51be09 3px 4px,#1e90ff 4px 5px,#05ed2a 5px 6px,#00ff00 6px 7px)}
.a3g{background-image:linear-gradient(90deg,#598c8b 0px 1px,#14b6a7 1px 2px,#00ff00 2px 3px,#4ac30b 3px 4px,#1e90ff 4px 5px,#05ee28 5px 6px,#00ff00 6px 7px)}
.a3h{background-image:linear-gradient(90deg,#548e8f 0px 1px,#13b8a2 1px 2px,#00ff00 2px 3px,#45c610 3px 4px,#1e90ff 4px 5px,#04f023 5px 6px,#00ff00 6px 7px)}
.a3i{background-image:linear-gradient(90deg,#4f9290 0px 1px,#13ba9f 1px 2px,#00ff00 2px 3px,#40c910 3px 4px,#1e90ff 4px 5px,#04f120 5px 6px,#00ff00 6px 7px)}
.a3j{background-image:linear-gradient(90deg,#479696 0px 1px,#12bb9c 1px 2px,#00ff00 2px 3px,#38cd16 3px 4px,#1e90ff 4px 5px,#03f31d 5px 6px,#00ff00 6px 7px)}
.a3k{background-image:linear-gradient(90deg,#459795 0px 1px,#12bd97 1px 2px,#00ff00 2px 3px,#36cf16 3px 4px,#1e90ff 4px 5px,#03f518 5px 6px,#00ff00 6px 7px)}
.a3l{background-image:linear-gradient(90deg,#3c9c9b 0px 1px,#12bd97 1px 2px,#00ff00 2px 3px,#2dd41b 3px 4px,#1e90ff 4px 5px,#03f517 5px 6px,#00ff00 6px 7px)}
.a3m{background-image:linear-gradient(90deg,#3a9d9c 0px 1px,#11c18f 1px 2px,#00ff00 2px 3px,#2cd41d 3px 4px,#1e90ff 4px 5px,#02f810 5px 6px,#00ff00 6px 7px)}
.a3n{background-image:linear-gradient(90deg,#32a29e 0px 1px,#11c18f 1px 2px,#00ff00 2px 3px,#23da1f 3px 4px,#1e90ff 4px 5px,#02f810 5px 6px,#00ff00 6px 7px)}
.a3o{background-image:linear-gradient(90deg,#2ea4a2 0px 1px,#10c38b 1px 2px,#00ff00 2px 3px,#1fdc23 3px 4px,#1e90ff 4px 5px,#01fa0b 5px 6px,#00ff00 6px 7px)}
.a3p{background-image:linear-gradient(90deg,#2ba6a2 0px 1px,#10c487 1px 2px,#00ff00 2px 3px,#1cde23 3px 4px,#1e90ff 4px 5px,#01fc08 5px 6px,#00ff00 6px 7px)}
.a3q{background-image:linear-gradient(90deg,#23aba7 0px 1px,#10c487 1px 2px,#00ff00 2px 3px,#14e228 3px 4px,#1e90ff 4px 5px,#01fc08 5px 6px,#00ff00 6px 7px)}
.a3r{background-image:linear-gradient(90deg,#21aba9 0px 1px,#0fc780 1px 2px,#00ff00 2px 3px,#12e329 3px 4px,#1e90ff 4px 5px,#00ff00 5px 6px,#00ff00 6px 7px)}
.a3s{background-image:linear-gradient(90deg,#1cb0a9 0px 1px,#0fc880 1px 2px,#00ff00 2px 3px,#0de72a 3px 4px,#1e90ff 4px 5px,#00ff00 5px 6px,#00ff00 6px 7px)}
.a3t{background-image:linear-gradient(90deg,#15b3af 0px 1px,#0fc87e 1px 2px,#00ff00 2px 3px,#06ea30 3px 4px,#1e91fd 4px 5px,#00ff00 5px 6px,#00ff00 6px 7px)}
.a3u{background-image:linear-gradient(90deg,#15b3af 0px 1px,#0ecb78 1px 2px,#00ff00 2px 3px,#06ea30 3px 4px,#1d93f7 4px 5px,#00ff00 5px 6px,#00ff00 6px 7px)}
.a3v{background-image:linear-gradient(90deg,#14b6a7 0px 1px,#0ecb78 1px 2px,#00ff00 2px 3px,#05ee28 3px 4px,#1d93f7 4px 5px,#00ff00 5px 6px,#00ff00 6px 7px)}
.a3w{background-image:linear-gradient(90deg,#14b6a7 0px 1px,#0ecd74 1px 2px,#00ff00 2px 3px,#05ee28 3px 4px,#1d95f3 4px 5px,#00ff00 5px 6px,#00ff00 6px 7px)}
.a3x{background-image:linear-gradient(90deg,#14b7a6 0px 1px,#0dce70 1px 2px,#00ff00 2px 3px,#05ee27 3px 4px,#1c97ef 4px 5px,#00ff00 5px 6px,#00ff00 6px 7px)}
.a3y{background-image:linear-gradient(90deg,#13ba9f 0px 1px,#0dce70 1px 2px,#00ff00 2px 3px,#04f120 3px 4px,#1c97ef 4px 5px,#00ff00 5px 6px,#00ff00 6px 7px)}
.a3z{background-image:linear-gradient(90deg,#13ba9f 0px 1px,#0dd06b 1px 2px,#01fd04 2px 3px,#04f120 3px 4px,#1c99ea 4px 5px,#00ff00 5px 6px,#01fd04 6px 7px)}
.a310{background-image:linear-gradient(90deg,#13ba9e 0px 1px,#0cd268 1px 2px,#01fb0a 2px 3px,#04f21e 3px 4px,#1b9ae7 4px 5px,#00ff00 5px 6px,#01fb0a 6px 7px)}
.a311{background-image:linear-gradient(90deg,#12bd97 0px 1px,#0cd268 1px 2px,#02f810 2px 3px,#03f518 3px 4px,#1b9ae7 4px 5px,#00ff00 5px 6px,#02f810 6px 7px)}
.a312{background-image:linear-gradient(90deg,#12bd97 0px 1px,#0cd463 1px 2px,#02f615 2px 3px,#03f518 3px 4px,#1b9de2 4px 5px,#00ff00 5px 6px,#02f615 6px 7px)}
.a313{background-image:linear-gradient(90deg,#12bd97 0px 1px,#0bd560 1px 2px,#03f419 2px 3px,#03f517 3px 4px,#1a9edf 4px 5px,#00ff00 5px 6px,#03f419 6px 7px)}
.a314{background-image:linear-gradient(90deg,#11c18f 0px 1px,#0bd560 1px 2px,#04f120 2px 3px,#02f810 3px 4px,#1a9edf 4px 5px,#00ff00 5px 6px,#04f120 6px 7px)}
.a315{background-image:linear-gradient(90deg,#11c18f 0px 1px,#0bd75c 1px 2px,#04ef24 2px 3px,#02f810 3px 4px,#1aa0db 4px 5px,#00ff00 5px 6px,#04ef24 6px 7px)}
.a316{background-image:linear-gradient(90deg,#11c18f 0px 1px,#0ad958 1px 2px,#05ee28 2px 3px,#02f810 3px 4px,#19a1d7 4px 5px,#00ff00 5px 6px,#05ee28 6px 7px)}
.a317{background-image:linear-gradient(90deg,#10c488 0px 1px,#0ad958 1px 2px,#06ea2f 2px 3px,#01fb08 3px 4px,#19a1d7 4px 5px,#00ff00 5px 6px,#06ea2f 6px 7px)}
.a318{background-image:linear-gradient(90deg,#10c487 0px 1px,#0ada55 1px 2px,#06e932 2px 3px,#01fc08 3px 4px,#19a2d5 4px 5px,#00ff00 5px 6px,#06e932 6px 7px)}
.a319{background-image:linear-gradient(90deg,#10c487 0px 1px,#09dc50 1px 2px,#07e738 2px 3px,#01fc08 3px 4px,#18a5cf 4px 5px,#00ff00 5px 6px,#07e738 6px 7px)}
.a31a{background-image:linear-gradient(90deg,#0fc781 0px 1px,#09dc50 1px 2px,#07e43e 2px 3px,#00fe01 3px 4px,#18a5cf 4px 5px,#00ff00 5px 6px,#07e43e 6px 7px)}
.a31b{background-image:linear-gradient(90deg,#0fc880 0px 1px,#09dd4f 1px 2px,#08e340 2px 3px,#00ff00 3px 4px,#18a5ce 4px 5px,#00ff00 5px 6px,#08e340 6px 7px)}
.a31c{background-image:linear-gradient(90deg,#0fc880 0px 1px,#08e048 1px 2px,#08e048 2px 3px,#00ff00 3px 4px,#17a8c7 4px 5px,#00ff00 5px 6px,#08e048 6px 7px)}
.a31d{background-image:linear-gradient(90deg,#0eca7b 0px 1px,#08e048 1px 2px,#09de4d 2px 3px,#00ff00 3px 4px,#17aac2 4px 5px,#00ff00 5px 6px,#09de4d 6px 7px)}
.a31e{background-image:linear-gradient(90deg,#0ecb78 0px 1px,#08e048 1px 2px,#09dc50 2px 3px,#00ff00 3px 4px,#16acbf 4px 5px,#00ff00 5px 6px,#09dc50 6px 7px)}
.a31f{background-image:linear-gradient(90deg,#0ecb78 0px 1px,#08e341 1px 2px,#0ad957 2px 3px,#00ff00 3px 4px,#16afb8 4px 5px,#01fc07 5px 6px,#09dc50 6px 7px)}
.a31g{background-image:linear-gradient(90deg,#0ecc75 0px 1px,#08e340 1px 2px,#0bd85b 2px 3px,#00ff00 3px 4px,#15b1b4 4px 5px,#01fc08 5px 6px,#0adb53 6px 7px)}
.a31h{background-image:linear-gradient(90deg,#0dce70 0px 1px,#08e340 1px 2px,#0bd560 2px 3px,#00ff00 3px 4px,#15b3af 4px 5px,#01fc08 5px 6px,#0ad958 6px 7px)}
.a31i{background-image:linear-gradient(90deg,#0dce70 0px 1px,#07e53b 1px 2px,#0cd365 2px 3px,#00ff00 3px 4px,#14b5aa 4px 5px,#02f90d 5px 6px,#0ad958 6px 7px)}
.a31j{background-image:linear-gradient(90deg,#0dcf6f 0px 1px,#07e738 1px 2px,#0cd169 2px 3px,#00ff00 3px 4px,#14b7a6 4px 5px,#02f810 5px 6px,#0ad859 6px 7px)}
.a31k{background-image:linear-gradient(90deg,#0cd268 0px 1px,#07e738 1px 2px,#0dce70 2px 3px,#00ff00 3px 4px,#13ba9f 4px 5px,#02f810 5px 6px,#0bd560 6px 7px)}
.a31l{background-image:linear-gradient(90deg,#0cd268 0px 1px,#06e835 1px 2px,#0dcd73 2px 3px,#00ff00 3px 4px,#12bb9c 4px 5px,#02f713 5px 6px,#0bd560 6px 7px)}
.a31m{background-image:linear-gradient(90deg,#0cd268 0px 1px,#06ea30 1px 2px,#0ecb78 2px 3px,#00ff00 3px 4px,#12bd97 4px 5px,#03f518 5px 6px,#0bd560 6px 7px)}
.a31n{background-image:linear-gradient(90deg,#0bd561 0px 1px,#06ea30 1px 2px,#0fc87e 2px 3px,#00ff00 3px 4px,#11c090 4px 5px,#03f518 5px 6px,#0cd266 6px 7px)}
.a31o{background-image:linear-gradient(90deg,#0bd560 0px 1px,#06eb2f 1px 2px,#0fc780 2px 3px,#00ff00 3px 4px,#11c18f 4px 5px,#03f419 5px 6px,#0cd268 6px 7px)}
.a31p{background-image:linear-gradient(90deg,#0bd560 0px 1px,#05ee28 1px 2px,#10c487 2px 3px,#00ff00 3px 4px,#10c487 4px 5px,#04f120 5px 6px,#0cd268 6px 7px)}
.a31q{background-image:linear-gradient(90deg,#0bd75b 0px 1px,#05ee28 1px 2px,#10c28c 2px 3px,#00ff00 3px 4px,#0fc683 4px 5px,#04f120 5px 6px,#0dd06c 6px 7px)}
.a31r{background-image:linear-gradient(90deg,#0ad958 0px 1px,#05ee28 1px 2px,#11c18f 2px 3px,#00ff00 3px 4px,#0fc880 4px 5px,#04f120 5px 6px,#0dce70 6px 7px)}
.a31s{background-image:linear-gradient(90deg,#0ad958 0px 1px,#04f021 1px 2px,#12be96 2px 3px,#00ff00 3px 4px,#0eca79 4px 5px,#05ee26 5px 6px,#0dce70 6px 7px)}
.a31t{background-image:linear-gradient(90deg,#0ada55 0px 1px,#04f120 1px 2px,#12bc9a 2px 3px,#00ff00 3px 4px,#0ecc75 4px 5px,#05ee28 5px 6px,#0dcd72 6px 7px)}
.a31u{background-image:linear-gradient(90deg,#09dc50 0px 1px,#04f120 1px 2px,#13ba9f 2px 3px,#00ff00 3px 4px,#0dce70 4px 5px,#05ee28 5px 6px,#0ecb78 6px 7px)}
.a31v{background-image:linear-gradient(90deg,#09dc50 0px 1px,#03f31c 1px 2px,#13b8a4 2px 3px,#00ff00 3px 4px,#0dd06b 4px 5px,#05ec2c 5px 6px,#0ecb78 6px 7px)}
.a31w{background-image:linear-gradient(90deg,#09dc4f 0px 1px,#03f518 1px 2px,#14b6a8 2px 3px,#00ff00 3px 4px,#0cd267 4px 5px,#06ea30 5px 6px,#0ecb78 6px 7px)}
.a31x{background-image:linear-gradient(90deg,#08e048 0px 1px,#03f518 1px 2px,#15b3af 2px 3px,#00ff00 3px 4px,#0bd560 4px 5px,#06ea30 5px 6px,#0fc880 6px 7px)}
.a31y{background-image:linear-gradient(90deg,#08e048 0px 1px,#03f615 1px 2px,#15b2b2 2px 3px,#00ff00 3px 4px,#0bd65d 4px 5px,#06e932 5px 6px,#0fc880 6px 7px)}
.a31z{background-image:linear-gradient(90deg,#08e048 0px 1px,#02f810 1px 2px,#16afb7 2px 3px,#00ff00 3px 4px,#0ad958 4px 5px,#07e738 5px 6px,#0fc880 6px 7px)}
.a320{background-image:linear-gradient(90deg,#08e241 0px 1px,#02f810 1px 2px,#16afb7 2px 3px,#01fc06 3px 4px,#0adc51 4px 5px,#07e738 5px 6px,#10c586 6px 7px)}
.a321{background-image:linear-gradient(90deg,#08e340 0px 1px,#02f80f 1px 2px,#16afb8 2px 3px,#01fc08 3px 4px,#09dd4f 4px 5px,#07e738 5px 6px,#10c487 6px 7px)}
.a322{background-image:linear-gradient(90deg,#08e340 0px 1px,#01fc08 1px 2px,#16acbf 2px 3px,#01fc08 3px 4px,#08e048 4px 5px,#08e340 5px 6px,#10c487 6px 7px)}
.a323{background-image:linear-gradient(90deg,#07e53b 0px 1px,#01fc08 1px 2px,#16acbf 2px 3px,#01fa0c 3px 4px,#08e243 4px 5px,#08e340 5px 6px,#10c28c 6px 7px)}
.a324{background-image:linear-gradient(90deg,#07e738 0px 1px,#01fc08 1px 2px,#16acbf 2px 3px,#02f810 3px 4px,#08e340 4px 5px,#08e340 5px 6px,#11c18f 6px 7px)}
.a325{background-image:linear-gradient(90deg,#07e738 0px 1px,#00ff01 1px 2px,#17a9c6 2px 3px,#02f810 3px 4px,#07e639 4px 5px,#08e047 5px 6px,#11c18f 6px 7px)}
.a326{background-image:linear-gradient(90deg,#06e835 0px 1px,#00ff00 1px 2px,#17a8c7 2px 3px,#02f713 3px 4px,#06e835 4px 5px,#08e048 5px 6px,#11bf92 6px 7px)}
.a327{background-image:linear-gradient(90deg,#06ea30 0px 1px,#00ff00 1px 2px,#17a8c7 2px 3px,#03f518 3px 4px,#06ea30 4px 5px,#08e048 5px 6px,#12bd97 6px 7px)}
.a328{background-image:linear-gradient(90deg,#05ed2a 0px 1px,#00ff00 1px 2px,#18a6cd 2px 3px,#03f518 3px 4px,#05ed2a 4px 5px,#09dd4d 5px 6px,#12bd97 6px 7px)}
.a329{background-image:linear-gradient(90deg,#04ee26 0px 1px,#00ff00 1px 2px,#18a5cf 2px 3px,#03f419 3px 4px,#04ee26 4px 5px,#09dc50 5px 6px,#12bc99 6px 7px)}
.a32a{background-image:linear-gradient(90deg,#04f120 0px 1px,#00ff00 1px 2px,#18a5cf 2px 3px,#04f120 3px 4px,#04f120 4px 5px,#09dc50 5px 6px,#13ba9f 6px 7px)}
.a32b{background-image:linear-gradient(90deg,#03f31b 0px 1px,#00ff00 1px 2px,#19a3d4 2px 3px,#04f120 3px 4px,#03f31b 4px 5px,#0ada54 5px 6px,#13ba9f 6px 7px)}
.a32c{background-image:linear-gradient(90deg,#03f518 0px 1px,#00ff00 1px 2px,#19a1d7 2px 3px,#04f120 3px 4px,#03f518 4px 5px,#0ad958 5px 6px,#13baa0 6px 7px)}
.a32d{background-image:linear-gradient(90deg,#02f810 0px 1px,#00ff00 1px 2px,#19a1d7 2px 3px,#05ee28 3px 4px,#02f810 4px 5px,#0ad958 5px 6px,#14b6a7 6px 7px)}
.a32e{background-image:linear-gradient(90deg,#01fa0c 0px 1px,#00ff00 1px 2px,#1aa0db 2px 3px,#05ee28 3px 4px,#01fa0c 4px 5px,#0bd75b 5px 6px,#14b6a7 6px 7px)}
.a32f{background-image:linear-gradient(90deg,#01fc07 0px 1px,#00ff00 1px 2px,#1a9edf 2px 3px,#05ed28 3px 4px,#01fc07 4px 5px,#0bd560 5px 6px,#14b6a8 6px 7px)}
.a32g{background-image:linear-gradient(90deg,#00ff00 0px 1px,#00ff00 1px 2px,#1a9edf 2px 3px,#06ea30 3px 4px,#00ff00 4px 5px,#0bd560 5px 6px,#15b3af 6px 7px)}
.a32h{background-image:linear-gradient(90deg,#00ff00 0px 1px,#00ff00 1px 2px,#1b9ce3 2px 3px,#06ea30 3px 4px,#00ff00 4px 5px,#0cd464 5px 6px,#15b3af 6px 7px)}
.a32i{background-image:linear-gradient(90deg,#00ff00 0px 1px,#00ff00 1px 2px,#1b9ae7 2px 3px,#06ea31 3px 4px,#00ff00 4px 5px,#0cd268 5px 6px,#15b2b1 6px 7px)}
.a32j{background-image:linear-gradient(90deg,#00ff00 0px 1px,#00ff00 1px 2px,#1b9ae7 2px 3px,#07e738 3px 4px,#00ff00 4px 5px,#0cd268 5px 6px,#16afb7 6px 7px)}
.a32k{background-image:linear-gradient(90deg,#00ff00 0px 1px,#00ff00 1px 2px,#1c98ec 2px 3px,#07e738 3px 4px,#00ff00 4px 5px,#0dd06d 5px 6px,#16afb7 6px 7px)}
.a32l{background-image:linear-gradient(90deg,#00ff00 0px 1px,#00ff00 1px 2px,#1c97ef 2px 3px,#07e53b 3px 4px,#00ff00 4px 5px,#0dce70 5px 6px,#16aebb 6px 7px)}
.a32m{background-image:linear-gradient(90deg,#00ff00 0px 1px,#00ff00 1px 2px,#1f96eb 2px 3px,#08e340 3px 4px,#00ff00 4px 5px,#10cd6c 5px 6px,#16acbf 6px 7px)}
.a32n{background-image:linear-gradient(90deg,#00ff00 0px 1px,#00ff00 1px 2px,#2890e9 2px 3px,#08e340 3px 4px,#00ff00 4px 5px,#19c769 5px 6px,#16acbf 6px 7px)}
.a32o{background-image:linear-gradient(90deg,#00ff00 0px 1px,#00ff00 1px 2px,#2990e9 2px 3px,#08e145 3px 4px,#00ff00 4px 5px,#1ac769 5px 6px,#17a9c5 6px 7px)}
.a32p{background-image:linear-gradient(90deg,#00ff00 0px 1px,#00ff00 1px 2px,#308de3 2px 3px,#08e048 3px 4px,#00ff00 4px 5px,#21c463 5px 6px,#17a8c7 6px 7px)}
.a32q{background-image:linear-gradient(90deg,#00ff00 0px 1px,#00ff00 1px 2px,#3588e2 2px 3px,#09df48 3px 4px,#00ff00 4px 5px,#26c063 5px 6px,#18a8c8 6px 7px)}
.a32r{background-image:linear-gradient(90deg,#00ff00 0px 1px,#00ff00 1px 2px,#3788e0 2px 3px,#09dc50 3px 4px,#00ff00 4px 5px,#28bf61 5px 6px,#18a5cf 6px 7px)}
.a32s{background-image:linear-gradient(90deg,#00ff00 0px 1px,#05fb01 1px 2px,#3b86db 2px 3px,#09dc50 3px 4px,#00ff00 4px 5px,#31ba5c 5px 6px,#18a5cf 6px 7px)}
.a32t{background-image:linear-gradient(90deg,#00ff00 0px 1px,#07fa01 1px 2px,#3b86db 2px 3px,#0ada55 3px 4px,#00ff00 4px 5px,#33b95c 5px 6px,#19a3d4 6px 7px)}
.a32u{background-image:linear-gradient(90deg,#00ff00 0px 1px,#09f801 1px 2px,#4085d5 2px 3px,#0ad958 3px 4px,#00ff00 4px 5px,#3ab556 5px 6px,#19a1d7 6px 7px)}
.a32v{background-image:linear-gradient(90deg,#00ff00 0px 1px,#0ef402 1px 2px,#4185d4 2px 3px,#0bd85a 3px 4px,#00ff00 4px 5px,#40b156 5px 6px,#1aa0d9 6px 7px)}
.a32w{background-image:linear-gradient(90deg,#00ff00 0px 1px,#0ef402 1px 2px,#4484d0 2px 3px,#0bd560 3px 4px,#00ff00 4px 5px,#43b052 5px 6px,#1a9edf 6px 7px)}
.a32x{background-image:linear-gradient(90deg,#00ff00 0px 1px,#14ef02 1px 2px,#4783cd 2px 3px,#0bd560 3px 4px,#00ff00 4px 5px,#4caa50 5px 6px,#1a9ee0 6px 7px)}
.a32y{background-image:linear-gradient(90deg,#00ff00 0px 1px,#14ef02 1px 2px,#4982ca 2px 3px,#0cd268 3px 4px,#00ff00 4px 5px,#4ea94d 5px 6px,#1b9ae7 6px 7px)}
.a32z{background-image:linear-gradient(90deg,#00ff00 0px 1px,#1aea03 1px 2px,#4d81c6 2px 3px,#0cd268 3px 4px,#00ff00 4px 5px,#58a349 5px 6px,#1b9ae7 6px 7px)}
.a330{background-image:linear-gradient(90deg,#00ff00 0px 1px,#1bea03 1px 2px,#4e80c4 2px 3px,#0dcf6f 3px 4px,#00ff00 4px 5px,#5aa248 5px 6px,#1c97ef 6px 7px)}
.a331{background-image:linear-gradient(90deg,#00ff00 0px 1px,#21e504 1px 2px,#537fbe 2px 3px,#0dce70 3px 4px,#00ff00 4px 5px,#659c43 5px 6px,#1c97ef 6px 7px)}
.a332{background-image:linear-gradient(90deg,#00ff00 0px 1px,#22e404 1px 2px,#547ebc 2px 3px,#0ecb78 3px 4px,#00ff00 4px 5px,#689b40 5px 6px,#1d93f7 6px 7px)}
.a333{background-image:linear-gradient(90deg,#00ff00 0px 1px,#29df05 1px 2px,#587db7 2px 3px,#0eca79 3px 4px,#00ff00 4px 5px,#72943c 5px 6px,#1d93f9 6px 7px)}
.a334{background-image:linear-gradient(90deg,#00ff00 0px 1px,#2bdd05 1px 2px,#5c7cb3 2px 3px,#0fc880 3px 4px,#00ff00 4px 5px,#779238 5px 6px,#1e90ff 6px 7px)}
.a335{background-image:linear-gradient(90deg,#01fd05 0px 1px,#2fd905 1px 2px,#5e7bb0 2px 3px,#10c584 3px 4px,#00ff00 4px 5px,#7f8d36 5px 6px,#1e90ff 6px 7px)}
.a336{background-image:linear-gradient(90deg,#01fb09 0px 1px,#35d506 1px 2px,#6479a9 2px 3px,#10c488 3px 4px,#00ff00 4px 5px,#8a872f 5px 6px,#1e90ff 6px 7px)}
.a337{background-image:linear-gradient(90deg,#02f810 0px 1px,#39d207 1px 2px,#6878a4 2px 3px,#11c18f 3px 4px,#00ff00 4px 5px,#91832c 5px 6px,#1e90ff 6px 7px)}
.a338{background-image:linear-gradient(90deg,#03f516 0px 1px,#3ece07 1px 2px,#6c779f 2px 3px,#12be96 3px 4px,#00ff00 4px 5px,#9b7d27 5px 6px,#1e90ff 6px 7px)}
.a339{background-image:linear-gradient(90deg,#03f31c 0px 1px,#44c908 1px 2px,#717598 2px 3px,#12bb9c 3px 4px,#00ff00 4px 5px,#a67621 5px 6px,#1e90ff 6px 7px)}
.a33a{background-image:linear-gradient(90deg,#04ef25 0px 1px,#4cc309 1px 2px,#787390 2px 3px,#13b7a5 3px 4px,#00ff00 4px 5px,#b56e1a 5px 6px,#1e90ff 6px 7px)}
.a33b{background-image:linear-gradient(90deg,#06ea31 0px 1px,#55bc0a 1px 2px,#807086 2px 3px,#15b2b0 3px 4px,#00ff00 4px 5px,#c16616 5px 6px,#238ef9 6px 7px)}
.a33c{background-image:linear-gradient(90deg,#1fe653 0px 1px,#78b323 1px 2px,#9e7a7f 2px 3px,#2daed1 3px 4px,#11ff11 4px 5px,#d66025 5px 6px,#4096ee 6px 7px)}
.b01{background-image:linear-gradient(90deg,#f7eef6 0px 1px,#fcefec 1px 2px,#e9ffe9 2px 3px,#e6e6ff 3px 4px,#ffe6e6 4px 5px,#e8ffe8 5px 6px,#eceefd 6px 7px)}
.b02{background-image:linear-gradient(90deg,#7e0b8c 0px 1px,#9f6909 1px 2px,#09c740 2px 3px,#0707ff 3px 4px,#f7040d 4px 5px,#1fe909 5px 6px,#0948c0 6px 7px)}
.b03{background-image:linear-gradient(90deg,#63009c 0px 1px,#837c00 1px 2px,#00af50 2px 3px,#0000ff 3px 4px,#e2001d 4px 5px,#04fb00 5px 6px,#002fd0 6px 7px)}
.b04{background-image:linear-gradient(90deg,#5800a7 0px 1px,#7a8500 1px 2px,#00a45b 2px 3px,#0000ff 3px 4px,#d10628 4px 5px,#00ff00 5px 6px,#0024db 6px 7px)}
.b05{background-image:linear-gradient(90deg,#4f00b0 0px 1px,#708f00 1px 2px,#009b64 2px 3px,#0000ff 3px 4px,#c00f30 4px 5px,#00ff00 5px 6px,#001ce3 6px 7px)}
.b06{background-image:linear-gradient(90deg,#4800b7 0px 1px,#699600 1px 2px,#00946b 2px 3px,#0000ff 3px 4px,#b11638 4px 5px,#00ff00 5px 6px,#0015ea 6px 7px)}
.b07{background-image:linear-gradient(90deg,#4100be 0px 1px,#629d00 1px 2px,#008e71 2px 3px,#0000ff 3px 4px,#a31d3f 4px 5px,#00ff00 5px 6px,#000ff0 6px 7px)}
.b08{background-image:linear-gradient(90deg,#3c00c3 0px 1px,#5ea100 1px 2px,#008778 2px 3px,#0000ff 3px 4px,#9a2143 4px 5px,#00ff00 5px 6px,#0008f7 6px 7px)}
.b09{background-image:linear-gradient(90deg,#3800c7 0px 1px,#58a700 1px 2px,#00827d 2px 3px,#0000ff 3px 4px,#8f2848 4px 5px,#00ff00 5px 6px,#0003fc 6px 7px)}
.b0a{background-image:linear-gradient(90deg,#3000cf 0px 1px,#53ac00 1px 2px,#007f80 2px 3px,#0000ff 3px 4px,#832d50 4px 5px,#00ff00 5px 6px,#0000ff 6px 7px)}
.b0b{background-image:linear-gradient(90deg,#2e00d1 0px 1px,#50af00 1px 2px,#007887 2px 3px,#0000ff 3px 4px,#7e3051 4px 5px,#00f708 5px 6px,#0000ff 6px 7px)}
.b0c{background-image:linear-gradient(90deg,#2800d7 0px 1px,#49b600 1px 2px,#00758a 2px 3px,#0000ff 3px 4px,#713758 4px 5px,#00f50a 5px 6px,#0000ff 6px 7px)}
.b0d{background-image:linear-gradient(90deg,#2500da 0px 1px,#48b700 1px 2px,#00708f 2px 3px,#0000ff 3px 4px,#6d385b 4px 5px,#00ef10 5px 6px,#0000ff 6px 7px)}
.b0e{background-image:linear-gradient(90deg,#2000df 0px 1px,#40bf00 1px 2px,#006d92 2px 3px,#0000ff 3px 4px,#604060 4px 5px,#00ec13 5px 6px,#0000ff 6px 7px)}
.b0f{background-image:linear-gradient(90deg,#1d00e2 0px 1px,#40bf00 1px 2px,#006897 2px 3px,#0000ff 3px 4px,#5d4062 4px 5px,#00e718 5px 6px,#0000ff 6px 7px)}
.b0g{background-image:linear-gradient(90deg,#1800e7 0px 1px,#38c700 1px 2px,#00659a 2px 3px,#0000ff 3px 4px,#504768 4px 5px,#00e41b 5px 6px,#0000ff 6px 7px)}
.b0h{background-image:linear-gradient(90deg,#1600e9 0px 1px,#38c700 1px 2px,#00609f 2px 3px,#0000ff 3px 4px,#4d486a 4px 5px,#00df20 5px 6px,#0000ff 6px 7px)}
.b0i{background-image:linear-gradient(90deg,#1000ef 0px 1px,#31ce00 1px 2px,#005fa0 2px 3px,#0000ff 3px 4px,#414e70 4px 5px,#00de21 5px 6px,#0000ff 6px 7px)}
.b0j{background-image:linear-gradient(90deg,#1000ef 0px 1px,#30cf00 1px 2px,#0058a7 2px 3px,#0000ff 3px 4px,#405070 4px 5px,#00d728 5px 6px,#0000ff 6px 7px)}
.b0k{background-image:linear-gradient(90deg,#0800f7 0px 1px,#2bd400 1px 2px,#0058a7 2px 3px,#0000ff 3px 4px,#335478 4px 5px,#00d728 5px 6px,#0000ff 6px 7px)}
.b0l{background-image:linear-gradient(90deg,#0800f7 0px 1px,#28d700 1px 2px,#0051ae 2px 3px,#0000ff 3px 4px,#305878 4px 5px,#00d02f 5px 6px,#0000ff 6px 7px)}
.b0m{background-image:linear-gradient(90deg,#0300fc 0px 1px,#27d800 1px 2px,#0050af 2px 3px,#0000ff 3px 4px,#2a597d 4px 5px,#00cf30 5px 6px,#0000ff 6px 7px)}
.b0n{background-image:linear-gradient(90deg,#0000ff 0px 1px,#20df00 1px 2px,#004db2 2px 3px,#0000ff 3px 4px,#206080 4px 5px,#00cc33 5px 6px,#0000ff 6px 7px)}
.b0o{background-image:linear-gradient(90deg,#0000ff 0px 1px,#1fdf01 1px 2px,#0048b7 2px 3px,#0000ff 3px 4px,#1f6080 4px 5px,#00c738 5px 6px,#0000ff 6px 7px)}
.b0p{background-image:linear-gradient(90deg,#0000ff 0px 1px,#13e408 1px 2px,#0048b7 2px 3px,#0000ff 3px 4px,#136587 4px 5px,#00c738 5px 6px,#0000ff 6px 7px)}
.b0q{background-image:linear-gradient(90deg,#0000ff 0px 1px,#10e708 1px 2px,#0041be 2px 3px,#0000ff 3px 4px,#106887 4px 5px,#00c03f 5px 6px,#0000ff 6px 7px)}
.b0r{background-image:linear-gradient(90deg,#0000ff 0px 1px,#0ce70c 1px 2px,#0040bf 2px 3px,#0000ff 3px 4px,#0c688b 4px 5px,#00bf40 5px 6px,#0000ff 6px 7px)}
.b0s{background-image:linear-gradient(90deg,#0000ff 0px 1px,#00ef10 1px 2px,#003fc0 2px 3px,#0000ff 3px 4px,#00708f 4px 5px,#00bf40 5px 6px,#0000ff 6px 7px)}
.b0t{background-image:linear-gradient(90deg,#0000ff 0px 1px,#00ef10 1px 2px,#0038c7 2px 3px,#0000ff 3px 4px,#00708f 4px 5px,#00b748 5px 6px,#0000ff 6px 7px)}
.b0u{background-image:linear-gradient(90deg,#0000ff 0px 1px,#00e916 1px 2px,#0038c7 2px 3px,#0000ff 3px 4px,#006996 4px 5px,#00b748 5px 6px,#0000ff 6px 7px)}
.b0v{background-image:linear-gradient(90deg,#0000ff 0px 1px,#00e718 1px 2px,#0036c9 2px 3px,#0000ff 3px 4px,#006897 4px 5px,#00b54a 5px 6px,#0000ff 6px 7px)}
.b0w{background-image:linear-gradient(90deg,#0000ff 0px 1px,#00e718 1px 2px,#0030cf 2px 3px,#0000ff 3px 4px,#006897 4px 5px,#00af50 5px 6px,#0000ff 6px 7px)}
.b0x{background-image:linear-gradient(90deg,#0000ff 0px 1px,#00df20 1px 2px,#0030cf 2px 3px,#0000ff 3px 4px,#00609f 4px 5px,#00af50 5px 6px,#0000ff 6px 7px)}
.b0y{background-image:linear-gradient(90deg,#0000ff 0px 1px,#00df20 1px 2px,#002dd2 2px 3px,#0003fc 3px 4px,#00609f 4px 5px,#00ac53 5px 6px,#0003fc 6px 7px)}
.b0z{background-image:linear-gradient(90deg,#0000ff 0px 1px,#00de21 1px 2px,#0028d7 2px 3px,#0009f6 3px 4px,#005fa0 4px 5px,#00a758 5px 6px,#0009f6 6px 7px)}
.b010{background-image:linear-gradient(90deg,#0000ff 0px 1px,#00d728 1px 2px,#0028d7 2px 3px,#0010ef 3px 4px,#0058a7 4px 5px,#00a758 5px 6px,#0010ef 6px 7px)}
.b011{background-image:linear-gradient(90deg,#0000ff 0px 1px,#00d728 1px 2px,#0024db 2px 3px,#0013ec 3px 4px,#0058a7 4px 5px,#00a45b 5px 6px,#0013ec 6px 7px)}
.b012{background-image:linear-gradient(90deg,#0000ff 0px 1px,#00d629 1px 2px,#0020df 2px 3px,#0019e6 3px 4px,#0057a8 4px 5px,#009f60 5px 6px,#0019e6 6px 7px)}
.b013{background-image:linear-gradient(90deg,#0000ff 0px 1px,#00cf30 1px 2px,#0020df 2px 3px,#0020df 3px 4px,#0050af 4px 5px,#009f60 5px 6px,#0020df 6px 7px)}
.b014{background-image:linear-gradient(90deg,#0000ff 0px 1px,#00cf30 1px 2px,#001ce3 2px 3px,#0023dc 3px 4px,#0050af 4px 5px,#009c63 5px 6px,#0023dc 6px 7px)}
.b015{background-image:linear-gradient(90deg,#0000ff 0px 1px,#00ce31 1px 2px,#0018e7 2px 3px,#0029d6 3px 4px,#004fb0 4px 5px,#009768 5px 6px,#0029d6 6px 7px)}
.b016{background-image:linear-gradient(90deg,#0000ff 0px 1px,#00c738 1px 2px,#0018e7 2px 3px,#0030cf 3px 4px,#0048b7 4px 5px,#009768 5px 6px,#0030cf 6px 7px)}
.b017{background-image:linear-gradient(90deg,#0000ff 0px 1px,#00c738 1px 2px,#0015ea 2px 3px,#0033cc 3px 4px,#0048b7 4px 5px,#00946b 5px 6px,#0033cc 6px 7px)}
.b018{background-image:linear-gradient(90deg,#0000ff 0px 1px,#00c738 1px 2px,#0010ef 2px 3px,#0038c7 3px 4px,#0048b7 4px 5px,#008f70 5px 6px,#0038c7 6px 7px)}
.b019{background-image:linear-gradient(90deg,#0008f7 0px 1px,#00bf40 1px 2px,#0010ef 2px 3px,#0040bf 3px 4px,#0040bf 4px 5px,#008f70 5px 6px,#0038c7 6px 7px)}
.b01a{background-image:linear-gradient(90deg,#0008f7 0px 1px,#00bf40 1px 2px,#000ef1 2px 3px,#0042bd 3px 4px,#0040bf 4px 5px,#008d72 5px 6px,#003ac5 6px 7px)}
.b01b{background-image:linear-gradient(90deg,#0008f7 0px 1px,#00bf40 1px 2px,#0008f7 2px 3px,#0048b7 3px 4px,#0040bf 4px 5px,#008778 5px 6px,#0040bf 6px 7px)}
.b01c{background-image:linear-gradient(90deg,#000ff0 0px 1px,#00b847 1px 2px,#0008f7 2px 3px,#004fb0 3px 4px,#0039c6 4px 5px,#008778 5px 6px,#0040bf 6px 7px)}
.b01d{background-image:linear-gradient(90deg,#0010ef 0px 1px,#00b748 1px 2px,#0007f8 2px 3px,#0050af 3px 4px,#0038c7 4px 5px,#008778 5px 6px,#0040bf 6px 7px)}
.b01e{background-image:linear-gradient(90deg,#0010ef 0px 1px,#00b748 1px 2px,#0000ff 2px 3px,#0058a7 3px 4px,#0038c7 4px 5px,#008080 5px 6px,#0048b7 6px 7px)}
.b01f{background-image:linear-gradient(90deg,#0014eb 0px 1px,#00b34c 1px 2px,#0000ff 2px 3px,#005ca3 3px 4px,#0033cc 4px 5px,#008080 5px 6px,#0048b7 6px 7px)}
.b01g{background-image:linear-gradient(90deg,#0018e7 0px 1px,#00af50 1px 2px,#0000ff 2px 3px,#00609f 3px 4px,#0030cf 4px 5px,#008080 5px 6px,#0048b7 6px 7px)}
.b01h{background-image:linear-gradient(90deg,#0018e7 0px 1px,#00a857 1px 2px,#0000ff 2px 3px,#006798 3px 4px,#0030cf 4px 5px,#007887 5px 6px,#004fb0 6px 7px)}
.b01i{background-image:linear-gradient(90deg,#001ae5 0px 1px,#00a55a 1px 2px,#0000ff 2px 3px,#006a95 3px 4px,#002ed1 4px 5px,#007887 5px 6px,#0050af 6px 7px)}
.b01j{background-image:linear-gradient(90deg,#0020df 0px 1px,#009f60 1px 2px,#0000ff 2px 3px,#00708f 3px 4px,#0028d7 4px 5px,#007887 5px 6px,#0050af 6px 7px)}
.b01k{background-image:linear-gradient(90deg,#0020df 0px 1px,#009a65 1px 2px,#0000ff 2px 3px,#00758a 3px 4px,#0028d7 4px 5px,#00728d 5px 6px,#0055aa 6px 7px)}
.b01l{background-image:linear-gradient(90deg,#0020df 0px 1px,#009768 1px 2px,#0000ff 2px 3px,#007887 3px 4px,#0027d8 4px 5px,#00708f 5px 6px,#0058a7 6px 7px)}
.b01m{background-image:linear-gradient(90deg,#0028d7 0px 1px,#008f70 1px 2px,#0000ff 2px 3px,#008080 3px 4px,#0020df 4px 5px,#00708f 5px 6px,#0058a7 6px 7px)}
.b01n{background-image:linear-gradient(90deg,#0028d7 0px 1px,#008c73 1px 2px,#0000ff 2px 3px,#00837c 3px 4px,#0020df 4px 5px,#006c93 5px 6px,#005ba4 6px 7px)}
.b01o{background-image:linear-gradient(90deg,#0028d7 0px 1px,#008778 1px 2px,#0000ff 2px 3px,#008778 3px 4px,#0020df 4px 5px,#006897 5px 6px,#00609f 6px 7px)}
.b01p{background-image:linear-gradient(90deg,#002fd0 0px 1px,#00817e 1px 2px,#0000ff 2px 3px,#008e71 3px 4px,#0019e6 4px 5px,#006897 5px 6px,#00609f 6px 7px)}
.b01q{background-image:linear-gradient(90deg,#0030cf 0px 1px,#007e81 1px 2px,#0000ff 2px 3px,#00916e 3px 4px,#0018e7 4px 5px,#006699 5px 6px,#00619e 6px 7px)}
.b01r{background-image:linear-gradient(90deg,#0030cf 0px 1px,#007887 1px 2px,#0000ff 2px 3px,#009768 3px 4px,#0018e7 4px 5px,#00609f 5px 6px,#006897 6px 7px)}
.b01s{background-image:linear-gradient(90deg,#0035ca 0px 1px,#00738c 1px 2px,#0000ff 2px 3px,#009c63 3px 4px,#0013ec 4px 5px,#00609f 5px 6px,#006897 6px 7px)}
.b01t{background-image:linear-gradient(90deg,#0038c7 0px 1px,#00708f 1px 2px,#0000ff 2px 3px,#009f60 3px 4px,#0010ef 4px 5px,#00609f 5px 6px,#006897 6px 7px)}
.b01u{background-image:linear-gradient(90deg,#0038c7 0px 1px,#006897 1px 2px,#0000ff 2px 3px,#00a758 3px 4px,#0010ef 4px 5px,#0058a7 5px 6px,#006f90 6px 7px)}
.b01v{background-image:linear-gradient(90deg,#003bc4 0px 1px,#00659a 1px 2px,#0000ff 2px 3px,#00aa55 3px 4px,#000df2 4px 5px,#0058a7 5px 6px,#00708f 6px 7px)}
.b01w{background-image:linear-gradient(90deg,#0040bf 0px 1px,#00609f 1px 2px,#0000ff 2px 3px,#00af50 3px 4px,#0008f7 4px 5px,#0058a7 5px 6px,#00708f 6px 7px)}
.b01x{background-image:linear-gradient(90deg,#0040bf 0px 1px,#005aa5 1px 2px,#0000ff 2px 3px,#00b54a 3px 4px,#0008f7 4px 5px,#0052ad 5px 6px,#00758a 6px 7px)}
.b01y{background-image:linear-gradient(90deg,#0041be 0px 1px,#0056a9 1px 2px,#0000ff 2px 3px,#00b946 3px 4px,#0006f9 4px 5px,#0050af 5px 6px,#007887 6px 7px)}
.b01z{background-image:linear-gradient(90deg,#0048b7 0px 1px,#0050af 1px 2px,#0000ff 2px 3px,#00bf40 3px 4px,#0000ff 4px 5px,#0050af 5px 6px,#007887 6px 7px)}
.b020{background-image:linear-gradient(90deg,#0048b7 0px 1px,#004db2 1px 2px,#0000ff 2px 3px,#00c23d 3px 4px,#0000ff 4px 5px,#004db2 5px 6px,#007b84 6px 7px)}
.b021{background-image:linear-gradient(90deg,#0048b7 0px 1px,#0047b8 1px 2px,#0000ff 2px 3px,#00c738 3px 4px,#0000ff 4px 5px,#0047b8 5px 6px,#008080 6px 7px)}
.b022{background-image:linear-gradient(90deg,#0050af 0px 1px,#0040bf 1px 2px,#0000ff 2px 3px,#00cf30 3px 4px,#0000ff 4px 5px,#0040bf 5px 6px,#008080 6px 7px)}
.b023{background-image:linear-gradient(90deg,#0050af 0px 1px,#003ec1 1px 2px,#0002fd 2px 3px,#00cf30 3px 4px,#0000ff 4px 5px,#003ec1 5px 6px,#00817e 6px 7px)}
.b024{background-image:linear-gradient(90deg,#0050af 0px 1px,#0038c7 1px 2px,#0008f7 2px 3px,#00cf30 3px 4px,#0000ff 4px 5px,#0038c7 5px 6px,#008778 6px 7px)}
.b025{background-image:linear-gradient(90deg,#0057a8 0px 1px,#0031ce 1px 2px,#0008f7 2px 3px,#00d629 3px 4px,#0000ff 4px 5px,#0031ce 5px 6px,#008778 6px 7px)}
.b026{background-image:linear-gradient(90deg,#0058a7 0px 1px,#002fd0 1px 2px,#0009f6 2px 3px,#00d728 3px 4px,#0000ff 4px 5px,#002fd0 5px 6px,#008976 6px 7px)}
.b027{background-image:linear-gradient(90deg,#0058a7 0px 1px,#0028d7 1px 2px,#0010ef 2px 3px,#00d728 3px 4px,#0000ff 4px 5px,#0028d7 5px 6px,#008f70 6px 7px)}
.b028{background-image:linear-gradient(90deg,#005ea1 0px 1px,#0021de 1px 2px,#0010ef 2px 3px,#00de21 3px 4px,#0000ff 4px 5px,#0021de 5px 6px,#008f70 6px 7px)}
.b029{background-image:linear-gradient(90deg,#00609f 0px 1px,#001fe0 1px 2px,#0011ee 2px 3px,#00df20 3px 4px,#0000ff 4px 5px,#001fe0 5px 6px,#00906f 6px 7px)}
.b02a{background-image:linear-gradient(90deg,#00609f 0px 1px,#0018e7 1px 2px,#0018e7 2px 3px,#00df20 3px 4px,#0000ff 4px 5px,#0018e7 5px 6px,#009768 6px 7px)}
.b02b{background-image:linear-gradient(90deg,#006699 0px 1px,#0011ee 1px 2px,#0018e7 2px 3px,#00e619 3px 4px,#0000ff 4px 5px,#0011ee 5px 6px,#009768 6px 7px)}
.b02c{background-image:linear-gradient(90deg,#006897 0px 1px,#000ef1 1px 2px,#0019e6 2px 3px,#00e718 3px 4px,#0000ff 4px 5px,#000ef1 5px 6px,#009966 6px 7px)}
.b02d{background-image:linear-gradient(90deg,#006897 0px 1px,#0008f7 1px 2px,#0020df 2px 3px,#00e718 3px 4px,#0000ff 4px 5px,#0008f7 5px 6px,#009f60 6px 7px)}
.b02e{background-image:linear-gradient(90deg,#006f90 0px 1px,#0001fe 1px 2px,#0020df 2px 3px,#00ee11 3px 4px,#0000ff 4px 5px,#0001fe 5px 6px,#009f60 6px 7px)}
.b02f{background-image:linear-gradient(90deg,#00708f 0px 1px,#0000ff 1px 2px,#0022dd 2px 3px,#00ef10 3px 4px,#0000ff 4px 5px,#0000ff 5px 6px,#00a15e 6px 7px)}
.b02g{background-image:linear-gradient(90deg,#00708f 0px 1px,#0000ff 1px 2px,#0028d7 2px 3px,#00ef10 3px 4px,#0000ff 4px 5px,#0000ff 5px 6px,#00a758 6px 7px)}
.b02h{background-image:linear-gradient(90deg,#007887 0px 1px,#0000ff 1px 2px,#0028d7 2px 3px,#00f708 3px 4px,#0000ff 4px 5px,#0000ff 5px 6px,#00a758 6px 7px)}
.b02i{background-image:linear-gradient(90deg,#007887 0px 1px,#0000ff 1px 2px,#002cd3 2px 3px,#00f708 3px 4px,#0000ff 4px 5px,#0000ff 5px 6px,#00ab54 6px 7px)}
.b02j{background-image:linear-gradient(90deg,#007986 0px 1px,#0000ff 1px 2px,#0030cf 2px 3px,#00f906 3px 4px,#0000ff 4px 5px,#0000ff 5px 6px,#00af50 6px 7px)}
.b02k{background-image:linear-gradient(90deg,#008080 0px 1px,#0000ff 1px 2px,#022ecf 2px 3px,#00ff00 3px 4px,#0000ff 4px 5px,#0000ff 5px 6px,#02ad50 6px 7px)}
.b02l{background-image:linear-gradient(90deg,#008080 0px 1px,#0000ff 1px 2px,#0e28c9 2px 3px,#00ff00 3px 4px,#0000ff 4px 5px,#0000ff 5px 6px,#0ea74a 6px 7px)}
.b02m{background-image:linear-gradient(90deg,#00837c 0px 1px,#0000ff 1px 2px,#1028c7 2px 3px,#00ff00 3px 4px,#0003fc 4px 5px,#0000ff 5px 6px,#10a748 6px 7px)}
.b02n{background-image:linear-gradient(90deg,#008778 0px 1px,#0000ff 1px 2px,#1623c6 2px 3px,#00ff00 3px 4px,#0008f7 4px 5px,#0000ff 5px 6px,#16a246 6px 7px)}
.b02o{background-image:linear-gradient(90deg,#008778 0px 1px,#0000ff 1px 2px,#2020bf 2px 3px,#00ff00 3px 4px,#0008f7 4px 5px,#0000ff 5px 6px,#209f40 6px 7px)}
.b02p{background-image:linear-gradient(90deg,#008f70 0px 1px,#0000ff 1px 2px,#211fbf 2px 3px,#00ff00 3px 4px,#000ff0 4px 5px,#0000ff 5px 6px,#219e40 6px 7px)}
.b02q{background-image:linear-gradient(90deg,#008f70 0px 1px,#0000ff 1px 2px,#2d18ba 2px 3px,#00ff00 3px 4px,#0010ef 4px 5px,#0000ff 5px 6px,#2d973b 6px 7px)}
.b02r{background-image:linear-gradient(90deg,#00936c 0px 1px,#0000ff 1px 2px,#3018b7 2px 3px,#00ff00 3px 4px,#0013ec 4px 5px,#0000ff 5px 6px,#309738 6px 7px)}
.b02s{background-image:linear-gradient(90deg,#009768 0px 1px,#0000ff 1px 2px,#3812b5 2px 3px,#00ff00 3px 4px,#0018e7 4px 5px,#0000ff 5px 6px,#389236 6px 7px)}
.b02t{background-image:linear-gradient(90deg,#009867 0px 1px,#0000ff 1px 2px,#4010af 2px 3px,#00ff00 3px 4px,#0019e6 4px 5px,#0000ff 5px 6px,#408f30 6px 7px)}
.b02u{background-image:linear-gradient(90deg,#009f60 0px 1px,#0000ff 1px 2px,#430daf 2px 3px,#00ff00 3px 4px,#0020df 4px 5px,#0000ff 5px 6px,#438c30 6px 7px)}
.b02v{background-image:linear-gradient(90deg,#009f60 0px 1px,#0000ff 1px 2px,#4f08a8 2px 3px,#00ff00 3px 4px,#0020df 4px 5px,#0000ff 5px 6px,#4f8728 6px 7px)}
.b02w{background-image:linear-gradient(90deg,#00a758 0px 1px,#0000ff 1px 2px,#5206a7 2px 3px,#00ff00 3px 4px,#0027d8 4px 5px,#0000ff 5px 6px,#528528 6px 7px)}
.b02x{background-image:linear-gradient(90deg,#00a758 0px 1px,#0000ff 1px 2px,#5f00a0 2px 3px,#00ff00 3px 4px,#0028d7 4px 5px,#0000ff 5px 6px,#5f8021 6px 7px)}
.b02y{background-image:linear-gradient(90deg,#00ae51 0px 1px,#0000ff 1px 2px,#60009f 2px 3px,#02fd00 3px 4px,#002fd0 4px 5px,#0000ff 5px 6px,#627e20 6px 7px)}
.b02z{background-image:linear-gradient(90deg,#00af50 0px 1px,#0000ff 1px 2px,#670098 2px 3px,#08f700 3px 4px,#0030cf 4px 5px,#0000ff 5px 6px,#6f7819 6px 7px)}
.b030{background-image:linear-gradient(90deg,#00b748 0px 1px,#0000ff 1px 2px,#680097 2px 3px,#0bf400 3px 4px,#0038c7 4px 5px,#0000ff 5px 6px,#737418 6px 7px)}
.b031{background-image:linear-gradient(90deg,#00b946 0px 1px,#0000ff 1px 2px,#70008f 2px 3px,#10ef00 3px 4px,#0039c6 4px 5px,#0000ff 5px 6px,#807010 6px 7px)}
.b032{background-image:linear-gradient(90deg,#00bf40 0px 1px,#0000ff 1px 2px,#72008d 2px 3px,#15ea00 3px 4px,#0040bf 4px 5px,#0000ff 5px 6px,#876a0e 6px 7px)}
.b033{background-image:linear-gradient(90deg,#00c43b 0px 1px,#0000ff 1px 2px,#780087 2px 3px,#19e600 3px 4px,#0044bb 4px 5px,#0000ff 5px 6px,#906708 6px 7px)}
.b034{background-image:linear-gradient(90deg,#00c837 0px 1px,#0000ff 1px 2px,#7e0081 2px 3px,#20df00 3px 4px,#0049b6 4px 5px,#0000ff 5px 6px,#9e6002 6px 7px)}
.b035{background-image:linear-gradient(90deg,#00cf30 0px 1px,#0000ff 1px 2px,#82007d 2px 3px,#25da00 3px 4px,#0050af 4px 5px,#0300fc 5px 6px,#a45b00 6px 7px)}
.b036{background-image:linear-gradient(90deg,#00d629 0px 1px,#0000ff 1px 2px,#890076 2px 3px,#2bd400 3px 4px,#0057a8 4px 5px,#0a00f5 5px 6px,#ab5400 6px 7px)}
.b037{background-image:linear-gradient(90deg,#00dd22 0px 1px,#0000ff 1px 2px,#91006e 2px 3px,#33cc00 3px 4px,#005da2 4px 5px,#1100ee 5px 6px,#b24d00 6px 7px)}
.b038{background-image:linear-gradient(90deg,#00e619 0px 1px,#0000ff 1px 2px,#9a0065 2px 3px,#3cc300 3px 4px,#006699 4px 5px,#1b00e4 5px 6px,#bb4400 6px 7px)}
.b039{background-image:linear-gradient(90deg,#00f20d 0px 1px,#0000ff 1px 2px,#a60059 2px 3px,#48b700 3px 4px,#00738c 4px 5px,#2700d8 5px 6px,#c73800 6px 7px)}
.b03a{background-image:linear-gradient(90deg,#29ff2a 0px 1px,#2f32fb 1px 2px,#d23864 2px 3px,#7eb736 3px 4px,#36a392 4px 5px,#6138d7 5px 6px,#ea4530 6px 7px)}
.b11{background-image:linear-gradient(90deg,#fff0f0 0px 1px,#f5fbf1 1px 2px,#f3fbf6 2px 3px,#f0f0ff 3px 4px,#ffeded 4px 5px,#ecffec 5px 6px,#ededff 6px 7px)}
.b12{background-image:linear-gradient(90deg,#bc0c4f 0px 1px,#61aa0c 1px 2px,#0d8c80 2px 3px,#3c0ccf 3px 4px,#df2a0a 4px 5px,#04fd06 5px 6px,#0b0efc 6px 7px)}
.b13{background-image:linear-gradient(90deg,#a3005c 0px 1px,#44bb00 1px 2px,#006f90 2px 3px,#2300dc 3px 4px,#c43b00 4px 5px,#00ee11 5px 6px,#0000ff 6px 7px)}
.b14{background-image:linear-gradient(90deg,#970068 0px 1px,#3ac500 1px 2px,#00649b 2px 3px,#1800e7 3px 4px,#b94600 4px 5px,#00e31c 5px 6px,#0000ff 6px 7px)}
.b15{background-image:linear-gradient(90deg,#8f0070 0px 1px,#31ce00 1px 2px,#005ba4 2px 3px,#1000ef 3px 4px,#b14e00 4px 5px,#00db24 5px 6px,#0000ff 6px 7px)}
.b16{background-image:linear-gradient(90deg,#870078 0px 1px,#2ad500 1px 2px,#0054ab 2px 3px,#0800f7 3px 4px,#a95600 4px 5px,#00d32c 5px 6px,#0000ff 6px 7px)}
.b17{background-image:linear-gradient(90deg,#81007e 0px 1px,#23dc00 1px 2px,#004fb0 2px 3px,#0200fd 3px 4px,#a35c00 4px 5px,#00ce31 5px 6px,#0000ff 6px 7px)}
.b18{background-image:linear-gradient(90deg,#7c0083 0px 1px,#1ee100 1px 2px,#0048b7 2px 3px,#0000ff 3px 4px,#9a6104 4px 5px,#00c738 5px 6px,#0000ff 6px 7px)}
.b19{background-image:linear-gradient(90deg,#780087 0px 1px,#18e700 1px 2px,#0042bd 2px 3px,#0000ff 3px 4px,#8f6808 4px 5px,#00c13e 5px 6px,#0000ff 6px 7px)}
.b1a{background-image:linear-gradient(90deg,#70008f 0px 1px,#13ec00 1px 2px,#0040bf 2px 3px,#0000ff 3px 4px,#836d0f 4px 5px,#00bf40 5px 6px,#0000ff 6px 7px)}
.b1b{background-image:linear-gradient(90deg,#6e0091 0px 1px,#10ef00 1px 2px,#0038c7 2px 3px,#0000ff 3px 4px,#7e7012 4px 5px,#00b748 5px 6px,#0000ff 6px 7px)}
.b1c{background-image:linear-gradient(90deg,#680097 0px 1px,#08f700 1px 2px,#0036c9 2px 3px,#0000ff 3px 4px,#707718 4px 5px,#00b54a 5px 6px,#0000ff 6px 7px)}
.b1d{background-image:linear-gradient(90deg,#64009b 0px 1px,#08f700 1px 2px,#0030cf 2px 3px,#0000ff 3px 4px,#6c781b 4px 5px,#00af50 5px 6px,#0000ff 6px 7px)}
.b1e{background-image:linear-gradient(90deg,#60009f 0px 1px,#00ff00 1px 2px,#002dd2 2px 3px,#0000ff 3px 4px,#608020 4px 5px,#00ad52 5px 6px,#0000ff 6px 7px)}
.b1f{background-image:linear-gradient(90deg,#5b01a3 0px 1px,#00ff00 1px 2px,#0028d7 2px 3px,#0000ff 3px 4px,#5b8023 4px 5px,#00a758 5px 6px,#0000ff 6px 7px)}
.b1g{background-image:linear-gradient(90deg,#5008a7 0px 1px,#00ff00 1px 2px,#0025da 2px 3px,#0000ff 3px 4px,#508728 4px 5px,#00a55a 5px 6px,#0000ff 6px 7px)}
.b1h{background-image:linear-gradient(90deg,#4d08aa 0px 1px,#00ff00 1px 2px,#0020df 2px 3px,#0000ff 3px 4px,#4d872a 4px 5px,#009f60 5px 6px,#0000ff 6px 7px)}
.b1i{background-image:linear-gradient(90deg,#410faf 0px 1px,#00ff00 1px 2px,#001fe0 2px 3px,#0000ff 3px 4px,#418e30 4px 5px,#009f60 5px 6px,#0000ff 6px 7px)}
.b1j{background-image:linear-gradient(90deg,#4010b0 0px 1px,#00ff00 1px 2px,#0018e7 2px 3px,#0000ff 3px 4px,#408f30 4px 5px,#009768 5px 6px,#0000ff 6px 7px)}
.b1k{background-image:linear-gradient(90deg,#3414b7 0px 1px,#00ff00 1px 2px,#0018e7 2px 3px,#0000ff 3px 4px,#349438 4px 5px,#009768 5px 6px,#0000ff 6px 7px)}
.b1l{background-image:linear-gradient(90deg,#3018b7 0px 1px,#00ff00 1px 2px,#0012ed 2px 3px,#0000ff 3px 4px,#309738 4px 5px,#00916e 5px 6px,#0000ff 6px 7px)}
.b1m{background-image:linear-gradient(90deg,#2a19bd 0px 1px,#00ff00 1px 2px,#0010ef 2px 3px,#0000ff 3px 4px,#2a983d 4px 5px,#008f70 5px 6px,#0000ff 6px 7px)}
.b1n{background-image:linear-gradient(90deg,#2020bf 0px 1px,#00ff00 1px 2px,#000df2 2px 3px,#0000ff 3px 4px,#209f40 4px 5px,#008d72 5px 6px,#0000ff 6px 7px)}
.b1o{background-image:linear-gradient(90deg,#1e20c1 0px 1px,#00ff00 1px 2px,#0008f7 2px 3px,#0000ff 3px 4px,#1e9f41 4px 5px,#008778 5px 6px,#0000ff 6px 7px)}
.b1p{background-image:linear-gradient(90deg,#1324c7 0px 1px,#00ff00 1px 2px,#0008f7 2px 3px,#0000ff 3px 4px,#13a448 4px 5px,#008778 5px 6px,#0000ff 6px 7px)}
.b1q{background-image:linear-gradient(90deg,#1028c7 0px 1px,#00ff00 1px 2px,#0002fd 2px 3px,#0000ff 3px 4px,#10a748 4px 5px,#00817e 5px 6px,#0000ff 6px 7px)}
.b1r{background-image:linear-gradient(90deg,#0b28cc 0px 1px,#00ff00 1px 2px,#0000ff 2px 3px,#0000ff 3px 4px,#0ba74d 4px 5px,#008080 5px 6px,#0000ff 6px 7px)}
.b1s{background-image:linear-gradient(90deg,#002fcf 0px 1px,#00fe01 1px 2px,#0000ff 2px 3px,#0000ff 3px 4px,#00af50 4px 5px,#007f80 5px 6px,#0000ff 6px 7px)}
.b1t{background-image:linear-gradient(90deg,#0030cf 0px 1px,#00f708 1px 2px,#0000ff 2px 3px,#0000ff 3px 4px,#00af50 4px 5px,#007887 5px 6px,#0000ff 6px 7px)}
.b1u{background-image:linear-gradient(90deg,#002ad5 0px 1px,#00f708 1px 2px,#0000ff 2px 3px,#0000ff 3px 4px,#00a956 4px 5px,#007887 5px 6px,#0000ff 6px 7px)}
.b1v{background-image:linear-gradient(90deg,#0028d7 0px 1px,#00f40b 1px 2px,#0000ff 2px 3px,#0000ff 3px 4px,#00a758 4px 5px,#00758a 5px 6px,#0000ff 6px 7px)}
.b1w{background-image:linear-gradient(90deg,#0028d7 0px 1px,#00ef10 1px 2px,#0000ff 2px 3px,#0000ff 3px 4px,#00a758 4px 5px,#00708f 5px 6px,#0000ff 6px 7px)}
.b1x{background-image:linear-gradient(90deg,#0020df 0px 1px,#00ef10 1px 2px,#0000ff 2px 3px,#0000ff 3px 4px,#00a05f 4px 5px,#00708f 5px 6px,#0000ff 6px 7px)}
.b1y{background-image:linear-gradient(90deg,#0020df 0px 1px,#00eb14 1px 2px,#0000ff 2px 3px,#0004fb 3px 4px,#009f60 4px 5px,#006c93 5px 6px,#0004fb 6px 7px)}
.b1z{background-image:linear-gradient(90deg,#0020df 0px 1px,#00e718 1px 2px,#0000ff 2px 3px,#0008f7 3px 4px,#009f60 4px 5px,#006897 5px 6px,#0008f7 6px 7px)}
.b110{background-image:linear-gradient(90deg,#0018e7 0px 1px,#00e718 1px 2px,#0000ff 2px 3px,#0010ef 3px 4px,#009768 4px 5px,#006897 5px 6px,#0010ef 6px 7px)}
.b111{background-image:linear-gradient(90deg,#0018e7 0px 1px,#00e31c 1px 2px,#0000ff 2px 3px,#0014eb 3px 4px,#009768 4px 5px,#00639c 5px 6px,#0014eb 6px 7px)}
.b112{background-image:linear-gradient(90deg,#0018e7 0px 1px,#00df20 1px 2px,#0000ff 2px 3px,#0018e7 3px 4px,#009768 4px 5px,#00609f 5px 6px,#0018e7 6px 7px)}
.b113{background-image:linear-gradient(90deg,#0010ef 0px 1px,#00df20 1px 2px,#0000ff 2px 3px,#0020df 3px 4px,#008f70 4px 5px,#00609f 5px 6px,#0020df 6px 7px)}
.b114{background-image:linear-gradient(90deg,#0010ef 0px 1px,#00db24 1px 2px,#0000ff 2px 3px,#0024db 3px 4px,#008f70 4px 5px,#005ba4 5px 6px,#0024db 6px 7px)}
.b115{background-image:linear-gradient(90deg,#0010ef 0px 1px,#00d728 1px 2px,#0000ff 2px 3px,#0028d7 3px 4px,#008f70 4px 5px,#0058a7 5px 6px,#0028d7 6px 7px)}
.b116{background-image:linear-gradient(90deg,#0008f7 0px 1px,#00d728 1px 2px,#0000ff 2px 3px,#0030cf 3px 4px,#008877 4px 5px,#0058a7 5px 6px,#0030cf 6px 7px)}
.b117{background-image:linear-gradient(90deg,#0008f7 0px 1px,#00d42b 1px 2px,#0000ff 2px 3px,#0033cc 3px 4px,#008778 4px 5px,#0054ab 5px 6px,#0033cc 6px 7px)}
.b118{background-image:linear-gradient(90deg,#0008f7 0px 1px,#00cf30 1px 2px,#0000ff 2px 3px,#0038c7 3px 4px,#008778 4px 5px,#0050af 5px 6px,#0038c7 6px 7px)}
.b119{background-image:linear-gradient(90deg,#0001fe 0px 1px,#00cf30 1px 2px,#0000ff 2px 3px,#003fc0 3px 4px,#00807f 4px 5px,#0050af 5px 6px,#003fc0 6px 7px)}
.b11a{background-image:linear-gradient(90deg,#0000ff 0px 1px,#00ce31 1px 2px,#0000ff 2px 3px,#0041be 3px 4px,#008080 4px 5px,#004eb1 5px 6px,#0041be 6px 7px)}
.b11b{background-image:linear-gradient(90deg,#0000ff 0px 1px,#00c738 1px 2px,#0000ff 2px 3px,#0048b7 3px 4px,#008080 4px 5px,#0048b7 5px 6px,#0048b7 6px 7px)}
.b11c{background-image:linear-gradient(90deg,#0000ff 0px 1px,#00c13e 1px 2px,#0000ff 2px 3px,#004eb1 3px 4px,#007a85 4px 5px,#0048b7 5px 6px,#004eb1 6px 7px)}
.b11d{background-image:linear-gradient(90deg,#0000ff 0px 1px,#00bf40 1px 2px,#0000ff 2px 3px,#0050af 3px 4px,#007887 4px 5px,#0048b7 5px 6px,#0050af 6px 7px)}
.b11e{background-image:linear-gradient(90deg,#0000ff 0px 1px,#00b748 1px 2px,#0008f7 2px 3px,#0050af 3px 4px,#007887 4px 5px,#0040bf 5px 6px,#0057a8 6px 7px)}
.b11f{background-image:linear-gradient(90deg,#0000ff 0px 1px,#00b34c 1px 2px,#0008f7 2px 3px,#0054ab 3px 4px,#00738c 4px 5px,#0040bf 5px 6px,#005ca3 6px 7px)}
.b11g{background-image:linear-gradient(90deg,#0000ff 0px 1px,#00af50 1px 2px,#0008f7 2px 3px,#0058a7 3px 4px,#00708f 4px 5px,#0040bf 5px 6px,#00609f 6px 7px)}
.b11h{background-image:linear-gradient(90deg,#0000ff 0px 1px,#00a956 1px 2px,#000ef1 2px 3px,#0058a7 3px 4px,#00708f 4px 5px,#0039c6 5px 6px,#006699 6px 7px)}
.b11i{background-image:linear-gradient(90deg,#0000ff 0px 1px,#00a45b 1px 2px,#0010ef 2px 3px,#005ba4 3px 4px,#006d92 4px 5px,#0038c7 5px 6px,#006b94 6px 7px)}
.b11j{background-image:linear-gradient(90deg,#0000ff 0px 1px,#009f60 1px 2px,#0010ef 2px 3px,#00609f 3px 4px,#006897 4px 5px,#0038c7 5px 6px,#00708f 6px 7px)}
.b11k{background-image:linear-gradient(90deg,#0000ff 0px 1px,#009b64 1px 2px,#0014eb 2px 3px,#00609f 3px 4px,#006897 4px 5px,#0033cc 5px 6px,#00748b 6px 7px)}
.b11l{background-image:linear-gradient(90deg,#0000ff 0px 1px,#009669 1px 2px,#0018e7 2px 3px,#00619e 3px 4px,#006699 4px 5px,#0030cf 5px 6px,#007986 6px 7px)}
.b11m{background-image:linear-gradient(90deg,#0000ff 0px 1px,#008f70 1px 2px,#0018e7 2px 3px,#006897 3px 4px,#00609f 4px 5px,#0030cf 5px 6px,#008080 6px 7px)}
.b11n{background-image:linear-gradient(90deg,#0000ff 0px 1px,#008d72 1px 2px,#001be4 2px 3px,#006897 3px 4px,#00609f 4px 5px,#002dd2 5px 6px,#00827d 6px 7px)}
.b11o{background-image:linear-gradient(90deg,#0000ff 0px 1px,#008778 1px 2px,#0020df 2px 3px,#006897 3px 4px,#00609f 4px 5px,#0028d7 5px 6px,#008778 6px 7px)}
.b11p{background-image:linear-gradient(90deg,#0000ff 0px 1px,#00807f 1px 2px,#0020df 2px 3px,#006f90 3px 4px,#0058a7 4px 5px,#0028d7 5px 6px,#008f70 6px 7px)}
.b11q{background-image:linear-gradient(90deg,#0000ff 0px 1px,#007f80 1px 2px,#0021de 2px 3px,#00708f 3px 4px,#0058a7 4px 5px,#0027d8 5px 6px,#00906f 6px 7px)}
.b11r{background-image:linear-gradient(90deg,#0000ff 0px 1px,#007887 1px 2px,#0028d7 2px 3px,#00708f 3px 4px,#0058a7 4px 5px,#0020df 5px 6px,#009768 6px 7px)}
.b11s{background-image:linear-gradient(90deg,#0000ff 0px 1px,#00728d 1px 2px,#0028d7 2px 3px,#00758a 3px 4px,#0052ad 4px 5px,#0020df 5px 6px,#009d62 6px 7px)}
.b11t{background-image:linear-gradient(90deg,#0000ff 0px 1px,#00708f 1px 2px,#0028d7 2px 3px,#007887 3px 4px,#0050af 4px 5px,#0020df 5px 6px,#009f60 6px 7px)}
.b11u{background-image:linear-gradient(90deg,#0000ff 0px 1px,#006897 1px 2px,#002fd0 2px 3px,#007887 3px 4px,#0050af 4px 5px,#0019e6 5px 6px,#00a758 6px 7px)}
.b11v{background-image:linear-gradient(90deg,#0000ff 0px 1px,#00649b 1px 2px,#0030cf 2px 3px,#007b84 3px 4px,#004cb3 4px 5px,#0018e7 5px 6px,#00ab54 6px 7px)}
.b11w{background-image:linear-gradient(90deg,#0000ff 0px 1px,#00609f 1px 2px,#0030cf 2px 3px,#008080 3px 4px,#0048b7 4px 5px,#0018e7 5px 6px,#00af50 6px 7px)}
.b11x{background-image:linear-gradient(90deg,#0000ff 0px 1px,#005aa5 1px 2px,#0035ca 2px 3px,#008080 3px 4px,#0048b7 4px 5px,#0012ed 5px 6px,#00b54a 6px 7px)}
.b11y{background-image:linear-gradient(90deg,#0002fd 0px 1px,#0055aa 1px 2px,#0038c7 2px 3px,#00827d 3px 4px,#0045ba 4px 5px,#0010ef 5px 6px,#00b748 6px 7px)}
.b11z{background-image:linear-gradient(90deg,#0008f7 0px 1px,#0050af 1px 2px,#0038c7 2px 3px,#008778 3px 4px,#0040bf 4px 5px,#0010ef 5px 6px,#00b748 6px 7px)}
.b120{background-image:linear-gradient(90deg,#0008f7 0px 1px,#004bb4 1px 2px,#003cc3 2px 3px,#008778 3px 4px,#0040bf 4px 5px,#000cf3 5px 6px,#00bb44 6px 7px)}
.b121{background-image:linear-gradient(90deg,#0009f6 0px 1px,#0047b8 1px 2px,#0040bf 2px 3px,#008877 3px 4px,#003fc0 4px 5px,#0008f7 5px 6px,#00bf40 6px 7px)}
.b122{background-image:linear-gradient(90deg,#0010ef 0px 1px,#0040bf 1px 2px,#0040bf 2px 3px,#008f70 3px 4px,#0038c7 4px 5px,#0008f7 5px 6px,#00bf40 6px 7px)}
.b123{background-image:linear-gradient(90deg,#0010ef 0px 1px,#003dc2 1px 2px,#0042bd 2px 3px,#008f70 3px 4px,#0038c7 4px 5px,#0005fa 5px 6px,#00c23d 6px 7px)}
.b124{background-image:linear-gradient(90deg,#0010ef 0px 1px,#0038c7 1px 2px,#0048b7 2px 3px,#008f70 3px 4px,#0038c7 4px 5px,#0000ff 5px 6px,#00c738 6px 7px)}
.b125{background-image:linear-gradient(90deg,#0017e8 0px 1px,#0031ce 1px 2px,#0048b7 2px 3px,#009669 3px 4px,#0031ce 4px 5px,#0000ff 5px 6px,#00c738 6px 7px)}
.b126{background-image:linear-gradient(90deg,#0018e7 0px 1px,#002ed1 1px 2px,#004ab5 2px 3px,#009768 3px 4px,#002ed1 4px 5px,#0000ff 5px 6px,#00c936 6px 7px)}
.b127{background-image:linear-gradient(90deg,#0018e7 0px 1px,#0028d7 1px 2px,#0050af 2px 3px,#009768 3px 4px,#0028d7 4px 5px,#0000ff 5px 6px,#00cf30 6px 7px)}
.b128{background-image:linear-gradient(90deg,#001ee1 0px 1px,#0022dd 1px 2px,#0050af 2px 3px,#009d62 3px 4px,#0022dd 4px 5px,#0000ff 5px 6px,#00cf30 6px 7px)}
.b129{background-image:linear-gradient(90deg,#0020df 0px 1px,#001ee1 1px 2px,#0051ae 2px 3px,#009f60 3px 4px,#001ee1 4px 5px,#0000ff 5px 6px,#00d12e 6px 7px)}
.b12a{background-image:linear-gradient(90deg,#0020df 0px 1px,#0018e7 1px 2px,#0058a7 2px 3px,#009f60 3px 4px,#0018e7 4px 5px,#0000ff 5px 6px,#00d728 6px 7px)}
.b12b{background-image:linear-gradient(90deg,#0026d9 0px 1px,#0012ed 1px 2px,#0058a7 2px 3px,#00a55a 3px 4px,#0012ed 4px 5px,#0000ff 5px 6px,#00d728 6px 7px)}
.b12c{background-image:linear-gradient(90deg,#0028d7 0px 1px,#000ef1 1px 2px,#005aa5 2px 3px,#00a758 3px 4px,#000ef1 4px 5px,#0000ff 5px 6px,#00d926 6px 7px)}
.b12d{background-image:linear-gradient(90deg,#0028d7 0px 1px,#0008f7 1px 2px,#00609f 2px 3px,#00a758 3px 4px,#0008f7 4px 5px,#0000ff 5px 6px,#00df20 6px 7px)}
.b12e{background-image:linear-gradient(90deg,#002ed1 0px 1px,#0002fd 1px 2px,#00609f 2px 3px,#00ae51 3px 4px,#0002fd 4px 5px,#0000ff 5px 6px,#00df20 6px 7px)}
.b12f{background-image:linear-gradient(90deg,#0030cf 0px 1px,#0000ff 1px 2px,#00629d 2px 3px,#00af50 3px 4px,#0000ff 4px 5px,#0000ff 5px 6px,#00e21d 6px 7px)}
.b12g{background-image:linear-gradient(90deg,#0030cf 0px 1px,#0000ff 1px 2px,#006897 2px 3px,#00af50 3px 4px,#0000ff 4px 5px,#0000ff 5px 6px,#00e718 6px 7px)}
.b12h{background-image:linear-gradient(90deg,#0037c8 0px 1px,#0000ff 1px 2px,#006897 2px 3px,#00b748 3px 4px,#0000ff 4px 5px,#0000ff 5px 6px,#00e718 6px 7px)}
.b12i{background-image:linear-gradient(90deg,#0038c7 0px 1px,#0000ff 1px 2px,#006c93 2px 3px,#00b748 3px 4px,#0000ff 4px 5px,#0000ff 5px 6px,#00eb14 6px 7px)}
.b12j{background-image:linear-gradient(90deg,#0039c6 0px 1px,#0000ff 1px 2px,#00708f 2px 3px,#00b946 3px 4px,#0000ff 4px 5px,#0000ff 5px 6px,#00ef10 6px 7px)}
.b12k{background-image:linear-gradient(90deg,#0040bf 0px 1px,#0000ff 1px 2px,#036d8f 2px 3px,#00bf40 3px 4px,#0000ff 4px 5px,#0000ff 5px 6px,#03ec10 6px 7px)}
.b12l{background-image:linear-gradient(90deg,#0040bf 0px 1px,#0000ff 1px 2px,#0d688a 2px 3px,#00bf40 3px 4px,#0000ff 4px 5px,#0000ff 5px 6px,#0de70b 6px 7px)}
.b12m{background-image:linear-gradient(90deg,#0044bb 0px 1px,#0000ff 1px 2px,#106887 2px 3px,#00c33c 3px 4px,#0000ff 4px 5px,#0000ff 5px 6px,#10e708 6px 7px)}
.b12n{background-image:linear-gradient(90deg,#0048b7 0px 1px,#0000ff 1px 2px,#166287 2px 3px,#00c738 3px 4px,#0000ff 4px 5px,#0000ff 5px 6px,#16e207 6px 7px)}
.b12o{background-image:linear-gradient(90deg,#0048b7 0px 1px,#0000ff 1px 2px,#206080 2px 3px,#00c738 3px 4px,#0000ff 4px 5px,#0000ff 5px 6px,#20df00 6px 7px)}
.b12p{background-image:linear-gradient(90deg,#004fb0 0px 1px,#0000ff 1px 2px,#215e80 2px 3px,#00cf30 3px 4px,#0000ff 4px 5px,#0000ff 5px 6px,#21de00 6px 7px)}
.b12q{background-image:linear-gradient(90deg,#0050af 0px 1px,#0000ff 1px 2px,#2c587b 2px 3px,#00cf30 3px 4px,#0000ff 4px 5px,#0400fb 5px 6px,#28d700 6px 7px)}
.b12r{background-image:linear-gradient(90deg,#0054ab 0px 1px,#0000ff 1px 2px,#305878 2px 3px,#00d32c 3px 4px,#0000ff 4px 5px,#0800f7 5px 6px,#28d700 6px 7px)}
.b12s{background-image:linear-gradient(90deg,#0058a7 0px 1px,#0000ff 1px 2px,#375276 2px 3px,#00d728 3px 4px,#0000ff 4px 5px,#0900f6 5px 6px,#2ed100 6px 7px)}
.b12t{background-image:linear-gradient(90deg,#0059a6 0px 1px,#0000ff 1px 2px,#405070 2px 3px,#00d926 3px 4px,#0000ff 4px 5px,#1000ef 5px 6px,#30cf00 6px 7px)}
.b12u{background-image:linear-gradient(90deg,#00609f 0px 1px,#0000ff 1px 2px,#434c70 2px 3px,#00df20 3px 4px,#0000ff 4px 5px,#1000ef 5px 6px,#33cc00 6px 7px)}
.b12v{background-image:linear-gradient(90deg,#00609f 0px 1px,#0000ff 1px 2px,#4f4868 2px 3px,#00df20 3px 4px,#0000ff 4px 5px,#1700e8 5px 6px,#38c700 6px 7px)}
.b12w{background-image:linear-gradient(90deg,#006798 0px 1px,#0000ff 1px 2px,#514668 2px 3px,#00e718 3px 4px,#0000ff 4px 5px,#1800e7 5px 6px,#39c600 6px 7px)}
.b12x{background-image:linear-gradient(90deg,#006897 0px 1px,#0000ff 1px 2px,#5e4061 2px 3px,#00e718 3px 4px,#0000ff 4px 5px,#1f00e0 5px 6px,#40bf00 6px 7px)}
.b12y{background-image:linear-gradient(90deg,#006f90 0px 1px,#0000ff 1px 2px,#613e60 2px 3px,#00ef10 3px 4px,#0000ff 4px 5px,#2000df 5px 6px,#41be00 6px 7px)}
.b12z{background-image:linear-gradient(90deg,#00708f 0px 1px,#0000ff 1px 2px,#6e3859 2px 3px,#00ef10 3px 4px,#0000ff 4px 5px,#2700d8 5px 6px,#48b700 6px 7px)}
.b130{background-image:linear-gradient(90deg,#007788 0px 1px,#0000ff 1px 2px,#723558 2px 3px,#00f708 3px 4px,#0000ff 4px 5px,#2800d7 5px 6px,#4ab500 6px 7px)}
.b131{background-image:linear-gradient(90deg,#007986 0px 1px,#0000ff 1px 2px,#803050 2px 3px,#00f906 3px 4px,#0000ff 4px 5px,#3000cf 5px 6px,#50af00 6px 7px)}
.b132{background-image:linear-gradient(90deg,#008080 0px 1px,#0000ff 1px 2px,#872b4d 2px 3px,#00ff00 3px 4px,#0000ff 4px 5px,#3300cc 5px 6px,#55aa00 6px 7px)}
.b133{background-image:linear-gradient(90deg,#00837c 0px 1px,#0000ff 1px 2px,#902748 2px 3px,#00ff00 3px 4px,#0004fb 4px 5px,#3800c7 5px 6px,#58a700 6px 7px)}
.b134{background-image:linear-gradient(90deg,#008877 0px 1px,#0000ff 1px 2px,#9e2041 2px 3px,#00ff00 3px 4px,#0009f6 4px 5px,#3e00c1 5px 6px,#609f00 6px 7px)}
.b135{background-image:linear-gradient(90deg,#008f70 0px 1px,#0000ff 1px 2px,#a91a3c 2px 3px,#00ff00 3px 4px,#0010ef 4px 5px,#4400bb 5px 6px,#659a00 6px 7px)}
.b136{background-image:linear-gradient(90deg,#009669 0px 1px,#0000ff 1px 2px,#b51436 2px 3px,#00ff00 3px 4px,#0016e9 4px 5px,#4a00b5 5px 6px,#6b9400 6px 7px)}
.b137{background-image:linear-gradient(90deg,#009d62 0px 1px,#0000ff 1px 2px,#c40d2e 2px 3px,#00ff00 3px 4px,#001ee1 4px 5px,#5100ae 5px 6px,#738c00 6px 7px)}
.b138{background-image:linear-gradient(90deg,#00a55a 0px 1px,#0000ff 1px 2px,#d60426 2px 3px,#00ff00 3px 4px,#0026d9 4px 5px,#5a00a5 5px 6px,#7c8300 6px 7px)}
.b139{background-image:linear-gradient(90deg,#00b34c 0px 1px,#0000ff 1px 2px,#e60019 2px 3px,#08f700 3px 4px,#0033cc 4px 5px,#660099 5px 6px,#887700 6px 7px)}
.b13a{background-image:linear-gradient(90deg,#3dde5d 0px 1px,#3333ff 1px 2px,#fb3338 2px 3px,#4ced3a 3px 4px,#4073cc 4px 5px,#9a3ea3 5px 6px,#bc813e 6px 7px)}
.b21{background-image:linear-gradient(90deg,#fff2f2 0px 1px,#f2fff2 1px 2px,#f5f5ff 2px 3px,#fcf7fa 3px 4px,#fef7f6 4px 5px,#f4fff4 5px 6px,#f2f2ff 6px 7px)}
.b22{background-image:linear-gradient(90deg,#f6060f 0px 1px,#20eb0c 1px 2px,#0c49c2 2px 3px,#800e8e 3px 4px,#9f6c0d 4px 5px,#0cc843 5px 6px,#0909ff 6px 7px)}
.b23{background-image:linear-gradient(90deg,#e2001d 0px 1px,#04fb00 1px 2px,#002fd0 2px 3px,#63009c 3px 4px,#847b00 4px 5px,#00af50 5px 6px,#0000ff 6px 7px)}
.b24{background-image:linear-gradient(90deg,#d10628 0px 1px,#00ff00 1px 2px,#0024db 2px 3px,#5800a7 3px 4px,#798600 4px 5px,#00a45b 5px 6px,#0000ff 6px 7px)}
.b25{background-image:linear-gradient(90deg,#c00f30 0px 1px,#00ff00 1px 2px,#001ce3 2px 3px,#4f00b0 3px 4px,#718e00 4px 5px,#009b64 5px 6px,#0000ff 6px 7px)}
.b26{background-image:linear-gradient(90deg,#b11638 0px 1px,#00ff00 1px 2px,#0015ea 2px 3px,#4800b7 3px 4px,#699600 4px 5px,#00946b 5px 6px,#0000ff 6px 7px)}
.b27{background-image:linear-gradient(90deg,#a51c3e 0px 1px,#00ff00 1px 2px,#000ff0 2px 3px,#4100be 3px 4px,#639c00 4px 5px,#008e71 5px 6px,#0000ff 6px 7px)}
.b28{background-image:linear-gradient(90deg,#9a2144 0px 1px,#00ff00 1px 2px,#0008f7 2px 3px,#3c00c3 3px 4px,#5ea100 4px 5px,#008778 5px 6px,#0000ff 6px 7px)}
.b29{background-image:linear-gradient(90deg,#8f2848 0px 1px,#00ff00 1px 2px,#0002fd 2px 3px,#3800c7 3px 4px,#58a700 4px 5px,#00827d 5px 6px,#0000ff 6px 7px)}
.b2a{background-image:linear-gradient(90deg,#832d4f 0px 1px,#00fe01 1px 2px,#0000ff 2px 3px,#3000cf 3px 4px,#53ac00 4px 5px,#007f80 5px 6px,#0000ff 6px 7px)}
.b2b{background-image:linear-gradient(90deg,#7d3052 0px 1px,#00f708 1px 2px,#0000ff 2px 3px,#2d00d2 3px 4px,#50af00 4px 5px,#007887 5px 6px,#0000ff 6px 7px)}
.b2c{background-image:linear-gradient(90deg,#703758 0px 1px,#00f50a 1px 2px,#0000ff 2px 3px,#2800d7 3px 4px,#48b700 4px 5px,#00758a 5px 6px,#0000ff 6px 7px)}
.b2d{background-image:linear-gradient(90deg,#6c385b 0px 1px,#00ef10 1px 2px,#0000ff 2px 3px,#2400db 3px 4px,#48b700 4px 5px,#00708f 5px 6px,#0000ff 6px 7px)}
.b2e{background-image:linear-gradient(90deg,#604060 0px 1px,#00ec13 1px 2px,#0000ff 2px 3px,#2000df 3px 4px,#40bf00 4px 5px,#006c93 5px 6px,#0000ff 6px 7px)}
.b2f{background-image:linear-gradient(90deg,#5b4064 0px 1px,#00e718 1px 2px,#0000ff 2px 3px,#1c00e3 3px 4px,#40bf00 4px 5px,#006897 5px 6px,#0000ff 6px 7px)}
.b2g{background-image:linear-gradient(90deg,#504868 0px 1px,#00e41b 1px 2px,#0000ff 2px 3px,#1800e7 3px 4px,#38c700 4px 5px,#00659a 5px 6px,#0000ff 6px 7px)}
.b2h{background-image:linear-gradient(90deg,#4d486a 0px 1px,#00df20 1px 2px,#0000ff 2px 3px,#1600e9 3px 4px,#38c700 4px 5px,#00609f 5px 6px,#0000ff 6px 7px)}
.b2i{background-image:linear-gradient(90deg,#414f70 0px 1px,#00de21 1px 2px,#0000ff 2px 3px,#1000ef 3px 4px,#31ce00 4px 5px,#005ea1 5px 6px,#0000ff 6px 7px)}
.b2j{background-image:linear-gradient(90deg,#405070 0px 1px,#00d728 1px 2px,#0000ff 2px 3px,#1000ef 3px 4px,#30cf00 4px 5px,#0058a7 5px 6px,#0000ff 6px 7px)}
.b2k{background-image:linear-gradient(90deg,#335478 0px 1px,#00d728 1px 2px,#0000ff 2px 3px,#0800f7 3px 4px,#2bd400 4px 5px,#0058a7 5px 6px,#0000ff 6px 7px)}
.b2l{background-image:linear-gradient(90deg,#305878 0px 1px,#00d12e 1px 2px,#0000ff 2px 3px,#0800f7 3px 4px,#28d700 4px 5px,#0052ad 5px 6px,#0000ff 6px 7px)}
.b2m{background-image:linear-gradient(90deg,#2a597c 0px 1px,#00cf30 1px 2px,#0000ff 2px 3px,#0300fc 3px 4px,#26d900 4px 5px,#0050af 5px 6px,#0000ff 6px 7px)}
.b2n{background-image:linear-gradient(90deg,#206080 0px 1px,#00cd32 1px 2px,#0000ff 2px 3px,#0000ff 3px 4px,#20df00 4px 5px,#004db2 5px 6px,#0000ff 6px 7px)}
.b2o{background-image:linear-gradient(90deg,#1f6080 0px 1px,#00c738 1px 2px,#0000ff 2px 3px,#0000ff 3px 4px,#1fdf01 4px 5px,#0048b7 5px 6px,#0000ff 6px 7px)}
.b2p{background-image:linear-gradient(90deg,#136587 0px 1px,#00c738 1px 2px,#0000ff 2px 3px,#0000ff 3px 4px,#13e408 4px 5px,#0048b7 5px 6px,#0000ff 6px 7px)}
.b2q{background-image:linear-gradient(90deg,#106887 0px 1px,#00c23d 1px 2px,#0000ff 2px 3px,#0000ff 3px 4px,#10e708 4px 5px,#0042bd 5px 6px,#0000ff 6px 7px)}
.b2r{background-image:linear-gradient(90deg,#0c688b 0px 1px,#00bf40 1px 2px,#0000ff 2px 3px,#0000ff 3px 4px,#0ce80c 4px 5px,#0040bf 5px 6px,#0000ff 6px 7px)}
.b2s{background-image:linear-gradient(90deg,#00708f 0px 1px,#00bf40 1px 2px,#0000ff 2px 3px,#0000ff 3px 4px,#00ef10 4px 5px,#003fc0 5px 6px,#0000ff 6px 7px)}
.b2t{background-image:linear-gradient(90deg,#00708f 0px 1px,#00b748 1px 2px,#0000ff 2px 3px,#0000ff 3px 4px,#00ef10 4px 5px,#0038c7 5px 6px,#0000ff 6px 7px)}
.b2u{background-image:linear-gradient(90deg,#006996 0px 1px,#00b748 1px 2px,#0000ff 2px 3px,#0000ff 3px 4px,#00e916 4px 5px,#0038c7 5px 6px,#0000ff 6px 7px)}
.b2v{background-image:linear-gradient(90deg,#006897 0px 1px,#00b54a 1px 2px,#0000ff 2px 3px,#0000ff 3px 4px,#00e718 4px 5px,#0036c9 5px 6px,#0000ff 6px 7px)}
.b2w{background-image:linear-gradient(90deg,#006897 0px 1px,#00af50 1px 2px,#0000ff 2px 3px,#0000ff 3px 4px,#00e718 4px 5px,#0030cf 5px 6px,#0000ff 6px 7px)}
.b2x{background-image:linear-gradient(90deg,#00609f 0px 1px,#00af50 1px 2px,#0000ff 2px 3px,#0000ff 3px 4px,#00df20 4px 5px,#0030cf 5px 6px,#0000ff 6px 7px)}
.b2y{background-image:linear-gradient(90deg,#00609f 0px 1px,#00ac53 1px 2px,#0003fc 2px 3px,#0000ff 3px 4px,#00df20 4px 5px,#002dd2 5px 6px,#0003fc 6px 7px)}
.b2z{background-image:linear-gradient(90deg,#005fa0 0px 1px,#00a758 1px 2px,#0008f7 2px 3px,#0000ff 3px 4px,#00de21 4px 5px,#0028d7 5px 6px,#0008f7 6px 7px)}
.b210{background-image:linear-gradient(90deg,#0058a7 0px 1px,#00a758 1px 2px,#0010ef 2px 3px,#0000ff 3px 4px,#00d728 4px 5px,#0028d7 5px 6px,#0010ef 6px 7px)}
.b211{background-image:linear-gradient(90deg,#0058a7 0px 1px,#00a45b 1px 2px,#0013ec 2px 3px,#0000ff 3px 4px,#00d728 4px 5px,#0024db 5px 6px,#0013ec 6px 7px)}
.b212{background-image:linear-gradient(90deg,#0057a8 0px 1px,#009f60 1px 2px,#0019e6 2px 3px,#0000ff 3px 4px,#00d629 4px 5px,#0020df 5px 6px,#0019e6 6px 7px)}
.b213{background-image:linear-gradient(90deg,#0050af 0px 1px,#009f60 1px 2px,#0020df 2px 3px,#0000ff 3px 4px,#00cf30 4px 5px,#0020df 5px 6px,#0020df 6px 7px)}
.b214{background-image:linear-gradient(90deg,#0050af 0px 1px,#009c63 1px 2px,#0024db 2px 3px,#0000ff 3px 4px,#00cf30 4px 5px,#001ce3 5px 6px,#0024db 6px 7px)}
.b215{background-image:linear-gradient(90deg,#004fb0 0px 1px,#009768 1px 2px,#0028d7 2px 3px,#0000ff 3px 4px,#00ce31 4px 5px,#0018e7 5px 6px,#0028d7 6px 7px)}
.b216{background-image:linear-gradient(90deg,#0048b7 0px 1px,#009768 1px 2px,#0030cf 2px 3px,#0000ff 3px 4px,#00c738 4px 5px,#0018e7 5px 6px,#0030cf 6px 7px)}
.b217{background-image:linear-gradient(90deg,#0048b7 0px 1px,#00946b 1px 2px,#0033cc 2px 3px,#0000ff 3px 4px,#00c738 4px 5px,#0015ea 5px 6px,#0033cc 6px 7px)}
.b218{background-image:linear-gradient(90deg,#0048b7 0px 1px,#008f70 1px 2px,#0038c7 2px 3px,#0000ff 3px 4px,#00c738 4px 5px,#0010ef 5px 6px,#0038c7 6px 7px)}
.b219{background-image:linear-gradient(90deg,#0040bf 0px 1px,#008f70 1px 2px,#0038c7 2px 3px,#0008f7 3px 4px,#00bf40 4px 5px,#0010ef 5px 6px,#0040bf 6px 7px)}
.b21a{background-image:linear-gradient(90deg,#0040bf 0px 1px,#008d72 1px 2px,#003ac5 2px 3px,#0008f7 3px 4px,#00bf40 4px 5px,#000ef1 5px 6px,#0042bd 6px 7px)}
.b21b{background-image:linear-gradient(90deg,#0040bf 0px 1px,#008778 1px 2px,#0040bf 2px 3px,#0008f7 3px 4px,#00bf40 4px 5px,#0008f7 5px 6px,#0048b7 6px 7px)}
.b21c{background-image:linear-gradient(90deg,#0039c6 0px 1px,#008778 1px 2px,#0040bf 2px 3px,#000ff0 3px 4px,#00b946 4px 5px,#0008f7 5px 6px,#004eb1 6px 7px)}
.b21d{background-image:linear-gradient(90deg,#0038c7 0px 1px,#008679 1px 2px,#0040bf 2px 3px,#0010ef 3px 4px,#00b748 4px 5px,#0007f8 5px 6px,#0050af 6px 7px)}
.b21e{background-image:linear-gradient(90deg,#0038c7 0px 1px,#008080 1px 2px,#0048b7 2px 3px,#0010ef 3px 4px,#00b748 4px 5px,#0000ff 5px 6px,#0058a7 6px 7px)}
.b21f{background-image:linear-gradient(90deg,#0033cc 0px 1px,#008080 1px 2px,#0048b7 2px 3px,#0015ea 3px 4px,#00b24d 4px 5px,#0000ff 5px 6px,#005da2 6px 7px)}
.b21g{background-image:linear-gradient(90deg,#0030cf 0px 1px,#008080 1px 2px,#0048b7 2px 3px,#0018e7 3px 4px,#00af50 4px 5px,#0000ff 5px 6px,#00609f 6px 7px)}
.b21h{background-image:linear-gradient(90deg,#0030cf 0px 1px,#007887 1px 2px,#004fb0 2px 3px,#0018e7 3px 4px,#00a857 4px 5px,#0000ff 5px 6px,#006798 6px 7px)}
.b21i{background-image:linear-gradient(90deg,#002dd2 0px 1px,#007887 1px 2px,#0050af 2px 3px,#001be4 3px 4px,#00a55a 4px 5px,#0000ff 5px 6px,#006a95 6px 7px)}
.b21j{background-image:linear-gradient(90deg,#0028d7 0px 1px,#007887 1px 2px,#0050af 2px 3px,#0020df 3px 4px,#009f60 4px 5px,#0000ff 5px 6px,#00708f 6px 7px)}
.b21k{background-image:linear-gradient(90deg,#0028d7 0px 1px,#00728d 1px 2px,#0055aa 2px 3px,#0020df 3px 4px,#009a65 4px 5px,#0000ff 5px 6px,#00758a 6px 7px)}
.b21l{background-image:linear-gradient(90deg,#0028d7 0px 1px,#00708f 1px 2px,#0058a7 2px 3px,#0020df 3px 4px,#009768 4px 5px,#0000ff 5px 6px,#007887 6px 7px)}
.b21m{background-image:linear-gradient(90deg,#0020df 0px 1px,#00708f 1px 2px,#0058a7 2px 3px,#0028d7 3px 4px,#008f70 4px 5px,#0000ff 5px 6px,#008080 6px 7px)}
.b21n{background-image:linear-gradient(90deg,#0020df 0px 1px,#006c93 1px 2px,#005ba4 2px 3px,#0028d7 3px 4px,#008c73 4px 5px,#0000ff 5px 6px,#00837c 6px 7px)}
.b21o{background-image:linear-gradient(90deg,#0020df 0px 1px,#006897 1px 2px,#00609f 2px 3px,#0028d7 3px 4px,#008778 4px 5px,#0000ff 5px 6px,#008778 6px 7px)}
.b21p{background-image:linear-gradient(90deg,#001ae5 0px 1px,#006897 1px 2px,#00609f 2px 3px,#002ed1 3px 4px,#00817e 4px 5px,#0000ff 5px 6px,#008e71 6px 7px)}
.b21q{background-image:linear-gradient(90deg,#0018e7 0px 1px,#006699 1px 2px,#00619e 2px 3px,#0030cf 3px 4px,#007e81 4px 5px,#0000ff 5px 6px,#00916e 6px 7px)}
.b21r{background-image:linear-gradient(90deg,#0018e7 0px 1px,#00609f 1px 2px,#006897 2px 3px,#0030cf 3px 4px,#007887 4px 5px,#0000ff 5px 6px,#009768 6px 7px)}
.b21s{background-image:linear-gradient(90deg,#0013ec 0px 1px,#00609f 1px 2px,#006897 2px 3px,#0034cb 3px 4px,#00738c 4px 5px,#0000ff 5px 6px,#009c63 6px 7px)}
.b21t{background-image:linear-gradient(90deg,#0010ef 0px 1px,#00609f 1px 2px,#006897 2px 3px,#0038c7 3px 4px,#00708f 4px 5px,#0000ff 5px 6px,#009f60 6px 7px)}
.b21u{background-image:linear-gradient(90deg,#0010ef 0px 1px,#0058a7 1px 2px,#006f90 2px 3px,#0038c7 3px 4px,#006897 4px 5px,#0000ff 5px 6px,#00a758 6px 7px)}
.b21v{background-image:linear-gradient(90deg,#000df2 0px 1px,#0058a7 1px 2px,#00708f 2px 3px,#003bc4 3px 4px,#00659a 4px 5px,#0000ff 5px 6px,#00aa55 6px 7px)}
.b21w{background-image:linear-gradient(90deg,#0008f7 0px 1px,#0058a7 1px 2px,#00708f 2px 3px,#0040bf 3px 4px,#00609f 4px 5px,#0000ff 5px 6px,#00af50 6px 7px)}
.b21x{background-image:linear-gradient(90deg,#0008f7 0px 1px,#0053ac 1px 2px,#00748b 2px 3px,#0040bf 3px 4px,#005ba4 4px 5px,#0000ff 5px 6px,#00b44b 6px 7px)}
.b21y{background-image:linear-gradient(90deg,#0007f8 0px 1px,#0050af 1px 2px,#007887 2px 3px,#0041be 3px 4px,#0056a9 4px 5px,#0000ff 5px 6px,#00b946 6px 7px)}
.b21z{background-image:linear-gradient(90deg,#0000ff 0px 1px,#0050af 1px 2px,#007887 2px 3px,#0048b7 3px 4px,#0050af 4px 5px,#0000ff 5px 6px,#00bf40 6px 7px)}
.b220{background-image:linear-gradient(90deg,#0000ff 0px 1px,#004cb3 1px 2px,#007b84 2px 3px,#0048b7 3px 4px,#004cb3 4px 5px,#0000ff 5px 6px,#00c23d 6px 7px)}
.b221{background-image:linear-gradient(90deg,#0000ff 0px 1px,#0048b7 1px 2px,#008080 2px 3px,#0048b7 3px 4px,#0048b7 4px 5px,#0000ff 5px 6px,#00c738 6px 7px)}
.b222{background-image:linear-gradient(90deg,#0000ff 0px 1px,#0040bf 1px 2px,#008080 2px 3px,#0050af 3px 4px,#0040bf 4px 5px,#0000ff 5px 6px,#00cf30 6px 7px)}
.b223{background-image:linear-gradient(90deg,#0000ff 0px 1px,#003ec1 1px 2px,#00827d 2px 3px,#0050af 3px 4px,#003ec1 4px 5px,#0002fd 5px 6px,#00cf30 6px 7px)}
.b224{background-image:linear-gradient(90deg,#0000ff 0px 1px,#0038c7 1px 2px,#008778 2px 3px,#0050af 3px 4px,#0038c7 4px 5px,#0008f7 5px 6px,#00cf30 6px 7px)}
.b225{background-image:linear-gradient(90deg,#0000ff 0px 1px,#0031ce 1px 2px,#008778 2px 3px,#0057a8 3px 4px,#0031ce 4px 5px,#0008f7 5px 6px,#00d629 6px 7px)}
.b226{background-image:linear-gradient(90deg,#0000ff 0px 1px,#002ed1 1px 2px,#008976 2px 3px,#0058a7 3px 4px,#002ed1 4px 5px,#0009f6 5px 6px,#00d728 6px 7px)}
.b227{background-image:linear-gradient(90deg,#0000ff 0px 1px,#0028d7 1px 2px,#008f70 2px 3px,#0058a7 3px 4px,#0028d7 4px 5px,#0010ef 5px 6px,#00d728 6px 7px)}
.b228{background-image:linear-gradient(90deg,#0000ff 0px 1px,#0021de 1px 2px,#008f70 2px 3px,#005ea1 3px 4px,#0021de 4px 5px,#0010ef 5px 6px,#00dd22 6px 7px)}
.b229{background-image:linear-gradient(90deg,#0000ff 0px 1px,#001fe0 1px 2px,#00916e 2px 3px,#00609f 3px 4px,#001fe0 4px 5px,#0011ee 5px 6px,#00df20 6px 7px)}
.b22a{background-image:linear-gradient(90deg,#0000ff 0px 1px,#0018e7 1px 2px,#009768 2px 3px,#00609f 3px 4px,#0018e7 4px 5px,#0018e7 5px 6px,#00df20 6px 7px)}
.b22b{background-image:linear-gradient(90deg,#0000ff 0px 1px,#0011ee 1px 2px,#009768 2px 3px,#006699 3px 4px,#0011ee 4px 5px,#0018e7 5px 6px,#00e51a 6px 7px)}
.b22c{background-image:linear-gradient(90deg,#0000ff 0px 1px,#000ef1 1px 2px,#009966 2px 3px,#006897 3px 4px,#000ef1 4px 5px,#0019e6 5px 6px,#00e718 6px 7px)}
.b22d{background-image:linear-gradient(90deg,#0000ff 0px 1px,#0008f7 1px 2px,#009f60 2px 3px,#006897 3px 4px,#0008f7 4px 5px,#0020df 5px 6px,#00e718 6px 7px)}
.b22e{background-image:linear-gradient(90deg,#0000ff 0px 1px,#0001fe 1px 2px,#009f60 2px 3px,#006e91 3px 4px,#0001fe 4px 5px,#0020df 5px 6px,#00ee11 6px 7px)}
.b22f{background-image:linear-gradient(90deg,#0000ff 0px 1px,#0000ff 1px 2px,#00a25d 2px 3px,#00708f 3px 4px,#0000ff 4px 5px,#0022dd 5px 6px,#00ef10 6px 7px)}
.b22g{background-image:linear-gradient(90deg,#0000ff 0px 1px,#0000ff 1px 2px,#00a758 2px 3px,#00708f 3px 4px,#0000ff 4px 5px,#0028d7 5px 6px,#00ef10 6px 7px)}
.b22h{background-image:linear-gradient(90deg,#0000ff 0px 1px,#0000ff 1px 2px,#00a758 2px 3px,#007887 3px 4px,#0000ff 4px 5px,#0028d7 5px 6px,#00f708 6px 7px)}
.b22i{background-image:linear-gradient(90deg,#0000ff 0px 1px,#0000ff 1px 2px,#00ab54 2px 3px,#007887 3px 4px,#0000ff 4px 5px,#002cd3 5px 6px,#00f708 6px 7px)}
.b22j{background-image:linear-gradient(90deg,#0000ff 0px 1px,#0000ff 1px 2px,#00af50 2px 3px,#007986 3px 4px,#0000ff 4px 5px,#0030cf 5px 6px,#00f906 6px 7px)}
.b22k{background-image:linear-gradient(90deg,#0000ff 0px 1px,#0000ff 1px 2px,#02ae50 2px 3px,#008080 3px 4px,#0000ff 4px 5px,#022ecf 5px 6px,#00ff00 6px 7px)}
.b22l{background-image:linear-gradient(90deg,#0000ff 0px 1px,#0000ff 1px 2px,#0ea749 2px 3px,#008080 3px 4px,#0000ff 4px 5px,#0e28c9 5px 6px,#00ff00 6px 7px)}
.b22m{background-image:linear-gradient(90deg,#0005fa 0px 1px,#0000ff 1px 2px,#10a748 2px 3px,#00847b 3px 4px,#0000ff 4px 5px,#1028c7 5px 6px,#00ff00 6px 7px)}
.b22n{background-image:linear-gradient(90deg,#0008f7 0px 1px,#0000ff 1px 2px,#16a246 2px 3px,#008778 3px 4px,#0000ff 4px 5px,#1623c6 5px 6px,#00ff00 6px 7px)}
.b22o{background-image:linear-gradient(90deg,#0008f7 0px 1px,#0000ff 1px 2px,#209f40 2px 3px,#008778 3px 4px,#0000ff 4px 5px,#2020bf 5px 6px,#00ff00 6px 7px)}
.b22p{background-image:linear-gradient(90deg,#0010ef 0px 1px,#0000ff 1px 2px,#219f40 2px 3px,#008f70 3px 4px,#0000ff 4px 5px,#211fbf 5px 6px,#00ff00 6px 7px)}
.b22q{background-image:linear-gradient(90deg,#0010ef 0px 1px,#0000ff 1px 2px,#2d973b 2px 3px,#008f70 3px 4px,#0000ff 4px 5px,#2d18ba 5px 6px,#00ff00 6px 7px)}
.b22r{background-image:linear-gradient(90deg,#0014eb 0px 1px,#0000ff 1px 2px,#309738 2px 3px,#00936c 3px 4px,#0000ff 4px 5px,#3018b7 5px 6px,#00ff00 6px 7px)}
.b22s{background-image:linear-gradient(90deg,#0018e7 0px 1px,#0000ff 1px 2px,#379236 2px 3px,#009768 3px 4px,#0000ff 4px 5px,#3712b5 5px 6px,#00ff00 6px 7px)}
.b22t{background-image:linear-gradient(90deg,#0018e7 0px 1px,#0000ff 1px 2px,#408f30 2px 3px,#009867 3px 4px,#0000ff 4px 5px,#4010af 5px 6px,#00ff00 6px 7px)}
.b22u{background-image:linear-gradient(90deg,#0020df 0px 1px,#0000ff 1px 2px,#438c30 2px 3px,#009f60 3px 4px,#0000ff 4px 5px,#430daf 5px 6px,#00ff00 6px 7px)}
.b22v{background-image:linear-gradient(90deg,#0020df 0px 1px,#0000ff 1px 2px,#4f8728 2px 3px,#009f60 3px 4px,#0000ff 4px 5px,#4f08a8 5px 6px,#00ff00 6px 7px)}
.b22w{background-image:linear-gradient(90deg,#0027d8 0px 1px,#0000ff 1px 2px,#528528 2px 3px,#00a758 3px 4px,#0000ff 4px 5px,#5206a7 5px 6px,#00ff00 6px 7px)}
.b22x{background-image:linear-gradient(90deg,#0028d7 0px 1px,#0000ff 1px 2px,#5e8022 2px 3px,#00a758 3px 4px,#0000ff 4px 5px,#5e00a1 5px 6px,#00ff00 6px 7px)}
.b22y{background-image:linear-gradient(90deg,#002fd0 0px 1px,#0000ff 1px 2px,#627d20 2px 3px,#00ae51 3px 4px,#0000ff 4px 5px,#60009f 5px 6px,#02fd00 6px 7px)}
.b22z{background-image:linear-gradient(90deg,#0030cf 0px 1px,#0000ff 1px 2px,#6e7819 2px 3px,#00af50 3px 4px,#0000ff 4px 5px,#660099 5px 6px,#08f700 6px 7px)}
.b230{background-image:linear-gradient(90deg,#0038c7 0px 1px,#0000ff 1px 2px,#737518 2px 3px,#00b748 3px 4px,#0000ff 4px 5px,#680097 5px 6px,#0bf400 6px 7px)}
.b231{background-image:linear-gradient(90deg,#0039c6 0px 1px,#0000ff 1px 2px,#7f7010 2px 3px,#00b946 3px 4px,#0000ff 4px 5px,#6f0090 5px 6px,#10ef00 6px 7px)}
.b232{background-image:linear-gradient(90deg,#0040bf 0px 1px,#0000ff 1px 2px,#876a0d 2px 3px,#00bf40 3px 4px,#0000ff 4px 5px,#72008d 5px 6px,#15ea00 6px 7px)}
.b233{background-image:linear-gradient(90deg,#0044bb 0px 1px,#0000ff 1px 2px,#906708 2px 3px,#00c43b 3px 4px,#0000ff 4px 5px,#780087 5px 6px,#19e600 6px 7px)}
.b234{background-image:linear-gradient(90deg,#0049b6 0px 1px,#0000ff 1px 2px,#9d6002 2px 3px,#00c837 3px 4px,#0000ff 4px 5px,#7e0081 5px 6px,#20df00 6px 7px)}
.b235{background-image:linear-gradient(90deg,#0050af 0px 1px,#0300fc 1px 2px,#a55a00 2px 3px,#00cf30 3px 4px,#0000ff 4px 5px,#83007c 5px 6px,#26d900 6px 7px)}
.b236{background-image:linear-gradient(90deg,#0056a9 0px 1px,#0a00f5 1px 2px,#ab5400 2px 3px,#00d629 3px 4px,#0000ff 4px 5px,#890076 5px 6px,#2bd400 6px 7px)}
.b237{background-image:linear-gradient(90deg,#005ea1 0px 1px,#1200ed 1px 2px,#b34c00 2px 3px,#00dd22 3px 4px,#0000ff 4px 5px,#91006e 5px 6px,#33cc00 6px 7px)}
.b238{background-image:linear-gradient(90deg,#006699 0px 1px,#1b00e4 1px 2px,#bb4400 2px 3px,#00e619 3px 4px,#0000ff 4px 5px,#9a0065 5px 6px,#3bc400 6px 7px)}
.b239{background-image:linear-gradient(90deg,#00738c 0px 1px,#2700d8 1px 2px,#c73800 2px 3px,#00f20d 3px 4px,#0000ff 4px 5px,#a60059 5px 6px,#48b700 6px 7px)}
.b23a{background-image:linear-gradient(90deg,#45a79d 0px 1px,#6e46d7 1px 2px,#ea5540 2px 3px,#39ff39 3px 4px,#3c3efd 4px 5px,#d7446d 5px 6px,#84bf44 6px 7px)}
.b31{background-image:linear-gradient(90deg,#ffe8e8 0px 1px,#e6ffe6 1px 2px,#e6e6ff 2px 3px,#ffeaea 3px 4px,#f2fbee 4px 5px,#edf8f3 5px 6px,#edebfe 6px 7px)}
.b32{background-image:linear-gradient(90deg,#de2b0a 0px 1px,#02fd04 1px 2px,#070bfc 2px 3px,#bd094b 3px 4px,#5fab0b 4px 5px,#098880 5px 6px,#3e09ca 6px 7px)}
.b33{background-image:linear-gradient(90deg,#c33c00 0px 1px,#00ee11 1px 2px,#0000ff 2px 3px,#a2005d 3px 4px,#44bb00 4px 5px,#006f90 5px 6px,#2300dc 6px 7px)}
.b34{background-image:linear-gradient(90deg,#b94600 0px 1px,#00e31c 1px 2px,#0000ff 2px 3px,#970068 3px 4px,#3ac500 4px 5px,#00649b 5px 6px,#1800e7 6px 7px)}
.b35{background-image:linear-gradient(90deg,#b04f00 0px 1px,#00da25 1px 2px,#0000ff 2px 3px,#8f0070 3px 4px,#31ce00 4px 5px,#005ba4 5px 6px,#1000ef 6px 7px)}
.b36{background-image:linear-gradient(90deg,#a95600 0px 1px,#00d42b 1px 2px,#0000ff 2px 3px,#870078 3px 4px,#29d600 4px 5px,#0055aa 5px 6px,#0800f7 6px 7px)}
.b37{background-image:linear-gradient(90deg,#a35c00 0px 1px,#00ce31 1px 2px,#0000ff 2px 3px,#81007e 3px 4px,#23dc00 4px 5px,#004fb0 5px 6px,#0100fe 6px 7px)}
.b38{background-image:linear-gradient(90deg,#9b6103 0px 1px,#00c738 1px 2px,#0000ff 2px 3px,#7c0083 3px 4px,#1ee100 4px 5px,#0048b7 5px 6px,#0000ff 6px 7px)}
.b39{background-image:linear-gradient(90deg,#8f6808 0px 1px,#00c23d 1px 2px,#0000ff 2px 3px,#780087 3px 4px,#18e700 4px 5px,#0043bc 5px 6px,#0000ff 6px 7px)}
.b3a{background-image:linear-gradient(90deg,#826d0f 0px 1px,#00bf40 1px 2px,#0000ff 2px 3px,#70008f 3px 4px,#12ed00 4px 5px,#003fc0 5px 6px,#0000ff 6px 7px)}
.b3b{background-image:linear-gradient(90deg,#7e7012 0px 1px,#00b748 1px 2px,#0000ff 2px 3px,#6e0091 3px 4px,#10ef00 4px 5px,#0038c7 5px 6px,#0000ff 6px 7px)}
.b3c{background-image:linear-gradient(90deg,#707718 0px 1px,#00b54a 1px 2px,#0000ff 2px 3px,#680097 3px 4px,#08f700 4px 5px,#0036c9 5px 6px,#0000ff 6px 7px)}
.b3d{background-image:linear-gradient(90deg,#6b791b 0px 1px,#00af50 1px 2px,#0000ff 2px 3px,#64009b 3px 4px,#07f800 4px 5px,#0030cf 5px 6px,#0000ff 6px 7px)}
.b3e{background-image:linear-gradient(90deg,#608020 0px 1px,#00ac53 1px 2px,#0000ff 2px 3px,#60009f 3px 4px,#00ff00 4px 5px,#002dd2 5px 6px,#0000ff 6px 7px)}
.b3f{background-image:linear-gradient(90deg,#5c8023 0px 1px,#00a758 1px 2px,#0000ff 2px 3px,#5c00a3 3px 4px,#00ff00 4px 5px,#0028d7 5px 6px,#0000ff 6px 7px)}
.b3g{background-image:linear-gradient(90deg,#508728 0px 1px,#00a55a 1px 2px,#0000ff 2px 3px,#5008a7 3px 4px,#00ff00 4px 5px,#0026d9 5px 6px,#0000ff 6px 7px)}
.b3h{background-image:linear-gradient(90deg,#4d872a 0px 1px,#009f60 1px 2px,#0000ff 2px 3px,#4d08aa 3px 4px,#00ff00 4px 5px,#0020df 5px 6px,#0000ff 6px 7px)}
.b3i{background-image:linear-gradient(90deg,#418e30 0px 1px,#009f60 1px 2px,#0000ff 2px 3px,#410eaf 3px 4px,#00ff00 4px 5px,#001fe0 5px 6px,#0000ff 6px 7px)}
.b3j{background-image:linear-gradient(90deg,#3f8f30 0px 1px,#009768 1px 2px,#0000ff 2px 3px,#3f10b0 3px 4px,#00ff00 4px 5px,#0018e7 5px 6px,#0000ff 6px 7px)}
.b3k{background-image:linear-gradient(90deg,#349338 0px 1px,#009768 1px 2px,#0000ff 2px 3px,#3414b7 3px 4px,#00ff00 4px 5px,#0018e7 5px 6px,#0000ff 6px 7px)}
.b3l{background-image:linear-gradient(90deg,#309738 0px 1px,#00916e 1px 2px,#0000ff 2px 3px,#3018b7 3px 4px,#00ff00 4px 5px,#0012ed 5px 6px,#0000ff 6px 7px)}
.b3m{background-image:linear-gradient(90deg,#2a983d 0px 1px,#008f70 1px 2px,#0000ff 2px 3px,#2a19bd 3px 4px,#00ff00 4px 5px,#0010ef 5px 6px,#0000ff 6px 7px)}
.b3n{background-image:linear-gradient(90deg,#209f40 0px 1px,#008d72 1px 2px,#0000ff 2px 3px,#2020bf 3px 4px,#00ff00 4px 5px,#000df2 5px 6px,#0000ff 6px 7px)}
.b3o{background-image:linear-gradient(90deg,#1f9f41 0px 1px,#008778 1px 2px,#0000ff 2px 3px,#1f20c0 3px 4px,#00ff00 4px 5px,#0008f7 5px 6px,#0000ff 6px 7px)}
.b3p{background-image:linear-gradient(90deg,#13a448 0px 1px,#008778 1px 2px,#0000ff 2px 3px,#1325c7 3px 4px,#00ff00 4px 5px,#0008f7 5px 6px,#0000ff 6px 7px)}
.b3q{background-image:linear-gradient(90deg,#10a748 0px 1px,#00817e 1px 2px,#0000ff 2px 3px,#1028c7 3px 4px,#00ff00 4px 5px,#0002fd 5px 6px,#0000ff 6px 7px)}
.b3r{background-image:linear-gradient(90deg,#0ca74c 0px 1px,#008080 1px 2px,#0000ff 2px 3px,#0c28cb 3px 4px,#00ff00 4px 5px,#0000ff 5px 6px,#0000ff 6px 7px)}
.b3s{background-image:linear-gradient(90deg,#00af50 0px 1px,#007f80 1px 2px,#0000ff 2px 3px,#0030cf 3px 4px,#00fe01 4px 5px,#0000ff 5px 6px,#0000ff 6px 7px)}
.b3t{background-image:linear-gradient(90deg,#00af50 0px 1px,#007887 1px 2px,#0000ff 2px 3px,#0030cf 3px 4px,#00f708 4px 5px,#0000ff 5px 6px,#0000ff 6px 7px)}
.b3u{background-image:linear-gradient(90deg,#00a956 0px 1px,#007887 1px 2px,#0000ff 2px 3px,#0029d6 3px 4px,#00f708 4px 5px,#0000ff 5px 6px,#0000ff 6px 7px)}
.b3v{background-image:linear-gradient(90deg,#00a758 0px 1px,#00758a 1px 2px,#0000ff 2px 3px,#0028d7 3px 4px,#00f40b 4px 5px,#0000ff 5px 6px,#0000ff 6px 7px)}
.b3w{background-image:linear-gradient(90deg,#00a758 0px 1px,#00708f 1px 2px,#0000ff 2px 3px,#0028d7 3px 4px,#00ef10 4px 5px,#0000ff 5px 6px,#0000ff 6px 7px)}
.b3x{background-image:linear-gradient(90deg,#009f60 0px 1px,#00708f 1px 2px,#0000ff 2px 3px,#0020df 3px 4px,#00ef10 4px 5px,#0000ff 5px 6px,#0000ff 6px 7px)}
.b3y{background-image:linear-gradient(90deg,#009f60 0px 1px,#006c93 1px 2px,#0004fb 2px 3px,#0020df 3px 4px,#00eb14 4px 5px,#0000ff 5px 6px,#0004fb 6px 7px)}
.b3z{background-image:linear-gradient(90deg,#009e61 0px 1px,#006897 1px 2px,#0009f6 2px 3px,#001ee1 3px 4px,#00e718 4px 5px,#0000ff 5px 6px,#0009f6 6px 7px)}
.b310{background-image:linear-gradient(90deg,#009768 0px 1px,#006897 1px 2px,#0010ef 2px 3px,#0018e7 3px 4px,#00e718 4px 5px,#0000ff 5px 6px,#0010ef 6px 7px)}
.b311{background-image:linear-gradient(90deg,#009768 0px 1px,#00639c 1px 2px,#0014eb 2px 3px,#0018e7 3px 4px,#00e21d 4px 5px,#0000ff 5px 6px,#0014eb 6px 7px)}
.b312{background-image:linear-gradient(90deg,#009768 0px 1px,#00609f 1px 2px,#0018e7 2px 3px,#0017e8 3px 4px,#00df20 4px 5px,#0000ff 5px 6px,#0018e7 6px 7px)}
.b313{background-image:linear-gradient(90deg,#008f70 0px 1px,#00609f 1px 2px,#0020df 2px 3px,#0010ef 3px 4px,#00df20 4px 5px,#0000ff 5px 6px,#0020df 6px 7px)}
.b314{background-image:linear-gradient(90deg,#008f70 0px 1px,#005ca3 1px 2px,#0023dc 2px 3px,#0010ef 3px 4px,#00db24 4px 5px,#0000ff 5px 6px,#0023dc 6px 7px)}
.b315{background-image:linear-gradient(90deg,#008f70 0px 1px,#0058a7 1px 2px,#0028d7 2px 3px,#0010ef 3px 4px,#00d728 4px 5px,#0000ff 5px 6px,#0028d7 6px 7px)}
.b316{background-image:linear-gradient(90deg,#008877 0px 1px,#0058a7 1px 2px,#0030cf 2px 3px,#0008f7 3px 4px,#00d728 4px 5px,#0000ff 5px 6px,#0030cf 6px 7px)}
.b317{background-image:linear-gradient(90deg,#008778 0px 1px,#0055aa 1px 2px,#0032cd 2px 3px,#0008f7 3px 4px,#00d42b 4px 5px,#0000ff 5px 6px,#0032cd 6px 7px)}
.b318{background-image:linear-gradient(90deg,#008778 0px 1px,#0050af 1px 2px,#0038c7 2px 3px,#0008f7 3px 4px,#00cf30 4px 5px,#0000ff 5px 6px,#0038c7 6px 7px)}
.b319{background-image:linear-gradient(90deg,#00807f 0px 1px,#0050af 1px 2px,#003fc0 2px 3px,#0001fe 3px 4px,#00cf30 4px 5px,#0000ff 5px 6px,#003fc0 6px 7px)}
.b31a{background-image:linear-gradient(90deg,#008080 0px 1px,#004eb1 1px 2px,#0041be 2px 3px,#0000ff 3px 4px,#00ce31 4px 5px,#0000ff 5px 6px,#0041be 6px 7px)}
.b31b{background-image:linear-gradient(90deg,#008080 0px 1px,#0048b7 1px 2px,#0048b7 2px 3px,#0000ff 3px 4px,#00c738 4px 5px,#0000ff 5px 6px,#0048b7 6px 7px)}
.b31c{background-image:linear-gradient(90deg,#007a85 0px 1px,#0048b7 1px 2px,#004db2 2px 3px,#0000ff 3px 4px,#00c13e 4px 5px,#0000ff 5px 6px,#004db2 6px 7px)}
.b31d{background-image:linear-gradient(90deg,#007887 0px 1px,#0047b8 1px 2px,#0050af 2px 3px,#0000ff 3px 4px,#00bf40 4px 5px,#0000ff 5px 6px,#0050af 6px 7px)}
.b31e{background-image:linear-gradient(90deg,#007887 0px 1px,#0040bf 1px 2px,#0058a7 2px 3px,#0000ff 3px 4px,#00b748 4px 5px,#0008f7 5px 6px,#0050af 6px 7px)}
.b31f{background-image:linear-gradient(90deg,#00738c 0px 1px,#0040bf 1px 2px,#005ca3 2px 3px,#0000ff 3px 4px,#00b34c 4px 5px,#0008f7 5px 6px,#0054ab 6px 7px)}
.b31g{background-image:linear-gradient(90deg,#00708f 0px 1px,#0040bf 1px 2px,#00609f 2px 3px,#0000ff 3px 4px,#00af50 4px 5px,#0008f7 5px 6px,#0058a7 6px 7px)}
.b31h{background-image:linear-gradient(90deg,#00708f 0px 1px,#0039c6 1px 2px,#006699 2px 3px,#0000ff 3px 4px,#00a956 4px 5px,#000ef1 5px 6px,#0058a7 6px 7px)}
.b31i{background-image:linear-gradient(90deg,#006d92 0px 1px,#0038c7 1px 2px,#006a95 2px 3px,#0000ff 3px 4px,#00a55a 4px 5px,#0010ef 5px 6px,#005aa5 6px 7px)}
.b31j{background-image:linear-gradient(90deg,#006897 0px 1px,#0038c7 1px 2px,#00708f 2px 3px,#0000ff 3px 4px,#009f60 4px 5px,#0010ef 5px 6px,#00609f 6px 7px)}
.b31k{background-image:linear-gradient(90deg,#006897 0px 1px,#0033cc 1px 2px,#00758a 2px 3px,#0000ff 3px 4px,#009a65 4px 5px,#0015ea 5px 6px,#00609f 6px 7px)}
.b31l{background-image:linear-gradient(90deg,#006798 0px 1px,#0030cf 1px 2px,#007887 2px 3px,#0000ff 3px 4px,#009669 4px 5px,#0018e7 5px 6px,#00609f 6px 7px)}
.b31m{background-image:linear-gradient(90deg,#00609f 0px 1px,#0030cf 1px 2px,#008080 2px 3px,#0000ff 3px 4px,#008f70 4px 5px,#0018e7 5px 6px,#006897 6px 7px)}
.b31n{background-image:linear-gradient(90deg,#00609f 0px 1px,#002dd2 1px 2px,#00827d 2px 3px,#0000ff 3px 4px,#008c73 4px 5px,#001be4 5px 6px,#006897 6px 7px)}
.b31o{background-image:linear-gradient(90deg,#00609f 0px 1px,#0028d7 1px 2px,#008778 2px 3px,#0000ff 3px 4px,#008778 4px 5px,#0020df 5px 6px,#006897 6px 7px)}
.b31p{background-image:linear-gradient(90deg,#0058a7 0px 1px,#0028d7 1px 2px,#008e71 2px 3px,#0000ff 3px 4px,#00807f 4px 5px,#0020df 5px 6px,#006f90 6px 7px)}
.b31q{background-image:linear-gradient(90deg,#0058a7 0px 1px,#0027d8 1px 2px,#00916e 2px 3px,#0000ff 3px 4px,#007e81 4px 5px,#0021de 5px 6px,#00708f 6px 7px)}
.b31r{background-image:linear-gradient(90deg,#0058a7 0px 1px,#0020df 1px 2px,#009768 2px 3px,#0000ff 3px 4px,#007887 4px 5px,#0028d7 5px 6px,#00708f 6px 7px)}
.b31s{background-image:linear-gradient(90deg,#0052ad 0px 1px,#0020df 1px 2px,#009c63 2px 3px,#0000ff 3px 4px,#00728d 4px 5px,#0028d7 5px 6px,#00758a 6px 7px)}
.b31t{background-image:linear-gradient(90deg,#0050af 0px 1px,#0020df 1px 2px,#009f60 2px 3px,#0000ff 3px 4px,#00708f 4px 5px,#0028d7 5px 6px,#007887 6px 7px)}
.b31u{background-image:linear-gradient(90deg,#0050af 0px 1px,#0018e7 1px 2px,#00a758 2px 3px,#0000ff 3px 4px,#006897 4px 5px,#002fd0 5px 6px,#007887 6px 7px)}
.b31v{background-image:linear-gradient(90deg,#004cb3 0px 1px,#0018e7 1px 2px,#00ab54 2px 3px,#0000ff 3px 4px,#00649b 4px 5px,#0030cf 5px 6px,#007b84 6px 7px)}
.b31w{background-image:linear-gradient(90deg,#0048b7 0px 1px,#0018e7 1px 2px,#00af50 2px 3px,#0000ff 3px 4px,#00609f 4px 5px,#0030cf 5px 6px,#008080 6px 7px)}
.b31x{background-image:linear-gradient(90deg,#0048b7 0px 1px,#0012ed 1px 2px,#00b54a 2px 3px,#0000ff 3px 4px,#005aa5 4px 5px,#0036c9 5px 6px,#008080 6px 7px)}
.b31y{background-image:linear-gradient(90deg,#0046b9 0px 1px,#0010ef 1px 2px,#00b748 2px 3px,#0002fd 3px 4px,#0056a9 4px 5px,#0038c7 5px 6px,#00817e 6px 7px)}
.b31z{background-image:linear-gradient(90deg,#0040bf 0px 1px,#0010ef 1px 2px,#00b748 2px 3px,#0008f7 3px 4px,#0050af 4px 5px,#0038c7 5px 6px,#008778 6px 7px)}
.b320{background-image:linear-gradient(90deg,#0040bf 0px 1px,#000bf4 1px 2px,#00bc43 2px 3px,#0008f7 3px 4px,#004bb4 4px 5px,#003cc3 5px 6px,#008778 6px 7px)}
.b321{background-image:linear-gradient(90deg,#003fc0 0px 1px,#0008f7 1px 2px,#00bf40 2px 3px,#0008f7 3px 4px,#0047b8 4px 5px,#0040bf 5px 6px,#008877 6px 7px)}
.b322{background-image:linear-gradient(90deg,#0038c7 0px 1px,#0008f7 1px 2px,#00bf40 2px 3px,#0010ef 3px 4px,#0040bf 4px 5px,#0040bf 5px 6px,#008f70 6px 7px)}
.b323{background-image:linear-gradient(90deg,#0038c7 0px 1px,#0005fa 1px 2px,#00c23d 2px 3px,#0010ef 3px 4px,#003dc2 4px 5px,#0043bc 5px 6px,#008f70 6px 7px)}
.b324{background-image:linear-gradient(90deg,#0038c7 0px 1px,#0000ff 1px 2px,#00c738 2px 3px,#0010ef 3px 4px,#0038c7 4px 5px,#0048b7 5px 6px,#008f70 6px 7px)}
.b325{background-image:linear-gradient(90deg,#0030cf 0px 1px,#0000ff 1px 2px,#00c738 2px 3px,#0017e8 3px 4px,#0030cf 4px 5px,#0048b7 5px 6px,#009768 6px 7px)}
.b326{background-image:linear-gradient(90deg,#002dd2 0px 1px,#0000ff 1px 2px,#00c936 2px 3px,#0018e7 3px 4px,#002dd2 4px 5px,#004ab5 5px 6px,#009768 6px 7px)}
.b327{background-image:linear-gradient(90deg,#0028d7 0px 1px,#0000ff 1px 2px,#00cf30 2px 3px,#0018e7 3px 4px,#0028d7 4px 5px,#0050af 5px 6px,#009768 6px 7px)}
.b328{background-image:linear-gradient(90deg,#0021de 0px 1px,#0000ff 1px 2px,#00cf30 2px 3px,#001ee1 3px 4px,#0021de 4px 5px,#0050af 5px 6px,#009e61 6px 7px)}
.b329{background-image:linear-gradient(90deg,#001ee1 0px 1px,#0000ff 1px 2px,#00d12e 2px 3px,#0020df 3px 4px,#001ee1 4px 5px,#0051ae 5px 6px,#009f60 6px 7px)}
.b32a{background-image:linear-gradient(90deg,#0018e7 0px 1px,#0000ff 1px 2px,#00d728 2px 3px,#0020df 3px 4px,#0018e7 4px 5px,#0058a7 5px 6px,#009f60 6px 7px)}
.b32b{background-image:linear-gradient(90deg,#0012ed 0px 1px,#0000ff 1px 2px,#00d728 2px 3px,#0025da 3px 4px,#0012ed 4px 5px,#0058a7 5px 6px,#00a55a 6px 7px)}
.b32c{background-image:linear-gradient(90deg,#000ff0 0px 1px,#0000ff 1px 2px,#00d827 2px 3px,#0028d7 3px 4px,#000ff0 4px 5px,#0058a7 5px 6px,#00a758 6px 7px)}
.b32d{background-image:linear-gradient(90deg,#0008f7 0px 1px,#0000ff 1px 2px,#00df20 2px 3px,#0028d7 3px 4px,#0008f7 4px 5px,#00609f 5px 6px,#00a758 6px 7px)}
.b32e{background-image:linear-gradient(90deg,#0002fd 0px 1px,#0000ff 1px 2px,#00df20 2px 3px,#002ed1 3px 4px,#0002fd 4px 5px,#00609f 5px 6px,#00ae51 6px 7px)}
.b32f{background-image:linear-gradient(90deg,#0000ff 0px 1px,#0000ff 1px 2px,#00e11e 2px 3px,#0030cf 3px 4px,#0000ff 4px 5px,#00619e 5px 6px,#00af50 6px 7px)}
.b32g{background-image:linear-gradient(90deg,#0000ff 0px 1px,#0000ff 1px 2px,#00e718 2px 3px,#0030cf 3px 4px,#0000ff 4px 5px,#006897 5px 6px,#00af50 6px 7px)}
.b32h{background-image:linear-gradient(90deg,#0000ff 0px 1px,#0000ff 1px 2px,#00e718 2px 3px,#0037c8 3px 4px,#0000ff 4px 5px,#006897 5px 6px,#00b748 6px 7px)}
.b32i{background-image:linear-gradient(90deg,#0000ff 0px 1px,#0000ff 1px 2px,#00ea15 2px 3px,#0038c7 3px 4px,#0000ff 4px 5px,#006b94 5px 6px,#00b748 6px 7px)}
.b32j{background-image:linear-gradient(90deg,#0000ff 0px 1px,#0000ff 1px 2px,#00ef10 2px 3px,#0039c6 3px 4px,#0000ff 4px 5px,#00708f 5px 6px,#00b946 6px 7px)}
.b32k{background-image:linear-gradient(90deg,#0000ff 0px 1px,#0000ff 1px 2px,#02ed10 2px 3px,#0040bf 3px 4px,#0000ff 4px 5px,#026d8f 5px 6px,#00bf40 6px 7px)}
.b32l{background-image:linear-gradient(90deg,#0000ff 0px 1px,#0000ff 1px 2px,#0de70a 2px 3px,#0040bf 3px 4px,#0000ff 4px 5px,#0d688a 5px 6px,#00bf40 6px 7px)}
.b32m{background-image:linear-gradient(90deg,#0000ff 0px 1px,#0000ff 1px 2px,#10e708 2px 3px,#0043bc 3px 4px,#0000ff 4px 5px,#106887 5px 6px,#00c33c 6px 7px)}
.b32n{background-image:linear-gradient(90deg,#0000ff 0px 1px,#0000ff 1px 2px,#16e207 2px 3px,#0048b7 3px 4px,#0000ff 4px 5px,#166287 5px 6px,#00c738 6px 7px)}
.b32o{background-image:linear-gradient(90deg,#0000ff 0px 1px,#0000ff 1px 2px,#20df00 2px 3px,#0048b7 3px 4px,#0000ff 4px 5px,#206080 5px 6px,#00c738 6px 7px)}
.b32p{background-image:linear-gradient(90deg,#0000ff 0px 1px,#0000ff 1px 2px,#21de00 2px 3px,#004fb0 3px 4px,#0000ff 4px 5px,#215f80 5px 6px,#00ce31 6px 7px)}
.b32q{background-image:linear-gradient(90deg,#0000ff 0px 1px,#0500fa 1px 2px,#28d700 2px 3px,#0050af 3px 4px,#0000ff 4px 5px,#2d587b 5px 6px,#00cf30 6px 7px)}
.b32r{background-image:linear-gradient(90deg,#0000ff 0px 1px,#0800f7 1px 2px,#28d700 2px 3px,#0053ac 3px 4px,#0000ff 4px 5px,#305878 5px 6px,#00d32c 6px 7px)}
.b32s{background-image:linear-gradient(90deg,#0000ff 0px 1px,#0a00f5 1px 2px,#2ed100 2px 3px,#0058a7 3px 4px,#0000ff 4px 5px,#385276 5px 6px,#00d728 6px 7px)}
.b32t{background-image:linear-gradient(90deg,#0000ff 0px 1px,#1000ef 1px 2px,#30cf00 2px 3px,#0059a6 3px 4px,#0000ff 4px 5px,#405070 5px 6px,#00d827 6px 7px)}
.b32u{background-image:linear-gradient(90deg,#0000ff 0px 1px,#1000ef 1px 2px,#33cc00 2px 3px,#00609f 3px 4px,#0000ff 4px 5px,#434c70 5px 6px,#00df20 6px 7px)}
.b32v{background-image:linear-gradient(90deg,#0000ff 0px 1px,#1800e7 1px 2px,#38c700 2px 3px,#00609f 3px 4px,#0000ff 4px 5px,#4f4868 5px 6px,#00df20 6px 7px)}
.b32w{background-image:linear-gradient(90deg,#0000ff 0px 1px,#1800e7 1px 2px,#3ac500 2px 3px,#006798 3px 4px,#0000ff 4px 5px,#524568 5px 6px,#00e718 6px 7px)}
.b32x{background-image:linear-gradient(90deg,#0000ff 0px 1px,#1f00e0 1px 2px,#40bf00 2px 3px,#006897 3px 4px,#0000ff 4px 5px,#5f4061 5px 6px,#00e718 6px 7px)}
.b32y{background-image:linear-gradient(90deg,#0000ff 0px 1px,#2000df 1px 2px,#41be00 2px 3px,#006f90 3px 4px,#0000ff 4px 5px,#613f60 5px 6px,#00ee11 6px 7px)}
.b32z{background-image:linear-gradient(90deg,#0000ff 0px 1px,#2700d8 1px 2px,#48b700 2px 3px,#00708f 3px 4px,#0000ff 4px 5px,#6f3859 5px 6px,#00ef10 6px 7px)}
.b330{background-image:linear-gradient(90deg,#0000ff 0px 1px,#2800d7 1px 2px,#4ab500 2px 3px,#007887 3px 4px,#0000ff 4px 5px,#733557 5px 6px,#00f708 6px 7px)}
.b331{background-image:linear-gradient(90deg,#0000ff 0px 1px,#3000cf 1px 2px,#50af00 2px 3px,#007986 3px 4px,#0000ff 4px 5px,#803050 5px 6px,#00f906 6px 7px)}
.b332{background-image:linear-gradient(90deg,#0000ff 0px 1px,#3300cc 1px 2px,#54ab00 2px 3px,#008080 3px 4px,#0000ff 4px 5px,#872b4d 5px 6px,#00ff00 6px 7px)}
.b333{background-image:linear-gradient(90deg,#0005fa 0px 1px,#3800c7 1px 2px,#58a700 2px 3px,#00847b 3px 4px,#0000ff 4px 5px,#902748 5px 6px,#00ff00 6px 7px)}
.b334{background-image:linear-gradient(90deg,#0009f6 0px 1px,#3f00c0 1px 2px,#609f00 2px 3px,#008877 3px 4px,#0000ff 4px 5px,#9e2041 5px 6px,#00ff00 6px 7px)}
.b335{background-image:linear-gradient(90deg,#0010ef 0px 1px,#4300bc 1px 2px,#659a00 2px 3px,#008f70 3px 4px,#0000ff 4px 5px,#a81a3c 5px 6px,#00ff00 6px 7px)}
.b336{background-image:linear-gradient(90deg,#0017e8 0px 1px,#4a00b5 1px 2px,#6b9400 2px 3px,#009669 3px 4px,#0000ff 4px 5px,#b51436 5px 6px,#00ff00 6px 7px)}
.b337{background-image:linear-gradient(90deg,#001de2 0px 1px,#5100ae 1px 2px,#738c00 2px 3px,#009d62 3px 4px,#0000ff 4px 5px,#c30d2f 5px 6px,#00ff00 6px 7px)}
.b338{background-image:linear-gradient(90deg,#0026d9 0px 1px,#5a00a5 1px 2px,#7c8300 2px 3px,#00a659 3px 4px,#0000ff 4px 5px,#d60425 5px 6px,#00ff00 6px 7px)}
.b339{background-image:linear-gradient(90deg,#0034cb 0px 1px,#660099 1px 2px,#887700 2px 3px,#00b34c 3px 4px,#0000ff 4px 5px,#e60019 5px 6px,#09f600 6px 7px)}
.b33a{background-image:linear-gradient(90deg,#3e6fcd 0px 1px,#9f3e9f 1px 2px,#bb8541 2px 3px,#3bdc5e 3px 4px,#3635ff 4px 5px,#fc3235 5px 6px,#4cef3c 6px 7px)}
</style></head><body>
<svg width="685" height="494" viewBox="0 0 685 494">
<line x1="158.50" y1="18.5" x2="158.50" y2="167.0" stroke="#eeeeee" stroke-width="1"/>
<line x1="263.10" y1="18.5" x2="263.10" y2="167.0" stroke="#eeeeee" stroke-width="1"/>
<line x1="367.70" y1="18.5" x2="367.70" y2="167.0" stroke="#eeeeee" stroke-width="1"/>
<line x1="472.30" y1="18.5" x2="472.30" y2="167.0" stroke="#eeeeee" stroke-width="1"/>
<line x1="576.90" y1="18.5" x2="576.90" y2="167.0" stroke="#eeeeee" stroke-width="1"/>
<line x1="158.50" y1="167.0" x2="158.50" y2="161.0" stroke="#808080" stroke-width="1"/>
<line x1="158.50" y1="18.5" x2="158.50" y2="24.5" stroke="#808080" stroke-width="1"/>
<line x1="263.10" y1="167.0" x2="263.10" y2="161.0" stroke="#808080" stroke-width="1"/>
<line x1="263.10" y1="18.5" x2="263.10" y2="24.5" stroke="#808080" stroke-width="1"/>
<line x1="367.70" y1="167.0" x2="367.70" y2="161.0" stroke="#808080" stroke-width="1"/>
<line x1="367.70" y1="18.5" x2="367.70" y2="24.5" stroke="#808080" stroke-width="1"/>
<line x1="472.30" y1="167.0" x2="472.30" y2="161.0" stroke="#808080" stroke-width="1"/>
<line x1="472.30" y1="18.5" x2="472.30" y2="24.5" stroke="#808080" stroke-width="1"/>
<line x1="576.90" y1="167.0" x2="576.90" y2="161.0" stroke="#808080" stroke-width="1"/>
<line x1="576.90" y1="18.5" x2="576.90" y2="24.5" stroke="#808080" stroke-width="1"/>
<line x1="53.9" y1="152.45" x2="59.9" y2="152.45" stroke="#888" stroke-width="1"/>
<line x1="681.5" y1="152.45" x2="675.5" y2="152.45" stroke="#888" stroke-width="1"/>
<line x1="53.9" y1="122.45" x2="59.9" y2="122.45" stroke="#888" stroke-width="1"/>
<line x1="681.5" y1="122.45" x2="675.5" y2="122.45" stroke="#888" stroke-width="1"/>
<line x1="53.9" y1="92.45" x2="59.9" y2="92.45" stroke="#888" stroke-width="1"/>
<line x1="681.5" y1="92.45" x2="675.5" y2="92.45" stroke="#888" stroke-width="1"/>
<line x1="53.9" y1="62.45" x2="59.9" y2="62.45" stroke="#888" stroke-width="1"/>
<line x1="681.5" y1="62.45" x2="675.5" y2="62.45" stroke="#888" stroke-width="1"/>
<line x1="53.9" y1="32.45" x2="59.9" y2="32.45" stroke="#888" stroke-width="1"/>
<line x1="681.5" y1="32.45" x2="675.5" y2="32.45" stroke="#888" stroke-width="1"/>
<rect x="53.9" y="18.5" width="627.60" height="148.50" fill="none" stroke="#7e7e7e" stroke-width="1.1"/>
<line x1="158.50" y1="286.5" x2="158.50" y2="433.0" stroke="#eeeeee" stroke-width="1"/>
<line x1="263.10" y1="286.5" x2="263.10" y2="433.0" stroke="#eeeeee" stroke-width="1"/>
<line x1="367.70" y1="286.5" x2="367.70" y2="433.0" stroke="#eeeeee" stroke-width="1"/>
<line x1="472.30" y1="286.5" x2="472.30" y2="433.0" stroke="#eeeeee" stroke-width="1"/>
<line x1="576.90" y1="286.5" x2="576.90" y2="433.0" stroke="#eeeeee" stroke-width="1"/>
<line x1="158.50" y1="433.0" x2="158.50" y2="427.0" stroke="#808080" stroke-width="1"/>
<line x1="158.50" y1="286.5" x2="158.50" y2="292.5" stroke="#808080" stroke-width="1"/>
<line x1="263.10" y1="433.0" x2="263.10" y2="427.0" stroke="#808080" stroke-width="1"/>
<line x1="263.10" y1="286.5" x2="263.10" y2="292.5" stroke="#808080" stroke-width="1"/>
<line x1="367.70" y1="433.0" x2="367.70" y2="427.0" stroke="#808080" stroke-width="1"/>
<line x1="367.70" y1="286.5" x2="367.70" y2="292.5" stroke="#808080" stroke-width="1"/>
<line x1="472.30" y1="433.0" x2="472.30" y2="427.0" stroke="#808080" stroke-width="1"/>
<line x1="472.30" y1="286.5" x2="472.30" y2="292.5" stroke="#808080" stroke-width="1"/>
<line x1="576.90" y1="433.0" x2="576.90" y2="427.0" stroke="#808080" stroke-width="1"/>
<line x1="576.90" y1="286.5" x2="576.90" y2="292.5" stroke="#808080" stroke-width="1"/>
<line x1="53.9" y1="418.40" x2="59.9" y2="418.40" stroke="#888" stroke-width="1"/>
<line x1="681.5" y1="418.40" x2="675.5" y2="418.40" stroke="#888" stroke-width="1"/>
<line x1="53.9" y1="388.85" x2="59.9" y2="388.85" stroke="#888" stroke-width="1"/>
<line x1="681.5" y1="388.85" x2="675.5" y2="388.85" stroke="#888" stroke-width="1"/>
<line x1="53.9" y1="359.30" x2="59.9" y2="359.30" stroke="#888" stroke-width="1"/>
<line x1="681.5" y1="359.30" x2="675.5" y2="359.30" stroke="#888" stroke-width="1"/>
<line x1="53.9" y1="329.75" x2="59.9" y2="329.75" stroke="#888" stroke-width="1"/>
<line x1="681.5" y1="329.75" x2="675.5" y2="329.75" stroke="#888" stroke-width="1"/>
<line x1="53.9" y1="300.20" x2="59.9" y2="300.20" stroke="#888" stroke-width="1"/>
<line x1="681.5" y1="300.20" x2="675.5" y2="300.20" stroke="#888" stroke-width="1"/>
<rect x="53.9" y="286.5" width="627.60" height="146.50" fill="none" stroke="#7e7e7e" stroke-width="1.1"/>
</svg>
<div class="band" style="left:54px;top:31px;width:46px;--o:0px"><i></i><i></i><i class="a02"></i><i class="a03"></i><i class="a04"></i><i class="a05"></i><i class="a06"></i><i class="a07"></i><i class="a08"></i><i class="a09"></i><i class="a0a"></i><i class="a0b"></i><i class="a0c"></i><i class="a0d"></i><i class="a0e"></i><i class="a0f"></i><i class="a0g"></i><i class="a0h"></i><i class="a0i"></i><i class="a0j"></i><i class="a0k"></i><i class="a0l"></i><i class="a0m"></i><i class="a0n"></i><i class="a0o"></i><i class="a0p"></i><i class="a0q"></i><i class="a0r"></i><i class="a0s"></i><i class="a0t"></i><i class="a0u"></i><i class="a0v"></i><i class="a0w"></i><i class="a0x"></i><i class="a0y"></i><i class="a0z"></i><i class="a010"></i><i class="a011"></i><i class="a012"></i><i class="a013"></i><i class="a014"></i><i class="a015"></i><i class="a016"></i><i class="a017"></i><i class="a018"></i><i class="a019"></i><i class="a01a"></i><i class="a01b"></i><i class="a01c"></i><i class="a01d"></i><i class="a01e"></i><i class="a01f"></i><i class="a01g"></i><i class="a01h"></i><i class="a01i"></i><i class="a01j"></i><i class="a01k"></i><i class="a01l"></i><i class="a01m"></i><i class="a01n"></i><i class="a01o"></i><i class="a01p"></i><i class="a01q"></i><i class="a01r"></i><i class="a01s"></i><i class="a01t"></i><i class="a01u"></i><i class="a01v"></i><i class="a01w"></i><i class="a01x"></i><i class="a01y"></i><i class="a01z"></i><i class="a020"></i><i class="a021"></i><i class="a022"></i><i class="a023"></i><i class="a024"></i><i class="a025"></i><i class="a026"></i><i class="a027"></i><i class="a028"></i><i class="a029"></i><i class="a02a"></i><i class="a02b"></i><i class="a02c"></i><i class="a02d"></i><i class="a02e"></i><i class="a02f"></i><i class="a02g"></i><i class="a02h"></i><i class="a02i"></i><i class="a02j"></i><i class="a02k"></i><i class="a02l"></i><i class="a02m"></i><i class="a02n"></i><i class="a02o"></i><i class="a02p"></i><i class="a02q"></i><i class="a02r"></i><i class="a02s"></i><i class="a02t"></i><i class="a02u"></i><i class="a02v"></i><i class="a02w"></i><i class="a02x"></i><i class="a02y"></i><i class="a02z"></i><i class="a030"></i><i class="a031"></i><i class="a032"></i><i class="a033"></i><i class="a034"></i><i class="a035"></i><i class="a036"></i><i class="a037"></i><i class="a038"></i><i class="a039"></i><i class="a03a"></i><i class="a03b"></i><i class="a03c"></i><i></i><i></i><i></i></div>
<div class="band" style="left:100px;top:31px;width:76px;--o:3px"><i></i><i></i><i class="a12"></i><i class="a13"></i><i class="a14"></i><i class="a15"></i><i class="a16"></i><i class="a17"></i><i class="a18"></i><i class="a19"></i><i class="a1a"></i><i class="a1b"></i><i class="a1c"></i><i class="a1d"></i><i class="a1e"></i><i class="a1f"></i><i class="a1g"></i><i class="a1h"></i><i class="a1i"></i><i class="a1j"></i><i class="a1k"></i><i class="a1l"></i><i class="a1m"></i><i class="a1n"></i><i class="a1o"></i><i class="a1p"></i><i class="a1q"></i><i class="a1r"></i><i class="a1s"></i><i class="a1t"></i><i class="a1u"></i><i class="a1v"></i><i class="a1w"></i><i class="a1x"></i><i class="a1y"></i><i class="a1z"></i><i class="a110"></i><i class="a111"></i><i class="a112"></i><i class="a113"></i><i class="a114"></i><i class="a115"></i><i class="a116"></i><i class="a117"></i><i class="a118"></i><i class="a119"></i><i class="a11a"></i><i class="a11b"></i><i class="a11c"></i><i class="a11d"></i><i class="a11e"></i><i class="a11f"></i><i class="a11g"></i><i class="a11h"></i><i class="a11i"></i><i class="a11j"></i><i class="a11k"></i><i class="a11l"></i><i class="a11m"></i><i class="a11n"></i><i class="a11o"></i><i class="a11p"></i><i class="a11q"></i><i class="a11r"></i><i class="a11s"></i><i class="a11t"></i><i class="a11u"></i><i class="a11v"></i><i class="a11w"></i><i class="a11x"></i><i class="a11y"></i><i class="a11z"></i><i class="a120"></i><i class="a121"></i><i class="a122"></i><i class="a123"></i><i class="a124"></i><i class="a125"></i><i class="a126"></i><i class="a127"></i><i class="a128"></i><i class="a129"></i><i class="a12a"></i><i class="a12b"></i><i class="a12c"></i><i class="a12d"></i><i class="a12e"></i><i class="a12f"></i><i class="a12g"></i><i class="a12h"></i><i class="a12i"></i><i class="a12j"></i><i class="a12k"></i><i class="a12l"></i><i class="a12m"></i><i class="a12n"></i><i class="a12o"></i><i class="a12p"></i><i class="a12q"></i><i class="a12r"></i><i class="a12s"></i><i class="a12t"></i><i class="a12u"></i><i class="a12v"></i><i class="a12w"></i><i class="a12x"></i><i class="a12y"></i><i class="a12z"></i><i class="a130"></i><i class="a131"></i><i class="a132"></i><i class="a133"></i><i class="a134"></i><i class="a135"></i><i class="a136"></i><i class="a137"></i><i class="a138"></i><i class="a139"></i><i class="a13a"></i><i class="a13b"></i><i class="a13c"></i><i></i><i></i><i></i></div>
<div class="band" style="left:176px;top:31px;width:75px;--o:4px"><i></i><i></i><i class="a22"></i><i class="a23"></i><i class="a24"></i><i class="a25"></i><i class="a26"></i><i class="a27"></i><i class="a28"></i><i class="a29"></i><i class="a2a"></i><i class="a2b"></i><i class="a2c"></i><i class="a2d"></i><i class="a2e"></i><i class="a2f"></i><i class="a2g"></i><i class="a2h"></i><i class="a2i"></i><i class="a2j"></i><i class="a2k"></i><i class="a2l"></i><i class="a2m"></i><i class="a2n"></i><i class="a2o"></i><i class="a2p"></i><i class="a2q"></i><i class="a2r"></i><i class="a2s"></i><i class="a2t"></i><i class="a2u"></i><i class="a2v"></i><i class="a2w"></i><i class="a2x"></i><i class="a2y"></i><i class="a2z"></i><i class="a210"></i><i class="a211"></i><i class="a212"></i><i class="a213"></i><i class="a214"></i><i class="a215"></i><i class="a216"></i><i class="a217"></i><i class="a218"></i><i class="a219"></i><i class="a21a"></i><i class="a21b"></i><i class="a21c"></i><i class="a21d"></i><i class="a21e"></i><i class="a21f"></i><i class="a21g"></i><i class="a21h"></i><i class="a21i"></i><i class="a21j"></i><i class="a21k"></i><i class="a21l"></i><i class="a21m"></i><i class="a21n"></i><i class="a21o"></i><i class="a21p"></i><i class="a21q"></i><i class="a21r"></i><i class="a21s"></i><i class="a21t"></i><i class="a21u"></i><i class="a21v"></i><i class="a21w"></i><i class="a21x"></i><i class="a21y"></i><i class="a21z"></i><i class="a220"></i><i class="a221"></i><i class="a222"></i><i class="a223"></i><i class="a224"></i><i class="a225"></i><i class="a226"></i><i class="a227"></i><i class="a228"></i><i class="a229"></i><i class="a22a"></i><i class="a22b"></i><i class="a22c"></i><i class="a22d"></i><i class="a22e"></i><i class="a22f"></i><i class="a22g"></i><i class="a22h"></i><i class="a22i"></i><i class="a22j"></i><i class="a22k"></i><i class="a22l"></i><i class="a22m"></i><i class="a22n"></i><i class="a22o"></i><i class="a22p"></i><i class="a22q"></i><i class="a22r"></i><i class="a22s"></i><i class="a22t"></i><i class="a22u"></i><i class="a22v"></i><i class="a22w"></i><i class="a22x"></i><i class="a22y"></i><i class="a22z"></i><i class="a230"></i><i class="a231"></i><i class="a232"></i><i class="a233"></i><i class="a234"></i><i class="a235"></i><i class="a236"></i><i class="a237"></i><i class="a238"></i><i class="a239"></i><i class="a23a"></i><i class="a23b"></i><i class="a23c"></i><i></i><i></i><i></i></div>
<div class="band" style="left:251px;top:31px;width:76px;--o:6px"><i></i><i></i><i class="a32"></i><i class="a33"></i><i class="a34"></i><i class="a35"></i><i class="a36"></i><i class="a37"></i><i class="a38"></i><i class="a39"></i><i class="a3a"></i><i class="a3b"></i><i class="a3c"></i><i class="a3d"></i><i class="a3e"></i><i class="a3f"></i><i class="a3g"></i><i class="a3h"></i><i class="a3i"></i><i class="a3j"></i><i class="a3k"></i><i class="a3l"></i><i class="a3m"></i><i class="a3n"></i><i class="a3o"></i><i class="a3p"></i><i class="a3q"></i><i class="a3r"></i><i class="a3s"></i><i class="a3t"></i><i class="a3u"></i><i class="a3v"></i><i class="a3w"></i><i class="a3x"></i><i class="a3y"></i><i class="a3z"></i><i class="a310"></i><i class="a311"></i><i class="a312"></i><i class="a313"></i><i class="a314"></i><i class="a315"></i><i class="a316"></i><i class="a317"></i><i class="a318"></i><i class="a319"></i><i class="a31a"></i><i class="a31b"></i><i class="a31c"></i><i class="a31d"></i><i class="a31e"></i><i class="a31f"></i><i class="a31g"></i><i class="a31h"></i><i class="a31i"></i><i class="a31j"></i><i class="a31k"></i><i class="a31l"></i><i class="a31m"></i><i class="a31n"></i><i class="a31o"></i><i class="a31p"></i><i class="a31q"></i><i class="a31r"></i><i class="a31s"></i><i class="a31t"></i><i class="a31u"></i><i class="a31v"></i><i class="a31w"></i><i class="a31x"></i><i class="a31y"></i><i class="a31z"></i><i class="a320"></i><i class="a321"></i><i class="a322"></i><i class="a323"></i><i class="a324"></i><i class="a325"></i><i class="a326"></i><i class="a327"></i><i class="a328"></i><i class="a329"></i><i class="a32a"></i><i class="a32b"></i><i class="a32c"></i><i class="a32d"></i><i class="a32e"></i><i class="a32f"></i><i class="a32g"></i><i class="a32h"></i><i class="a32i"></i><i class="a32j"></i><i class="a32k"></i><i class="a32l"></i><i class="a32m"></i><i class="a32n"></i><i class="a32o"></i><i class="a32p"></i><i class="a32q"></i><i class="a32r"></i><i class="a32s"></i><i class="a32t"></i><i class="a32u"></i><i class="a32v"></i><i class="a32w"></i><i class="a32x"></i><i class="a32y"></i><i class="a32z"></i><i class="a330"></i><i class="a331"></i><i class="a332"></i><i class="a333"></i><i class="a334"></i><i class="a335"></i><i class="a336"></i><i class="a337"></i><i class="a338"></i><i class="a339"></i><i class="a33a"></i><i class="a33b"></i><i class="a33c"></i><i></i><i></i><i></i></div>
<div class="band" style="left:327px;top:31px;width:76px;--o:6px"><i></i><i></i><i class="a02"></i><i class="a03"></i><i class="a04"></i><i class="a05"></i><i class="a06"></i><i class="a07"></i><i class="a08"></i><i class="a09"></i><i class="a0a"></i><i class="a0b"></i><i class="a0c"></i><i class="a0d"></i><i class="a0e"></i><i class="a0f"></i><i class="a0g"></i><i class="a0h"></i><i class="a0i"></i><i class="a0j"></i><i class="a0k"></i><i class="a0l"></i><i class="a0m"></i><i class="a0n"></i><i class="a0o"></i><i class="a0p"></i><i class="a0q"></i><i class="a0r"></i><i class="a0s"></i><i class="a0t"></i><i class="a0u"></i><i class="a0v"></i><i class="a0w"></i><i class="a0x"></i><i class="a0y"></i><i class="a0z"></i><i class="a010"></i><i class="a011"></i><i class="a012"></i><i class="a013"></i><i class="a014"></i><i class="a015"></i><i class="a016"></i><i class="a017"></i><i class="a018"></i><i class="a019"></i><i class="a01a"></i><i class="a01b"></i><i class="a01c"></i><i class="a01d"></i><i class="a01e"></i><i class="a01f"></i><i class="a01g"></i><i class="a01h"></i><i class="a01i"></i><i class="a01j"></i><i class="a01k"></i><i class="a01l"></i><i class="a01m"></i><i class="a01n"></i><i class="a01o"></i><i class="a01p"></i><i class="a01q"></i><i class="a01r"></i><i class="a01s"></i><i class="a01t"></i><i class="a01u"></i><i class="a01v"></i><i class="a01w"></i><i class="a01x"></i><i class="a01y"></i><i class="a01z"></i><i class="a020"></i><i class="a021"></i><i class="a022"></i><i class="a023"></i><i class="a024"></i><i class="a025"></i><i class="a026"></i><i class="a027"></i><i class="a028"></i><i class="a029"></i><i class="a02a"></i><i class="a02b"></i><i class="a02c"></i><i class="a02d"></i><i class="a02e"></i><i class="a02f"></i><i class="a02g"></i><i class="a02h"></i><i class="a02i"></i><i class="a02j"></i><i class="a02k"></i><i class="a02l"></i><i class="a02m"></i><i class="a02n"></i><i class="a02o"></i><i class="a02p"></i><i class="a02q"></i><i class="a02r"></i><i class="a02s"></i><i class="a02t"></i><i class="a02u"></i><i class="a02v"></i><i class="a02w"></i><i class="a02x"></i><i class="a02y"></i><i class="a02z"></i><i class="a030"></i><i class="a031"></i><i class="a032"></i><i class="a033"></i><i class="a034"></i><i class="a035"></i><i class="a036"></i><i class="a037"></i><i class="a038"></i><i class="a039"></i><i class="a03a"></i><i class="a03b"></i><i class="a03c"></i><i></i><i></i><i></i></div>
<div class="band" style="left:403px;top:31px;width:76px;--o:0px"><i></i><i></i><i class="a12"></i><i class="a13"></i><i class="a14"></i><i class="a15"></i><i class="a16"></i><i class="a17"></i><i class="a18"></i><i class="a19"></i><i class="a1a"></i><i class="a1b"></i><i class="a1c"></i><i class="a1d"></i><i class="a1e"></i><i class="a1f"></i><i class="a1g"></i><i class="a1h"></i><i class="a1i"></i><i class="a1j"></i><i class="a1k"></i><i class="a1l"></i><i class="a1m"></i><i class="a1n"></i><i class="a1o"></i><i class="a1p"></i><i class="a1q"></i><i class="a1r"></i><i class="a1s"></i><i class="a1t"></i><i class="a1u"></i><i class="a1v"></i><i class="a1w"></i><i class="a1x"></i><i class="a1y"></i><i class="a1z"></i><i class="a110"></i><i class="a111"></i><i class="a112"></i><i class="a113"></i><i class="a114"></i><i class="a115"></i><i class="a116"></i><i class="a117"></i><i class="a118"></i><i class="a119"></i><i class="a11a"></i><i class="a11b"></i><i class="a11c"></i><i class="a11d"></i><i class="a11e"></i><i class="a11f"></i><i class="a11g"></i><i class="a11h"></i><i class="a11i"></i><i class="a11j"></i><i class="a11k"></i><i class="a11l"></i><i class="a11m"></i><i class="a11n"></i><i class="a11o"></i><i class="a11p"></i><i class="a11q"></i><i class="a11r"></i><i class="a11s"></i><i class="a11t"></i><i class="a11u"></i><i class="a11v"></i><i class="a11w"></i><i class="a11x"></i><i class="a11y"></i><i class="a11z"></i><i class="a120"></i><i class="a121"></i><i class="a122"></i><i class="a123"></i><i class="a124"></i><i class="a125"></i><i class="a126"></i><i class="a127"></i><i class="a128"></i><i class="a129"></i><i class="a12a"></i><i class="a12b"></i><i class="a12c"></i><i class="a12d"></i><i class="a12e"></i><i class="a12f"></i><i class="a12g"></i><i class="a12h"></i><i class="a12i"></i><i class="a12j"></i><i class="a12k"></i><i class="a12l"></i><i class="a12m"></i><i class="a12n"></i><i class="a12o"></i><i class="a12p"></i><i class="a12q"></i><i class="a12r"></i><i class="a12s"></i><i class="a12t"></i><i class="a12u"></i><i class="a12v"></i><i class="a12w"></i><i class="a12x"></i><i class="a12y"></i><i class="a12z"></i><i class="a130"></i><i class="a131"></i><i class="a132"></i><i class="a133"></i><i class="a134"></i><i class="a135"></i><i class="a136"></i><i class="a137"></i><i class="a138"></i><i class="a139"></i><i class="a13a"></i><i class="a13b"></i><i class="a13c"></i><i></i><i></i><i></i></div>
<div class="band" style="left:479px;top:31px;width:75px;--o:1px"><i></i><i></i><i class="a22"></i><i class="a23"></i><i class="a24"></i><i class="a25"></i><i class="a26"></i><i class="a27"></i><i class="a28"></i><i class="a29"></i><i class="a2a"></i><i class="a2b"></i><i class="a2c"></i><i class="a2d"></i><i class="a2e"></i><i class="a2f"></i><i class="a2g"></i><i class="a2h"></i><i class="a2i"></i><i class="a2j"></i><i class="a2k"></i><i class="a2l"></i><i class="a2m"></i><i class="a2n"></i><i class="a2o"></i><i class="a2p"></i><i class="a2q"></i><i class="a2r"></i><i class="a2s"></i><i class="a2t"></i><i class="a2u"></i><i class="a2v"></i><i class="a2w"></i><i class="a2x"></i><i class="a2y"></i><i class="a2z"></i><i class="a210"></i><i class="a211"></i><i class="a212"></i><i class="a213"></i><i class="a214"></i><i class="a215"></i><i class="a216"></i><i class="a217"></i><i class="a218"></i><i class="a219"></i><i class="a21a"></i><i class="a21b"></i><i class="a21c"></i><i class="a21d"></i><i class="a21e"></i><i class="a21f"></i><i class="a21g"></i><i class="a21h"></i><i class="a21i"></i><i class="a21j"></i><i class="a21k"></i><i class="a21l"></i><i class="a21m"></i><i class="a21n"></i><i class="a21o"></i><i class="a21p"></i><i class="a21q"></i><i class="a21r"></i><i class="a21s"></i><i class="a21t"></i><i class="a21u"></i><i class="a21v"></i><i class="a21w"></i><i class="a21x"></i><i class="a21y"></i><i class="a21z"></i><i class="a220"></i><i class="a221"></i><i class="a222"></i><i class="a223"></i><i class="a224"></i><i class="a225"></i><i class="a226"></i><i class="a227"></i><i class="a228"></i><i class="a229"></i><i class="a22a"></i><i class="a22b"></i><i class="a22c"></i><i class="a22d"></i><i class="a22e"></i><i class="a22f"></i><i class="a22g"></i><i class="a22h"></i><i class="a22i"></i><i class="a22j"></i><i class="a22k"></i><i class="a22l"></i><i class="a22m"></i><i class="a22n"></i><i class="a22o"></i><i class="a22p"></i><i class="a22q"></i><i class="a22r"></i><i class="a22s"></i><i class="a22t"></i><i class="a22u"></i><i class="a22v"></i><i class="a22w"></i><i class="a22x"></i><i class="a22y"></i><i class="a22z"></i><i class="a230"></i><i class="a231"></i><i class="a232"></i><i class="a233"></i><i class="a234"></i><i class="a235"></i><i class="a236"></i><i class="a237"></i><i class="a238"></i><i class="a239"></i><i class="a23a"></i><i class="a23b"></i><i class="a23c"></i><i></i><i></i><i></i></div>
<div class="band" style="left:554px;top:31px;width:76px;--o:3px"><i></i><i></i><i class="a32"></i><i class="a33"></i><i class="a34"></i><i class="a35"></i><i class="a36"></i><i class="a37"></i><i class="a38"></i><i class="a39"></i><i class="a3a"></i><i class="a3b"></i><i class="a3c"></i><i class="a3d"></i><i class="a3e"></i><i class="a3f"></i><i class="a3g"></i><i class="a3h"></i><i class="a3i"></i><i class="a3j"></i><i class="a3k"></i><i class="a3l"></i><i class="a3m"></i><i class="a3n"></i><i class="a3o"></i><i class="a3p"></i><i class="a3q"></i><i class="a3r"></i><i class="a3s"></i><i class="a3t"></i><i class="a3u"></i><i class="a3v"></i><i class="a3w"></i><i class="a3x"></i><i class="a3y"></i><i class="a3z"></i><i class="a310"></i><i class="a311"></i><i class="a312"></i><i class="a313"></i><i class="a314"></i><i class="a315"></i><i class="a316"></i><i class="a317"></i><i class="a318"></i><i class="a319"></i><i class="a31a"></i><i class="a31b"></i><i class="a31c"></i><i class="a31d"></i><i class="a31e"></i><i class="a31f"></i><i class="a31g"></i><i class="a31h"></i><i class="a31i"></i><i class="a31j"></i><i class="a31k"></i><i class="a31l"></i><i class="a31m"></i><i class="a31n"></i><i class="a31o"></i><i class="a31p"></i><i class="a31q"></i><i class="a31r"></i><i class="a31s"></i><i class="a31t"></i><i class="a31u"></i><i class="a31v"></i><i class="a31w"></i><i class="a31x"></i><i class="a31y"></i><i class="a31z"></i><i class="a320"></i><i class="a321"></i><i class="a322"></i><i class="a323"></i><i class="a324"></i><i class="a325"></i><i class="a326"></i><i class="a327"></i><i class="a328"></i><i class="a329"></i><i class="a32a"></i><i class="a32b"></i><i class="a32c"></i><i class="a32d"></i><i class="a32e"></i><i class="a32f"></i><i class="a32g"></i><i class="a32h"></i><i class="a32i"></i><i class="a32j"></i><i class="a32k"></i><i class="a32l"></i><i class="a32m"></i><i class="a32n"></i><i class="a32o"></i><i class="a32p"></i><i class="a32q"></i><i class="a32r"></i><i class="a32s"></i><i class="a32t"></i><i class="a32u"></i><i class="a32v"></i><i class="a32w"></i><i class="a32x"></i><i class="a32y"></i><i class="a32z"></i><i class="a330"></i><i class="a331"></i><i class="a332"></i><i class="a333"></i><i class="a334"></i><i class="a335"></i><i class="a336"></i><i class="a337"></i><i class="a338"></i><i class="a339"></i><i class="a33a"></i><i class="a33b"></i><i class="a33c"></i><i></i><i></i><i></i></div>
<div class="band" style="left:630px;top:31px;width:52px;--o:3px"><i></i><i></i><i class="a02"></i><i class="a03"></i><i class="a04"></i><i class="a05"></i><i class="a06"></i><i class="a07"></i><i class="a08"></i><i class="a09"></i><i class="a0a"></i><i class="a0b"></i><i class="a0c"></i><i class="a0d"></i><i class="a0e"></i><i class="a0f"></i><i class="a0g"></i><i class="a0h"></i><i class="a0i"></i><i class="a0j"></i><i class="a0k"></i><i class="a0l"></i><i class="a0m"></i><i class="a0n"></i><i class="a0o"></i><i class="a0p"></i><i class="a0q"></i><i class="a0r"></i><i class="a0s"></i><i class="a0t"></i><i class="a0u"></i><i class="a0v"></i><i class="a0w"></i><i class="a0x"></i><i class="a0y"></i><i class="a0z"></i><i class="a010"></i><i class="a011"></i><i class="a012"></i><i class="a013"></i><i class="a014"></i><i class="a015"></i><i class="a016"></i><i class="a017"></i><i class="a018"></i><i class="a019"></i><i class="a01a"></i><i class="a01b"></i><i class="a01c"></i><i class="a01d"></i><i class="a01e"></i><i class="a01f"></i><i class="a01g"></i><i class="a01h"></i><i class="a01i"></i><i class="a01j"></i><i class="a01k"></i><i class="a01l"></i><i class="a01m"></i><i class="a01n"></i><i class="a01o"></i><i class="a01p"></i><i class="a01q"></i><i class="a01r"></i><i class="a01s"></i><i class="a01t"></i><i class="a01u"></i><i class="a01v"></i><i class="a01w"></i><i class="a01x"></i><i class="a01y"></i><i class="a01z"></i><i class="a020"></i><i class="a021"></i><i class="a022"></i><i class="a023"></i><i class="a024"></i><i class="a025"></i><i class="a026"></i><i class="a027"></i><i class="a028"></i><i class="a029"></i><i class="a02a"></i><i class="a02b"></i><i class="a02c"></i><i class="a02d"></i><i class="a02e"></i><i class="a02f"></i><i class="a02g"></i><i class="a02h"></i><i class="a02i"></i><i class="a02j"></i><i class="a02k"></i><i class="a02l"></i><i class="a02m"></i><i class="a02n"></i><i class="a02o"></i><i class="a02p"></i><i class="a02q"></i><i class="a02r"></i><i class="a02s"></i><i class="a02t"></i><i class="a02u"></i><i class="a02v"></i><i class="a02w"></i><i class="a02x"></i><i class="a02y"></i><i class="a02z"></i><i class="a030"></i><i class="a031"></i><i class="a032"></i><i class="a033"></i><i class="a034"></i><i class="a035"></i><i class="a036"></i><i class="a037"></i><i class="a038"></i><i class="a039"></i><i class="a03a"></i><i class="a03b"></i><i class="a03c"></i><i></i><i></i><i></i></div>
<div class="band" style="left:54px;top:299px;width:46px;--o:0px"><i></i><i class="b01"></i><i class="b02"></i><i class="b03"></i><i class="b04"></i><i class="b05"></i><i class="b06"></i><i class="b07"></i><i class="b08"></i><i class="b09"></i><i class="b0a"></i><i class="b0b"></i><i class="b0c"></i><i class="b0d"></i><i class="b0e"></i><i class="b0f"></i><i class="b0g"></i><i class="b0h"></i><i class="b0i"></i><i class="b0j"></i><i class="b0k"></i><i class="b0l"></i><i class="b0m"></i><i class="b0n"></i><i class="b0o"></i><i class="b0p"></i><i class="b0q"></i><i class="b0r"></i><i class="b0s"></i><i class="b0t"></i><i class="b0u"></i><i class="b0v"></i><i class="b0w"></i><i class="b0x"></i><i class="b0y"></i><i class="b0z"></i><i class="b010"></i><i class="b011"></i><i class="b012"></i><i class="b013"></i><i class="b014"></i><i class="b015"></i><i class="b016"></i><i class="b017"></i><i class="b018"></i><i class="b019"></i><i class="b01a"></i><i class="b01b"></i><i class="b01c"></i><i class="b01d"></i><i class="b01e"></i><i class="b01f"></i><i class="b01g"></i><i class="b01h"></i><i class="b01i"></i><i class="b01j"></i><i class="b01k"></i><i class="b01l"></i><i class="b01m"></i><i class="b01n"></i><i class="b01o"></i><i class="b01p"></i><i class="b01q"></i><i class="b01r"></i><i class="b01s"></i><i class="b01t"></i><i class="b01u"></i><i class="b01v"></i><i class="b01w"></i><i class="b01x"></i><i class="b01y"></i><i class="b01z"></i><i class="b020"></i><i class="b021"></i><i class="b022"></i><i class="b023"></i><i class="b024"></i><i class="b025"></i><i class="b026"></i><i class="b027"></i><i class="b028"></i><i class="b029"></i><i class="b02a"></i><i class="b02b"></i><i class="b02c"></i><i class="b02d"></i><i class="b02e"></i><i class="b02f"></i><i class="b02g"></i><i class="b02h"></i><i class="b02i"></i><i class="b02j"></i><i class="b02k"></i><i class="b02l"></i><i class="b02m"></i><i class="b02n"></i><i class="b02o"></i><i class="b02p"></i><i class="b02q"></i><i class="b02r"></i><i class="b02s"></i><i class="b02t"></i><i class="b02u"></i><i class="b02v"></i><i class="b02w"></i><i class="b02x"></i><i class="b02y"></i><i class="b02z"></i><i class="b030"></i><i class="b031"></i><i class="b032"></i><i class="b033"></i><i class="b034"></i><i class="b035"></i><i class="b036"></i><i class="b037"></i><i class="b038"></i><i class="b039"></i><i class="b03a"></i><i></i><i></i><i></i></div>
<div class="band" style="left:100px;top:299px;width:76px;--o:3px"><i></i><i class="b11"></i><i class="b12"></i><i class="b13"></i><i class="b14"></i><i class="b15"></i><i class="b16"></i><i class="b17"></i><i class="b18"></i><i class="b19"></i><i class="b1a"></i><i class="b1b"></i><i class="b1c"></i><i class="b1d"></i><i class="b1e"></i><i class="b1f"></i><i class="b1g"></i><i class="b1h"></i><i class="b1i"></i><i class="b1j"></i><i class="b1k"></i><i class="b1l"></i><i class="b1m"></i><i class="b1n"></i><i class="b1o"></i><i class="b1p"></i><i class="b1q"></i><i class="b1r"></i><i class="b1s"></i><i class="b1t"></i><i class="b1u"></i><i class="b1v"></i><i class="b1w"></i><i class="b1x"></i><i class="b1y"></i><i class="b1z"></i><i class="b110"></i><i class="b111"></i><i class="b112"></i><i class="b113"></i><i class="b114"></i><i class="b115"></i><i class="b116"></i><i class="b117"></i><i class="b118"></i><i class="b119"></i><i class="b11a"></i><i class="b11b"></i><i class="b11c"></i><i class="b11d"></i><i class="b11e"></i><i class="b11f"></i><i class="b11g"></i><i class="b11h"></i><i class="b11i"></i><i class="b11j"></i><i class="b11k"></i><i class="b11l"></i><i class="b11m"></i><i class="b11n"></i><i class="b11o"></i><i class="b11p"></i><i class="b11q"></i><i class="b11r"></i><i class="b11s"></i><i class="b11t"></i><i class="b11u"></i><i class="b11v"></i><i class="b11w"></i><i class="b11x"></i><i class="b11y"></i><i class="b11z"></i><i class="b120"></i><i class="b121"></i><i class="b122"></i><i class="b123"></i><i class="b124"></i><i class="b125"></i><i class="b126"></i><i class="b127"></i><i class="b128"></i><i class="b129"></i><i class="b12a"></i><i class="b12b"></i><i class="b12c"></i><i class="b12d"></i><i class="b12e"></i><i class="b12f"></i><i class="b12g"></i><i class="b12h"></i><i class="b12i"></i><i class="b12j"></i><i class="b12k"></i><i class="b12l"></i><i class="b12m"></i><i class="b12n"></i><i class="b12o"></i><i class="b12p"></i><i class="b12q"></i><i class="b12r"></i><i class="b12s"></i><i class="b12t"></i><i class="b12u"></i><i class="b12v"></i><i class="b12w"></i><i class="b12x"></i><i class="b12y"></i><i class="b12z"></i><i class="b130"></i><i class="b131"></i><i class="b132"></i><i class="b133"></i><i class="b134"></i><i class="b135"></i><i class="b136"></i><i class="b137"></i><i class="b138"></i><i class="b139"></i><i class="b13a"></i><i></i><i></i><i></i></div>
<div class="band" style="left:176px;top:299px;width:75px;--o:4px"><i></i><i class="b21"></i><i class="b22"></i><i class="b23"></i><i class="b24"></i><i class="b25"></i><i class="b26"></i><i class="b27"></i><i class="b28"></i><i class="b29"></i><i class="b2a"></i><i class="b2b"></i><i class="b2c"></i><i class="b2d"></i><i class="b2e"></i><i class="b2f"></i><i class="b2g"></i><i class="b2h"></i><i class="b2i"></i><i class="b2j"></i><i class="b2k"></i><i class="b2l"></i><i class="b2m"></i><i class="b2n"></i><i class="b2o"></i><i class="b2p"></i><i class="b2q"></i><i class="b2r"></i><i class="b2s"></i><i class="b2t"></i><i class="b2u"></i><i class="b2v"></i><i class="b2w"></i><i class="b2x"></i><i class="b2y"></i><i class="b2z"></i><i class="b210"></i><i class="b211"></i><i class="b212"></i><i class="b213"></i><i class="b214"></i><i class="b215"></i><i class="b216"></i><i class="b217"></i><i class="b218"></i><i class="b219"></i><i class="b21a"></i><i class="b21b"></i><i class="b21c"></i><i class="b21d"></i><i class="b21e"></i><i class="b21f"></i><i class="b21g"></i><i class="b21h"></i><i class="b21i"></i><i class="b21j"></i><i class="b21k"></i><i class="b21l"></i><i class="b21m"></i><i class="b21n"></i><i class="b21o"></i><i class="b21p"></i><i class="b21q"></i><i class="b21r"></i><i class="b21s"></i><i class="b21t"></i><i class="b21u"></i><i class="b21v"></i><i class="b21w"></i><i class="b21x"></i><i class="b21y"></i><i class="b21z"></i><i class="b220"></i><i class="b221"></i><i class="b222"></i><i class="b223"></i><i class="b224"></i><i class="b225"></i><i class="b226"></i><i class="b227"></i><i class="b228"></i><i class="b229"></i><i class="b22a"></i><i class="b22b"></i><i class="b22c"></i><i class="b22d"></i><i class="b22e"></i><i class="b22f"></i><i class="b22g"></i><i class="b22h"></i><i class="b22i"></i><i class="b22j"></i><i class="b22k"></i><i class="b22l"></i><i class="b22m"></i><i class="b22n"></i><i class="b22o"></i><i class="b22p"></i><i class="b22q"></i><i class="b22r"></i><i class="b22s"></i><i class="b22t"></i><i class="b22u"></i><i class="b22v"></i><i class="b22w"></i><i class="b22x"></i><i class="b22y"></i><i class="b22z"></i><i class="b230"></i><i class="b231"></i><i class="b232"></i><i class="b233"></i><i class="b234"></i><i class="b235"></i><i class="b236"></i><i class="b237"></i><i class="b238"></i><i class="b239"></i><i class="b23a"></i><i></i><i></i><i></i></div>
<div class="band" style="left:251px;top:299px;width:76px;--o:6px"><i></i><i class="b31"></i><i class="b32"></i><i class="b33"></i><i class="b34"></i><i class="b35"></i><i class="b36"></i><i class="b37"></i><i class="b38"></i><i class="b39"></i><i class="b3a"></i><i class="b3b"></i><i class="b3c"></i><i class="b3d"></i><i class="b3e"></i><i class="b3f"></i><i class="b3g"></i><i class="b3h"></i><i class="b3i"></i><i class="b3j"></i><i class="b3k"></i><i class="b3l"></i><i class="b3m"></i><i class="b3n"></i><i class="b3o"></i><i class="b3p"></i><i class="b3q"></i><i class="b3r"></i><i class="b3s"></i><i class="b3t"></i><i class="b3u"></i><i class="b3v"></i><i class="b3w"></i><i class="b3x"></i><i class="b3y"></i><i class="b3z"></i><i class="b310"></i><i class="b311"></i><i class="b312"></i><i class="b313"></i><i class="b314"></i><i class="b315"></i><i class="b316"></i><i class="b317"></i><i class="b318"></i><i class="b319"></i><i class="b31a"></i><i class="b31b"></i><i class="b31c"></i><i class="b31d"></i><i class="b31e"></i><i class="b31f"></i><i class="b31g"></i><i class="b31h"></i><i class="b31i"></i><i class="b31j"></i><i class="b31k"></i><i class="b31l"></i><i class="b31m"></i><i class="b31n"></i><i class="b31o"></i><i class="b31p"></i><i class="b31q"></i><i class="b31r"></i><i class="b31s"></i><i class="b31t"></i><i class="b31u"></i><i class="b31v"></i><i class="b31w"></i><i class="b31x"></i><i class="b31y"></i><i class="b31z"></i><i class="b320"></i><i class="b321"></i><i class="b322"></i><i class="b323"></i><i class="b324"></i><i class="b325"></i><i class="b326"></i><i class="b327"></i><i class="b328"></i><i class="b329"></i><i class="b32a"></i><i class="b32b"></i><i class="b32c"></i><i class="b32d"></i><i class="b32e"></i><i class="b32f"></i><i class="b32g"></i><i class="b32h"></i><i class="b32i"></i><i class="b32j"></i><i class="b32k"></i><i class="b32l"></i><i class="b32m"></i><i class="b32n"></i><i class="b32o"></i><i class="b32p"></i><i class="b32q"></i><i class="b32r"></i><i class="b32s"></i><i class="b32t"></i><i class="b32u"></i><i class="b32v"></i><i class="b32w"></i><i class="b32x"></i><i class="b32y"></i><i class="b32z"></i><i class="b330"></i><i class="b331"></i><i class="b332"></i><i class="b333"></i><i class="b334"></i><i class="b335"></i><i class="b336"></i><i class="b337"></i><i class="b338"></i><i class="b339"></i><i class="b33a"></i><i></i><i></i><i></i></div>
<div class="band" style="left:327px;top:299px;width:76px;--o:6px"><i></i><i class="b01"></i><i class="b02"></i><i class="b03"></i><i class="b04"></i><i class="b05"></i><i class="b06"></i><i class="b07"></i><i class="b08"></i><i class="b09"></i><i class="b0a"></i><i class="b0b"></i><i class="b0c"></i><i class="b0d"></i><i class="b0e"></i><i class="b0f"></i><i class="b0g"></i><i class="b0h"></i><i class="b0i"></i><i class="b0j"></i><i class="b0k"></i><i class="b0l"></i><i class="b0m"></i><i class="b0n"></i><i class="b0o"></i><i class="b0p"></i><i class="b0q"></i><i class="b0r"></i><i class="b0s"></i><i class="b0t"></i><i class="b0u"></i><i class="b0v"></i><i class="b0w"></i><i class="b0x"></i><i class="b0y"></i><i class="b0z"></i><i class="b010"></i><i class="b011"></i><i class="b012"></i><i class="b013"></i><i class="b014"></i><i class="b015"></i><i class="b016"></i><i class="b017"></i><i class="b018"></i><i class="b019"></i><i class="b01a"></i><i class="b01b"></i><i class="b01c"></i><i class="b01d"></i><i class="b01e"></i><i class="b01f"></i><i class="b01g"></i><i class="b01h"></i><i class="b01i"></i><i class="b01j"></i><i class="b01k"></i><i class="b01l"></i><i class="b01m"></i><i class="b01n"></i><i class="b01o"></i><i class="b01p"></i><i class="b01q"></i><i class="b01r"></i><i class="b01s"></i><i class="b01t"></i><i class="b01u"></i><i class="b01v"></i><i class="b01w"></i><i class="b01x"></i><i class="b01y"></i><i class="b01z"></i><i class="b020"></i><i class="b021"></i><i class="b022"></i><i class="b023"></i><i class="b024"></i><i class="b025"></i><i class="b026"></i><i class="b027"></i><i class="b028"></i><i class="b029"></i><i class="b02a"></i><i class="b02b"></i><i class="b02c"></i><i class="b02d"></i><i class="b02e"></i><i class="b02f"></i><i class="b02g"></i><i class="b02h"></i><i class="b02i"></i><i class="b02j"></i><i class="b02k"></i><i class="b02l"></i><i class="b02m"></i><i class="b02n"></i><i class="b02o"></i><i class="b02p"></i><i class="b02q"></i><i class="b02r"></i><i class="b02s"></i><i class="b02t"></i><i class="b02u"></i><i class="b02v"></i><i class="b02w"></i><i class="b02x"></i><i class="b02y"></i><i class="b02z"></i><i class="b030"></i><i class="b031"></i><i class="b032"></i><i class="b033"></i><i class="b034"></i><i class="b035"></i><i class="b036"></i><i class="b037"></i><i class="b038"></i><i class="b039"></i><i class="b03a"></i><i></i><i></i><i></i></div>
<div class="band" style="left:403px;top:299px;width:76px;--o:0px"><i></i><i class="b11"></i><i class="b12"></i><i class="b13"></i><i class="b14"></i><i class="b15"></i><i class="b16"></i><i class="b17"></i><i class="b18"></i><i class="b19"></i><i class="b1a"></i><i class="b1b"></i><i class="b1c"></i><i class="b1d"></i><i class="b1e"></i><i class="b1f"></i><i class="b1g"></i><i class="b1h"></i><i class="b1i"></i><i class="b1j"></i><i class="b1k"></i><i class="b1l"></i><i class="b1m"></i><i class="b1n"></i><i class="b1o"></i><i class="b1p"></i><i class="b1q"></i><i class="b1r"></i><i class="b1s"></i><i class="b1t"></i><i class="b1u"></i><i class="b1v"></i><i class="b1w"></i><i class="b1x"></i><i class="b1y"></i><i class="b1z"></i><i class="b110"></i><i class="b111"></i><i class="b112"></i><i class="b113"></i><i class="b114"></i><i class="b115"></i><i class="b116"></i><i class="b117"></i><i class="b118"></i><i class="b119"></i><i class="b11a"></i><i class="b11b"></i><i class="b11c"></i><i class="b11d"></i><i class="b11e"></i><i class="b11f"></i><i class="b11g"></i><i class="b11h"></i><i class="b11i"></i><i class="b11j"></i><i class="b11k"></i><i class="b11l"></i><i class="b11m"></i><i class="b11n"></i><i class="b11o"></i><i class="b11p"></i><i class="b11q"></i><i class="b11r"></i><i class="b11s"></i><i class="b11t"></i><i class="b11u"></i><i class="b11v"></i><i class="b11w"></i><i class="b11x"></i><i class="b11y"></i><i class="b11z"></i><i class="b120"></i><i class="b121"></i><i class="b122"></i><i class="b123"></i><i class="b124"></i><i class="b125"></i><i class="b126"></i><i class="b127"></i><i class="b128"></i><i class="b129"></i><i class="b12a"></i><i class="b12b"></i><i class="b12c"></i><i class="b12d"></i><i class="b12e"></i><i class="b12f"></i><i class="b12g"></i><i class="b12h"></i><i class="b12i"></i><i class="b12j"></i><i class="b12k"></i><i class="b12l"></i><i class="b12m"></i><i class="b12n"></i><i class="b12o"></i><i class="b12p"></i><i class="b12q"></i><i class="b12r"></i><i class="b12s"></i><i class="b12t"></i><i class="b12u"></i><i class="b12v"></i><i class="b12w"></i><i class="b12x"></i><i class="b12y"></i><i class="b12z"></i><i class="b130"></i><i class="b131"></i><i class="b132"></i><i class="b133"></i><i class="b134"></i><i class="b135"></i><i class="b136"></i><i class="b137"></i><i class="b138"></i><i class="b139"></i><i class="b13a"></i><i></i><i></i><i></i></div>
<div class="band" style="left:479px;top:299px;width:75px;--o:1px"><i></i><i class="b21"></i><i class="b22"></i><i class="b23"></i><i class="b24"></i><i class="b25"></i><i class="b26"></i><i class="b27"></i><i class="b28"></i><i class="b29"></i><i class="b2a"></i><i class="b2b"></i><i class="b2c"></i><i class="b2d"></i><i class="b2e"></i><i class="b2f"></i><i class="b2g"></i><i class="b2h"></i><i class="b2i"></i><i class="b2j"></i><i class="b2k"></i><i class="b2l"></i><i class="b2m"></i><i class="b2n"></i><i class="b2o"></i><i class="b2p"></i><i class="b2q"></i><i class="b2r"></i><i class="b2s"></i><i class="b2t"></i><i class="b2u"></i><i class="b2v"></i><i class="b2w"></i><i class="b2x"></i><i class="b2y"></i><i class="b2z"></i><i class="b210"></i><i class="b211"></i><i class="b212"></i><i class="b213"></i><i class="b214"></i><i class="b215"></i><i class="b216"></i><i class="b217"></i><i class="b218"></i><i class="b219"></i><i class="b21a"></i><i class="b21b"></i><i class="b21c"></i><i class="b21d"></i><i class="b21e"></i><i class="b21f"></i><i class="b21g"></i><i class="b21h"></i><i class="b21i"></i><i class="b21j"></i><i class="b21k"></i><i class="b21l"></i><i class="b21m"></i><i class="b21n"></i><i class="b21o"></i><i class="b21p"></i><i class="b21q"></i><i class="b21r"></i><i class="b21s"></i><i class="b21t"></i><i class="b21u"></i><i class="b21v"></i><i class="b21w"></i><i class="b21x"></i><i class="b21y"></i><i class="b21z"></i><i class="b220"></i><i class="b221"></i><i class="b222"></i><i class="b223"></i><i class="b224"></i><i class="b225"></i><i class="b226"></i><i class="b227"></i><i class="b228"></i><i class="b229"></i><i class="b22a"></i><i class="b22b"></i><i class="b22c"></i><i class="b22d"></i><i class="b22e"></i><i class="b22f"></i><i class="b22g"></i><i class="b22h"></i><i class="b22i"></i><i class="b22j"></i><i class="b22k"></i><i class="b22l"></i><i class="b22m"></i><i class="b22n"></i><i class="b22o"></i><i class="b22p"></i><i class="b22q"></i><i class="b22r"></i><i class="b22s"></i><i class="b22t"></i><i class="b22u"></i><i class="b22v"></i><i class="b22w"></i><i class="b22x"></i><i class="b22y"></i><i class="b22z"></i><i class="b230"></i><i class="b231"></i><i class="b232"></i><i class="b233"></i><i class="b234"></i><i class="b235"></i><i class="b236"></i><i class="b237"></i><i class="b238"></i><i class="b239"></i><i class="b23a"></i><i></i><i></i><i></i></div>
<div class="band" style="left:554px;top:299px;width:76px;--o:3px"><i></i><i class="b31"></i><i class="b32"></i><i class="b33"></i><i class="b34"></i><i class="b35"></i><i class="b36"></i><i class="b37"></i><i class="b38"></i><i class="b39"></i><i class="b3a"></i><i class="b3b"></i><i class="b3c"></i><i class="b3d"></i><i class="b3e"></i><i class="b3f"></i><i class="b3g"></i><i class="b3h"></i><i class="b3i"></i><i class="b3j"></i><i class="b3k"></i><i class="b3l"></i><i class="b3m"></i><i class="b3n"></i><i class="b3o"></i><i class="b3p"></i><i class="b3q"></i><i class="b3r"></i><i class="b3s"></i><i class="b3t"></i><i class="b3u"></i><i class="b3v"></i><i class="b3w"></i><i class="b3x"></i><i class="b3y"></i><i class="b3z"></i><i class="b310"></i><i class="b311"></i><i class="b312"></i><i class="b313"></i><i class="b314"></i><i class="b315"></i><i class="b316"></i><i class="b317"></i><i class="b318"></i><i class="b319"></i><i class="b31a"></i><i class="b31b"></i><i class="b31c"></i><i class="b31d"></i><i class="b31e"></i><i class="b31f"></i><i class="b31g"></i><i class="b31h"></i><i class="b31i"></i><i class="b31j"></i><i class="b31k"></i><i class="b31l"></i><i class="b31m"></i><i class="b31n"></i><i class="b31o"></i><i class="b31p"></i><i class="b31q"></i><i class="b31r"></i><i class="b31s"></i><i class="b31t"></i><i class="b31u"></i><i class="b31v"></i><i class="b31w"></i><i class="b31x"></i><i class="b31y"></i><i class="b31z"></i><i class="b320"></i><i class="b321"></i><i class="b322"></i><i class="b323"></i><i class="b324"></i><i class="b325"></i><i class="b326"></i><i class="b327"></i><i class="b328"></i><i class="b329"></i><i class="b32a"></i><i class="b32b"></i><i class="b32c"></i><i class="b32d"></i><i class="b32e"></i><i class="b32f"></i><i class="b32g"></i><i class="b32h"></i><i class="b32i"></i><i class="b32j"></i><i class="b32k"></i><i class="b32l"></i><i class="b32m"></i><i class="b32n"></i><i class="b32o"></i><i class="b32p"></i><i class="b32q"></i><i class="b32r"></i><i class="b32s"></i><i class="b32t"></i><i class="b32u"></i><i class="b32v"></i><i class="b32w"></i><i class="b32x"></i><i class="b32y"></i><i class="b32z"></i><i class="b330"></i><i class="b331"></i><i class="b332"></i><i class="b333"></i><i class="b334"></i><i class="b335"></i><i class="b336"></i><i class="b337"></i><i class="b338"></i><i class="b339"></i><i class="b33a"></i><i></i><i></i><i></i></div>
<div class="band" style="left:630px;top:299px;width:52px;--o:3px"><i></i><i class="b01"></i><i class="b02"></i><i class="b03"></i><i class="b04"></i><i class="b05"></i><i class="b06"></i><i class="b07"></i><i class="b08"></i><i class="b09"></i><i class="b0a"></i><i class="b0b"></i><i class="b0c"></i><i class="b0d"></i><i class="b0e"></i><i class="b0f"></i><i class="b0g"></i><i class="b0h"></i><i class="b0i"></i><i class="b0j"></i><i class="b0k"></i><i class="b0l"></i><i class="b0m"></i><i class="b0n"></i><i class="b0o"></i><i class="b0p"></i><i class="b0q"></i><i class="b0r"></i><i class="b0s"></i><i class="b0t"></i><i class="b0u"></i><i class="b0v"></i><i class="b0w"></i><i class="b0x"></i><i class="b0y"></i><i class="b0z"></i><i class="b010"></i><i class="b011"></i><i class="b012"></i><i class="b013"></i><i class="b014"></i><i class="b015"></i><i class="b016"></i><i class="b017"></i><i class="b018"></i><i class="b019"></i><i class="b01a"></i><i class="b01b"></i><i class="b01c"></i><i class="b01d"></i><i class="b01e"></i><i class="b01f"></i><i class="b01g"></i><i class="b01h"></i><i class="b01i"></i><i class="b01j"></i><i class="b01k"></i><i class="b01l"></i><i class="b01m"></i><i class="b01n"></i><i class="b01o"></i><i class="b01p"></i><i class="b01q"></i><i class="b01r"></i><i class="b01s"></i><i class="b01t"></i><i class="b01u"></i><i class="b01v"></i><i class="b01w"></i><i class="b01x"></i><i class="b01y"></i><i class="b01z"></i><i class="b020"></i><i class="b021"></i><i class="b022"></i><i class="b023"></i><i class="b024"></i><i class="b025"></i><i class="b026"></i><i class="b027"></i><i class="b028"></i><i class="b029"></i><i class="b02a"></i><i class="b02b"></i><i class="b02c"></i><i class="b02d"></i><i class="b02e"></i><i class="b02f"></i><i class="b02g"></i><i class="b02h"></i><i class="b02i"></i><i class="b02j"></i><i class="b02k"></i><i class="b02l"></i><i class="b02m"></i><i class="b02n"></i><i class="b02o"></i><i class="b02p"></i><i class="b02q"></i><i class="b02r"></i><i class="b02s"></i><i class="b02t"></i><i class="b02u"></i><i class="b02v"></i><i class="b02w"></i><i class="b02x"></i><i class="b02y"></i><i class="b02z"></i><i class="b030"></i><i class="b031"></i><i class="b032"></i><i class="b033"></i><i class="b034"></i><i class="b035"></i><i class="b036"></i><i class="b037"></i><i class="b038"></i><i class="b039"></i><i class="b03a"></i><i></i><i></i><i></i></div>
<svg class="top" width="685" height="494" viewBox="0 0 685 494">
<rect x="317.8" y="54.2" width="103.39999999999998" height="76.2" fill="#fff" stroke="#4a4a4a" stroke-width="0.7"/>
<clipPath id="c317"><rect x="317.8" y="54.2" width="103.39999999999998" height="76.2"/></clipPath>
<line x1="375.5" y1="54.2" x2="375.5" y2="130.4" stroke="#e8e8e8" stroke-width="0.8"/>
<line x1="317.8" y1="56.6" x2="421.2" y2="56.6" stroke="#eeeeee" stroke-width="0.8"/>
<line x1="317.8" y1="89.6" x2="421.2" y2="89.6" stroke="#eeeeee" stroke-width="0.8"/>
<line x1="317.8" y1="122.6" x2="421.2" y2="122.6" stroke="#eeeeee" stroke-width="0.8"/>
<g clip-path="url(#c317)"><path d="M317.80 121.57L318.57 118.85 319.34 114.13 320.11 107.76 320.89 100.15 321.66 91.83 322.43 83.35 323.20 75.30 323.97 68.22 324.74 62.59 325.52 58.79 326.29 57.08 327.06 57.58 327.83 60.26 328.60 64.92 329.37 71.26 330.15 78.84 330.92 87.15 331.69 95.63 332.46 103.70 333.23 110.81 334.00 116.49 334.78 120.34 335.55 122.10 336.32 121.66 337.09 119.04 337.86 114.43 338.63 108.13 339.41 100.57 340.18 92.27 340.95 83.79 341.72 75.70 342.49 68.56 343.26 62.84 344.04 58.94 344.81 57.12 345.58 57.50 346.35 60.06 347.12 64.63 347.89 70.89 348.67 78.42 349.44 86.70 350.21 95.19 350.98 103.29 351.75 110.47 352.52 116.23 353.30 120.18 354.07 122.06 354.84 121.74 355.61 119.23 356.38 114.72 357.15 108.50 357.93 100.99 358.70 92.72 359.47 84.23 360.24 76.11 361.01 68.90 361.78 63.10 362.56 59.10 363.33 57.16 364.10 57.43 364.87 59.88 365.64 64.34 366.41 70.52 367.19 78.00 367.96 86.26 368.73 94.75 369.50 102.89 370.27 110.12 371.04 115.97 371.81 120.03 372.59 122.02 373.36 121.81 374.13 119.42 374.90 115.00 375.67 108.86 376.44 101.41 377.22 93.16 377.99 84.67 378.76 76.52 379.53 69.25 380.30 63.36 381.07 59.26 381.85 57.21 382.62 57.36 383.39 59.70 384.16 64.06 384.93 70.16 385.70 77.58 386.48 85.81 387.25 94.30 388.02 102.48 388.79 109.77 389.56 115.70 390.33 119.86 391.11 121.97 391.88 121.87 392.65 119.59 393.42 115.28 394.19 109.22 394.96 101.83 395.74 93.61 396.51 85.12 397.28 76.93 398.05 69.60 398.82 63.63 399.59 59.42 400.37 57.26 401.14 57.29 401.91 59.52 402.68 63.79 403.45 69.80 404.22 77.16 405.00 85.37 405.77 93.86 406.54 102.06 407.31 109.42 408.08 115.43 408.85 119.69 409.63 121.91 410.40 121.93 411.17 119.77 411.94 115.55 412.71 109.57 413.48 102.24 414.26 94.05 415.03 85.56 415.80 77.34 416.57 69.96 417.34 63.90 418.11 59.59 418.89 57.32 419.66 57.24 420.43 59.35 421.20 63.51" fill="none" stroke="#D95319" stroke-width="1.45"/><path d="M317.80 79.12L318.57 87.45 319.34 95.92 320.11 103.97 320.89 111.04 321.66 116.65 322.43 120.43 323.20 122.12 323.97 121.60 324.74 118.91 325.52 114.23 326.29 107.88 327.06 100.29 327.83 91.97 328.60 83.50 329.37 75.43 330.15 68.33 330.92 62.67 331.69 58.84 332.46 57.09 333.23 57.56 334.00 60.19 334.78 64.82 335.55 71.13 336.32 78.70 337.09 87.00 337.86 95.48 338.63 103.56 339.41 110.70 340.18 116.40 340.95 120.29 341.72 122.09 342.49 121.68 343.26 119.11 344.04 114.52 344.81 108.25 345.58 100.71 346.35 92.42 347.12 83.94 347.89 75.84 348.67 68.67 349.44 62.93 350.21 58.99 350.98 57.13 351.75 57.48 352.52 60.00 353.30 64.53 354.07 70.77 354.84 78.28 355.61 86.56 356.38 95.04 357.15 103.16 357.93 110.36 358.70 116.14 359.47 120.13 360.24 122.05 361.01 121.76 361.78 119.29 362.56 114.81 363.33 108.62 364.10 101.13 364.87 92.87 365.64 84.38 366.41 76.25 367.19 69.02 367.96 63.19 368.73 59.15 369.50 57.18 370.27 57.40 371.04 59.82 371.81 64.25 372.59 70.40 373.36 77.86 374.13 86.11 374.90 94.60 375.67 102.75 376.44 110.01 377.22 115.88 377.99 119.97 378.76 122.00 379.53 121.83 380.30 119.48 381.07 115.09 381.85 108.98 382.62 101.55 383.39 93.31 384.16 84.82 384.93 76.66 385.70 69.37 386.48 63.45 387.25 59.31 388.02 57.23 388.79 57.34 389.56 59.64 390.33 63.97 391.11 70.04 391.88 77.44 392.65 85.67 393.42 94.16 394.19 102.34 394.96 109.66 395.74 115.61 396.51 119.81 397.28 121.95 398.05 121.90 398.82 119.65 399.59 115.37 400.37 109.34 401.14 101.97 401.91 93.76 402.68 85.27 403.45 77.07 404.22 69.72 405.00 63.72 405.77 59.48 406.54 57.28 407.31 57.27 408.08 59.46 408.85 63.69 409.63 69.68 410.40 77.03 411.17 85.22 411.94 93.71 412.71 101.93 413.48 109.30 414.26 115.34 415.03 119.63 415.80 121.89 416.57 121.95 417.34 119.82 418.11 115.64 418.89 109.69 419.66 102.38 420.43 94.20 421.20 85.71" fill="none" stroke="#1E90FF" stroke-width="1.45"/><path d="M317.80 68.11L318.57 62.50 319.34 58.74 320.11 57.07 320.89 57.61 321.66 60.32 322.43 65.02 323.20 71.38 323.97 78.98 324.74 87.30 325.52 95.78 326.29 103.83 327.06 110.93 327.83 116.57 328.60 120.38 329.37 122.11 330.15 121.63 330.92 118.98 331.69 114.33 332.46 108.01 333.23 100.43 334.00 92.12 334.78 83.64 335.55 75.57 336.32 68.44 337.09 62.76 337.86 58.89 338.63 57.11 339.41 57.53 340.18 60.13 340.95 64.72 341.72 71.01 342.49 78.56 343.26 86.85 344.04 95.34 344.81 103.43 345.58 110.58 346.35 116.32 347.12 120.23 347.89 122.07 348.67 121.71 349.44 119.17 350.21 114.62 350.98 108.37 351.75 100.85 352.52 92.57 353.30 84.08 354.07 75.97 354.84 68.79 355.61 63.01 356.38 59.04 357.15 57.15 357.93 57.45 358.70 59.94 359.47 64.44 360.24 70.64 361.01 78.14 361.78 86.41 362.56 94.89 363.33 103.02 364.10 110.24 364.87 116.06 365.64 120.08 366.41 122.03 367.19 121.79 367.96 119.35 368.73 114.90 369.50 108.74 370.27 101.27 371.04 93.02 371.81 84.53 372.59 76.38 373.36 69.13 374.13 63.27 374.90 59.20 375.67 57.19 376.44 57.38 377.22 59.75 377.99 64.15 378.76 70.28 379.53 77.72 380.30 85.96 381.07 94.45 381.85 102.61 382.62 109.89 383.39 115.79 384.16 119.92 384.93 121.98 385.70 121.85 386.48 119.53 387.25 115.18 388.02 109.10 388.79 101.69 389.56 93.46 390.33 84.97 391.11 76.79 391.88 69.48 392.65 63.54 393.42 59.37 394.19 57.24 394.96 57.31 395.74 59.58 396.51 63.88 397.28 69.92 398.05 77.30 398.82 85.52 399.59 94.01 400.37 102.20 401.14 109.54 401.91 115.52 402.68 119.75 403.45 121.93 404.22 121.92 405.00 119.71 405.77 115.46 406.54 109.46 407.31 102.10 408.08 93.91 408.85 85.41 409.63 77.21 410.40 69.84 411.17 63.81 411.94 59.54 412.71 57.30 413.48 57.26 414.26 59.41 415.03 63.60 415.80 69.57 416.57 76.89 417.34 85.07 418.11 93.56 418.89 101.79 419.66 109.18 420.43 115.25 421.20 119.58" fill="none" stroke="#00FF00" stroke-width="1.45"/></g>
<rect x="327.4" y="318.6" width="85.60000000000002" height="76.5" fill="#fff" stroke="#4a4a4a" stroke-width="0.7"/>
<clipPath id="c327"><rect x="327.4" y="318.6" width="85.60000000000002" height="76.5"/></clipPath>
<line x1="403.5" y1="318.6" x2="403.5" y2="395.1" stroke="#e8e8e8" stroke-width="0.8"/>
<line x1="327.4" y1="326.4" x2="413.0" y2="326.4" stroke="#eeeeee" stroke-width="0.8"/>
<line x1="327.4" y1="356.9" x2="413.0" y2="356.9" stroke="#eeeeee" stroke-width="0.8"/>
<line x1="327.4" y1="387.4" x2="413.0" y2="387.4" stroke="#eeeeee" stroke-width="0.8"/>
<g clip-path="url(#c327)"><path d="M327.40 377.29L328.44 370.74 329.49 363.25 330.53 355.32 331.58 347.51 332.62 340.33 333.66 334.28 334.71 329.76 335.75 327.09 336.80 326.44 337.84 327.86 338.88 331.25 339.93 336.38 340.97 342.91 342.01 350.38 343.06 358.30 344.10 366.12 345.15 373.32 346.19 379.40 347.23 383.96 348.28 386.68 349.32 387.37 350.37 386.00 351.41 382.65 352.45 377.55 353.50 371.05 354.54 363.59 355.59 355.68 356.63 347.84 357.67 340.63 358.72 334.52 359.76 329.92 360.80 327.16 361.85 326.42 362.89 327.75 363.94 331.06 364.98 336.12 366.02 342.59 367.07 350.04 368.11 357.95 369.16 365.79 370.20 373.02 371.24 379.16 372.29 383.79 373.33 386.60 374.38 387.38 375.42 386.10 376.46 382.84 377.51 377.81 378.55 371.36 379.60 363.94 380.64 356.03 381.68 348.18 382.73 340.93 383.77 334.76 384.81 330.09 385.86 327.24 386.90 326.41 387.95 327.65 388.99 330.87 390.03 335.86 391.08 342.28 392.12 349.69 393.17 357.59 394.21 365.45 395.25 372.72 396.30 378.92 397.34 383.63 398.39 386.52 399.43 387.39 400.47 386.20 401.52 383.02 402.56 378.07 403.60 371.67 404.65 364.28 405.69 356.38 406.74 348.52 407.78 341.23 408.82 335.00 409.87 330.26 410.91 327.33 411.96 326.40 413.00 327.55" fill="none" stroke="#FF0000" stroke-width="1.45"/><path d="M327.40 366.35L328.44 373.52 329.49 379.56 330.53 384.07 331.58 386.73 332.62 387.36 333.66 385.93 334.71 382.52 335.75 377.38 336.80 370.84 337.84 363.36 338.88 355.44 339.93 347.62 340.97 340.43 342.01 334.36 343.06 329.81 344.10 327.11 345.15 326.43 346.19 327.82 347.23 331.18 348.28 336.29 349.32 342.80 350.37 350.27 351.41 358.18 352.45 366.01 353.50 373.22 354.54 379.32 355.59 383.90 356.63 386.65 357.67 387.38 358.72 386.03 359.76 382.71 360.80 377.64 361.85 371.16 362.89 363.71 363.94 355.79 364.98 347.96 366.02 340.73 367.07 334.60 368.11 329.98 369.16 327.19 370.20 326.42 371.24 327.71 372.29 330.99 373.33 336.03 374.38 342.49 375.42 349.92 376.46 357.83 377.51 365.67 378.55 372.92 379.60 379.08 380.64 383.74 381.68 386.57 382.73 387.39 383.77 386.14 384.81 382.90 385.86 377.90 386.90 371.47 387.95 364.05 388.99 356.15 390.03 348.30 391.08 341.03 392.12 334.84 393.17 330.15 394.21 327.27 395.25 326.41 396.30 327.61 397.34 330.81 398.39 335.78 399.43 342.18 400.47 349.58 401.52 357.48 402.56 365.33 403.60 372.62 404.65 378.84 405.69 383.57 406.74 386.49 407.78 387.40 408.82 386.23 409.87 383.08 410.91 378.15 411.96 371.78 413.00 364.39" fill="none" stroke="#00FF00" stroke-width="1.45"/><path d="M327.40 327.06L328.44 326.44 329.49 327.89 330.53 331.31 331.58 336.47 332.62 343.01 333.66 350.50 334.71 358.42 335.75 366.24 336.80 373.42 337.84 379.48 338.88 384.01 339.93 386.70 340.97 387.37 342.01 385.96 343.06 382.59 344.10 377.46 345.15 370.95 346.19 363.48 347.23 355.56 348.28 347.73 349.32 340.53 350.37 334.44 351.41 329.87 352.45 327.14 353.50 326.43 354.54 327.78 355.59 331.12 356.63 336.21 357.67 342.70 358.72 350.15 359.76 358.07 360.80 365.90 361.85 373.12 362.89 379.24 363.94 383.85 364.98 386.62 366.02 387.38 367.07 386.07 368.11 382.77 369.16 377.72 370.20 371.26 371.24 363.82 372.29 355.91 373.33 348.07 374.38 340.83 375.42 334.68 376.46 330.03 377.51 327.22 378.55 326.41 379.60 327.68 380.64 330.93 381.68 335.95 382.73 342.38 383.77 349.81 384.81 357.71 385.86 365.56 386.90 372.82 387.95 379.00 388.99 383.68 390.03 386.54 391.08 387.39 392.12 386.17 393.17 382.96 394.21 377.98 395.25 371.57 396.30 364.16 397.34 356.27 398.39 348.41 399.43 341.13 400.47 334.92 401.52 330.20 402.56 327.30 403.60 326.40 404.65 327.58 405.69 330.75 406.74 335.69 407.78 342.07 408.82 349.46 409.87 357.36 410.91 365.22 411.96 372.52 413.00 378.76" fill="none" stroke="#0000FF" stroke-width="1.45"/></g>
<rect x="682" y="33.3" width="0.6" height="104.7" fill="#22cc55" opacity="0.6"/>
<rect x="681.6" y="138" width="1" height="14" fill="#D95319" opacity="0.8"/>
<rect x="682" y="300.8" width="0.6" height="97" fill="#0000ff" opacity="0.7"/>
<rect x="681.6" y="398" width="1" height="20" fill="#ff0000" opacity="0.8"/>
<rect x="603.2" y="65.8" width="75.59999999999991" height="49.10000000000001" fill="#fff" stroke="#777" stroke-width="0.8"/>
<line x1="605.2" y1="74.5" x2="625.6" y2="74.5" stroke="#D95319" stroke-width="1.3"/>
<text x="630.4" y="78.9" font-size="13.2" font-weight="bold" text-anchor="start" >Phase A</text>
<line x1="605.2" y1="90.8" x2="625.6" y2="90.8" stroke="#1E90FF" stroke-width="1.3"/>
<text x="630.4" y="95.2" font-size="13.2" font-weight="bold" text-anchor="start" >Phase B</text>
<line x1="605.2" y1="106.3" x2="625.6" y2="106.3" stroke="#00FF00" stroke-width="1.3"/>
<text x="630.4" y="110.9" font-size="13.2" font-weight="bold" text-anchor="start" >Phase C</text>
<rect x="598.7" y="331.6" width="75.79999999999995" height="48.39999999999998" fill="#fff" stroke="#777" stroke-width="0.8"/>
<line x1="600.9" y1="339.7" x2="620.9" y2="339.7" stroke="#FF0000" stroke-width="1.3"/>
<text x="626.2" y="344.7" font-size="13.2" font-weight="bold" text-anchor="start" >Phase A</text>
<line x1="600.9" y1="355.7" x2="620.9" y2="355.7" stroke="#00FF00" stroke-width="1.3"/>
<text x="626.2" y="360.7" font-size="13.2" font-weight="bold" text-anchor="start" >Phase B</text>
<line x1="600.9" y1="371.8" x2="620.9" y2="371.8" stroke="#0000FF" stroke-width="1.3"/>
<text x="626.2" y="376.8" font-size="13.2" font-weight="bold" text-anchor="start" >Phase C</text>
<text x="53.90" y="185.3" font-size="15" font-weight="bold" text-anchor="middle" >0</text>
<text x="53.90" y="451.0" font-size="15" font-weight="bold" text-anchor="middle" >0</text>
<text x="158.50" y="185.3" font-size="15" font-weight="bold" text-anchor="middle" >0.5</text>
<text x="158.50" y="451.0" font-size="15" font-weight="bold" text-anchor="middle" >0.5</text>
<text x="263.10" y="185.3" font-size="15" font-weight="bold" text-anchor="middle" >1</text>
<text x="263.10" y="451.0" font-size="15" font-weight="bold" text-anchor="middle" >1</text>
<text x="367.70" y="185.3" font-size="15" font-weight="bold" text-anchor="middle" >1.5</text>
<text x="367.70" y="451.0" font-size="15" font-weight="bold" text-anchor="middle" >1.5</text>
<text x="472.30" y="185.3" font-size="15" font-weight="bold" text-anchor="middle" >2</text>
<text x="472.30" y="451.0" font-size="15" font-weight="bold" text-anchor="middle" >2</text>
<text x="576.90" y="185.3" font-size="15" font-weight="bold" text-anchor="middle" >2.5</text>
<text x="576.90" y="451.0" font-size="15" font-weight="bold" text-anchor="middle" >2.5</text>
<text x="681.50" y="185.3" font-size="15" font-weight="bold" text-anchor="middle" >3</text>
<text x="681.50" y="451.0" font-size="15" font-weight="bold" text-anchor="middle" >3</text>
<text x="49" y="39.32" font-size="15" font-weight="bold" text-anchor="end" >2</text>
<text x="49" y="307.02" font-size="15" font-weight="bold" text-anchor="end" >2</text>
<text x="49" y="68.96" font-size="15" font-weight="bold" text-anchor="end" >1</text>
<text x="49" y="336.26" font-size="15" font-weight="bold" text-anchor="end" >1</text>
<text x="49" y="98.60" font-size="15" font-weight="bold" text-anchor="end" >0</text>
<text x="49" y="365.50" font-size="15" font-weight="bold" text-anchor="end" >0</text>
<text x="49" y="128.24" font-size="15" font-weight="bold" text-anchor="end" >-1</text>
<text x="49" y="394.74" font-size="15" font-weight="bold" text-anchor="end" >-1</text>
<text x="49" y="157.88" font-size="15" font-weight="bold" text-anchor="end" >-2</text>
<text x="49" y="423.98" font-size="15" font-weight="bold" text-anchor="end" >-2</text>
<text x="55.5" y="15.6" font-size="15"><tspan font-weight="normal" font-size="18" dy="2.2">×</tspan><tspan font-weight="bold" dx="1.2" dy="-2.2">10</tspan><tspan font-weight="bold" font-size="11" dy="-8.3">4</tspan></text>
<text x="55.5" y="283.5" font-size="15"><tspan font-weight="normal" font-size="18" dy="2.2">×</tspan><tspan font-weight="bold" dx="1.2" dy="-2.2">10</tspan><tspan font-weight="bold" font-size="11" dy="-8.3">4</tspan></text>
<text x="319.6" y="52.4" font-size="17" font-weight="normal">×</text>
<text x="331.20000000000005" y="50.8" font-size="14" font-weight="bold" letter-spacing="0.5">10</text>
<text x="346.6" y="43.4" font-size="9.5" font-weight="bold">4</text>
<text x="312.6" y="61.7" font-size="14" font-weight="bold" text-anchor="end" >2</text>
<text x="312.6" y="95.7" font-size="14" font-weight="bold" text-anchor="end" >0</text>
<text x="312.6" y="129.1" font-size="14" font-weight="bold" text-anchor="end" >-2</text>
<text x="320.6" y="149.2" font-size="14" font-weight="bold" text-anchor="middle" >1.15</text>
<text x="375.6" y="149.0" font-size="14" font-weight="bold" text-anchor="middle" >1.2</text>
<text x="329.6" y="316.3" font-size="17" font-weight="normal">×</text>
<text x="342.0" y="315.8" font-size="14" font-weight="bold" letter-spacing="0.0">10</text>
<text x="357.1" y="306.8" font-size="9.5" font-weight="bold">4</text>
<text x="322.4" y="331.3" font-size="14" font-weight="bold" text-anchor="end" >2</text>
<text x="322.4" y="362.7" font-size="14" font-weight="bold" text-anchor="end" >0</text>
<text x="322.4" y="394.5" font-size="14" font-weight="bold" text-anchor="end" >-2</text>
<text x="328.2" y="414.3" font-size="14" font-weight="bold" text-anchor="middle" >1.95</text>
<text x="403.9" y="414.3" font-size="14" font-weight="bold" text-anchor="middle" >2</text>
<text x="375.8" y="204.0" font-size="16.2" font-weight="bold" text-anchor="middle" >Time (S)</text>
<text x="374.4" y="470.0" font-size="16.2" font-weight="bold" text-anchor="middle" >Time (S)</text>
<text transform="translate(11.8,94.9) rotate(-90)" font-size="16.8" font-weight="bold" text-anchor="middle">Vabc Grid Voltage</text>
<text transform="translate(30.8,91.9) rotate(-90)" font-size="16.5" font-weight="bold" text-anchor="middle">RL</text>
<text transform="translate(11.8,361.3) rotate(-90)" font-size="16.8" font-weight="bold" text-anchor="middle">Vabc Grid Voltage</text>
<text transform="translate(30.8,359.5) rotate(-90)" font-size="16.5" font-weight="bold" text-anchor="middle">ANN</text>
<text x="342.9" y="224.6" font-size="18.3" font-weight="normal" text-anchor="middle" >(a)</text>
<text x="342.8" y="489.5" font-size="18.3" font-weight="normal" text-anchor="middle" >(b)</text>
</svg>
</body></html>
